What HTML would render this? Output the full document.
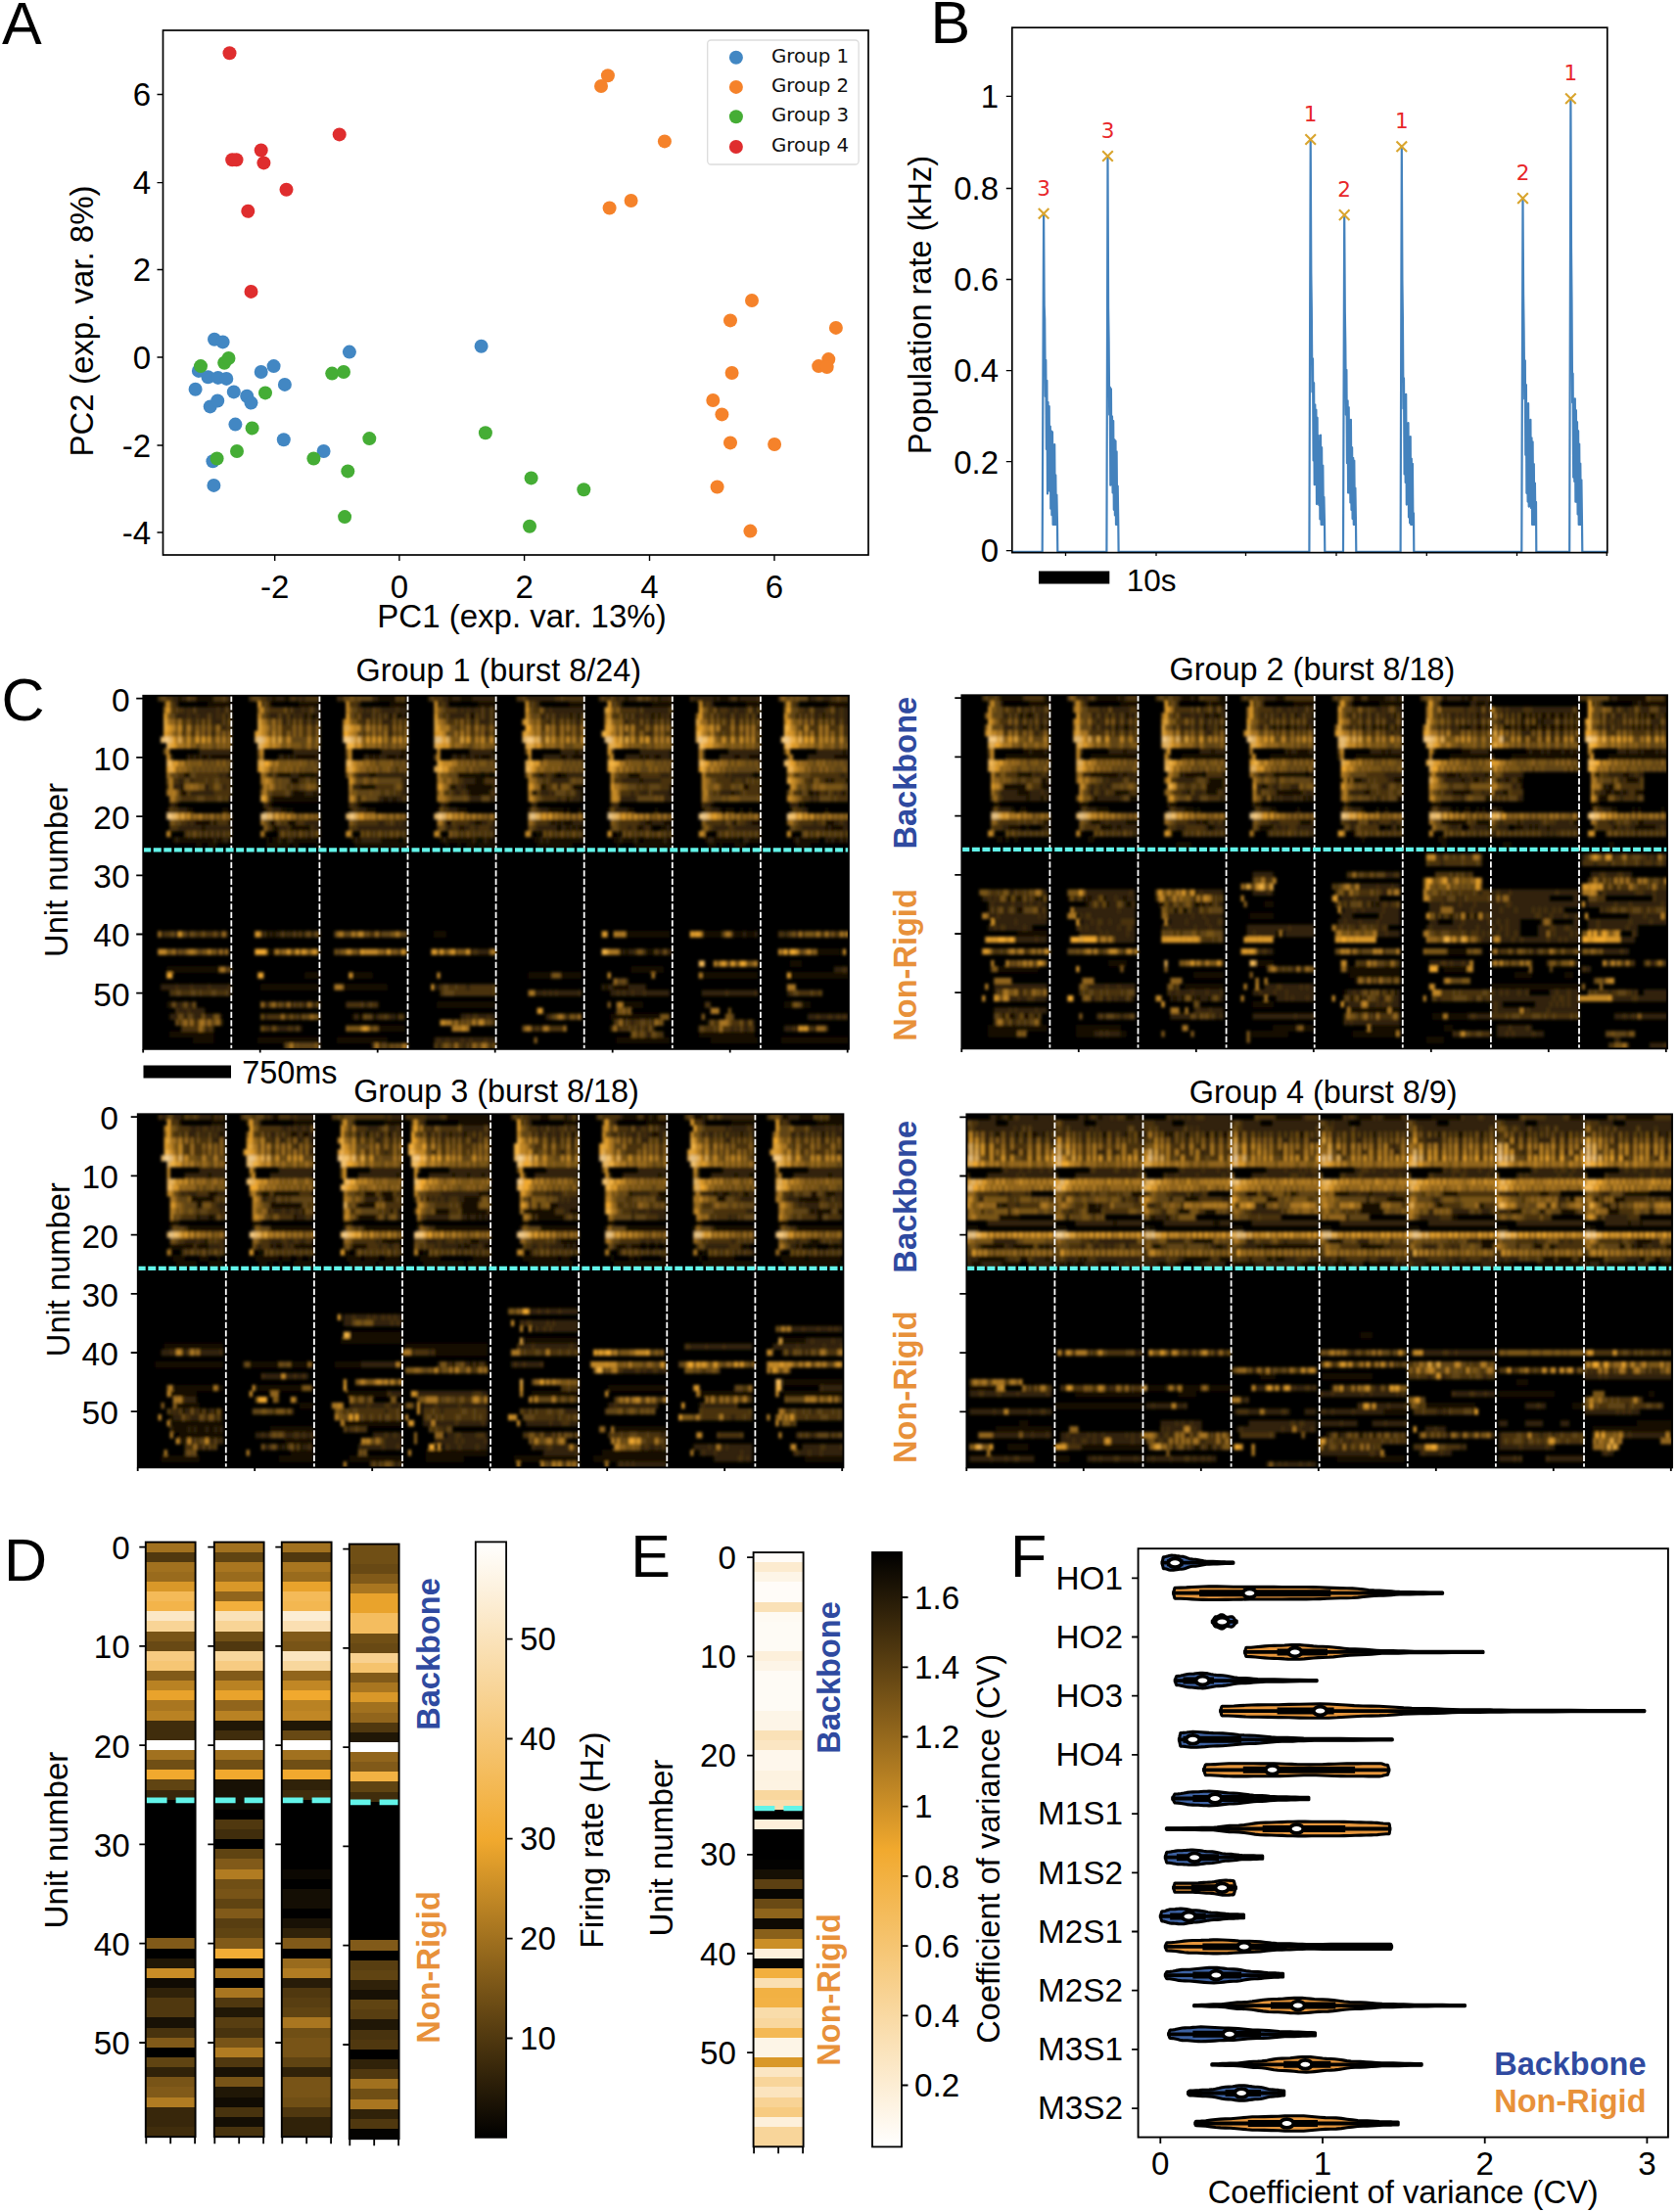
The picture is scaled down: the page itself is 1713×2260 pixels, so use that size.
<!DOCTYPE html>
<html><head><meta charset="utf-8"><title>Figure</title>
<style>html,body{margin:0;padding:0;background:#fff;overflow:hidden}svg{display:block}text{font-family:"Liberation Sans",sans-serif}</style>
</head><body>
<svg width="1713" height="2260" viewBox="0 0 1713 2260">
<rect width="1713" height="2260" fill="#fff"/>
<text x="2.1" y="44.7" font-size="61">A</text>
<g fill="#4287c3"><circle cx="219" cy="346.7" r="7"/><circle cx="227.6" cy="349.4" r="7"/><circle cx="202.9" cy="378.9" r="7"/><circle cx="199.6" cy="397.7" r="7"/><circle cx="212.5" cy="385.3" r="7"/><circle cx="222.7" cy="385.9" r="7"/><circle cx="231.3" cy="386.9" r="7"/><circle cx="238.8" cy="400.4" r="7"/><circle cx="252.2" cy="404.7" r="7"/><circle cx="256.5" cy="411.6" r="7"/><circle cx="214.7" cy="415.4" r="7"/><circle cx="222.2" cy="409.5" r="7"/><circle cx="240.4" cy="433.6" r="7"/><circle cx="266.7" cy="380" r="7"/><circle cx="279.6" cy="374.1" r="7"/><circle cx="290.9" cy="392.9" r="7"/><circle cx="289.8" cy="449.2" r="7"/><circle cx="330.6" cy="461" r="7"/><circle cx="217.4" cy="471.2" r="7"/><circle cx="218.4" cy="495.9" r="7"/><circle cx="356.9" cy="359.6" r="7"/><circle cx="491.6" cy="353.7" r="7"/></g>
<g fill="#f5822a"><circle cx="614" cy="88" r="7"/><circle cx="620.9" cy="77.3" r="7"/><circle cx="678.9" cy="144.4" r="7"/><circle cx="622.6" cy="212.5" r="7"/><circle cx="644.6" cy="205" r="7"/><circle cx="768" cy="307" r="7"/><circle cx="746" cy="327.4" r="7"/><circle cx="853.9" cy="334.9" r="7"/><circle cx="846.3" cy="367.1" r="7"/><circle cx="836.2" cy="374.1" r="7"/><circle cx="844.7" cy="375.1" r="7"/><circle cx="747.6" cy="381" r="7"/><circle cx="728.3" cy="409" r="7"/><circle cx="737.4" cy="423.4" r="7"/><circle cx="746" cy="452.4" r="7"/><circle cx="791.1" cy="454" r="7"/><circle cx="732.6" cy="497.5" r="7"/><circle cx="766.4" cy="542.6" r="7"/></g>
<g fill="#45ad35"><circle cx="205" cy="374.1" r="7"/><circle cx="229.2" cy="370.8" r="7"/><circle cx="233.5" cy="366" r="7"/><circle cx="271" cy="401.4" r="7"/><circle cx="257.6" cy="437.4" r="7"/><circle cx="242" cy="461" r="7"/><circle cx="221.6" cy="468.5" r="7"/><circle cx="339.2" cy="381.6" r="7"/><circle cx="351" cy="380" r="7"/><circle cx="377.3" cy="448.1" r="7"/><circle cx="320.4" cy="468.5" r="7"/><circle cx="355.3" cy="481.4" r="7"/><circle cx="352.1" cy="528.1" r="7"/><circle cx="495.9" cy="442.2" r="7"/><circle cx="542.6" cy="488.4" r="7"/><circle cx="596.3" cy="500.2" r="7"/><circle cx="541" cy="537.8" r="7"/></g>
<g fill="#df2d2e"><circle cx="234.5" cy="54.2" r="7"/><circle cx="346.7" cy="137.4" r="7"/><circle cx="237.2" cy="163.2" r="7"/><circle cx="241.5" cy="163.2" r="7"/><circle cx="266.7" cy="153.5" r="7"/><circle cx="269.4" cy="166.4" r="7"/><circle cx="292.5" cy="193.7" r="7"/><circle cx="253.3" cy="215.7" r="7"/><circle cx="256.5" cy="297.9" r="7"/></g>
<rect x="166.5" y="31" width="720.5" height="536" fill="none" stroke="#000" stroke-width="1.7"/>
<text x="280.7" y="611" font-size="33" text-anchor="middle">-2</text>
<text x="407.9" y="611" font-size="33" text-anchor="middle">0</text>
<text x="535.6" y="611" font-size="33" text-anchor="middle">2</text>
<text x="663.5" y="611" font-size="33" text-anchor="middle">4</text>
<text x="791" y="611" font-size="33" text-anchor="middle">6</text>
<text x="154" y="108.3" font-size="33" text-anchor="end">6</text>
<text x="154" y="198.4" font-size="33" text-anchor="end">4</text>
<text x="154" y="287.3" font-size="33" text-anchor="end">2</text>
<text x="154" y="376.8" font-size="33" text-anchor="end">0</text>
<text x="154" y="466.8" font-size="33" text-anchor="end">-2</text>
<text x="154" y="555.8" font-size="33" text-anchor="end">-4</text>
<path d="M280.7 567v6M407.9 567v6M535.6 567v6M663.5 567v6M791 567v6M166.5 96.5h-6M166.5 186.6h-6M166.5 275.5h-6M166.5 365h-6M166.5 455h-6M166.5 544h-6" stroke="#000" stroke-width="1.4"/>
<text x="533" y="641" font-size="33" text-anchor="middle">PC1 (exp. var. 13%)</text>
<text font-size="33" text-anchor="middle" transform="translate(95 328) rotate(-90)">PC2 (exp. var. 8%)</text>
<rect x="722.7" y="41" width="154.4" height="127" fill="#fff" stroke="#dcdcdc" stroke-width="1.3" rx="3.5"/>
<circle cx="751.9" cy="58.8" r="7" fill="#4287c3"/>
<text x="788" y="63.6" font-size="19.8" fill="#111" style="font-family:'DejaVu Sans',sans-serif">Group 1</text>
<circle cx="751.9" cy="88.9" r="7" fill="#f5822a"/>
<text x="788" y="93.7" font-size="19.8" fill="#111" style="font-family:'DejaVu Sans',sans-serif">Group 2</text>
<circle cx="751.9" cy="119.3" r="7" fill="#45ad35"/>
<text x="788" y="124.1" font-size="19.8" fill="#111" style="font-family:'DejaVu Sans',sans-serif">Group 3</text>
<circle cx="751.9" cy="150" r="7" fill="#df2d2e"/>
<text x="788" y="154.8" font-size="19.8" fill="#111" style="font-family:'DejaVu Sans',sans-serif">Group 4</text>
<text x="950.5" y="44.4" font-size="61">B</text>
<path d="M1033.8 563.8L1064.7 563.8L1066.1 218.3L1066.7 312.3L1067.2 326.2L1067.8 405L1068.3 367.9L1068.9 459L1069.4 388.8L1070 504.4L1070.5 410.9L1071.1 492.7L1071.7 415.2L1072.2 501.7L1072.8 435.5L1073.3 519.7L1073.9 440.4L1074.4 526.2L1075 441.4L1075.6 535.9L1076.1 459.4L1076.7 535.9L1077.2 454.1L1077.8 535.9L1078.3 485.4L1078.9 535.9L1079.4 505.6L1080 535.9L1080.3 563.8L1130.4 563.8L1131.5 159.5L1132.1 314.7L1132.6 347.9L1133.2 423.7L1133.8 395.7L1134.3 495.7L1134.9 397.4L1135.5 494.7L1136 425.4L1136.6 503.5L1137.2 430.1L1137.8 520.8L1138.3 449.1L1138.9 526.5L1139.5 450.5L1140 535.9L1140.6 461.4L1141.2 535.9L1141.7 496.5L1142.3 535.9L1142.6 563.8L1337.4 563.8L1338.7 142.5L1339.3 278.4L1339.8 315.2L1340.4 400.5L1341 366.4L1341.6 470.5L1342.1 391.2L1342.7 495.2L1343.3 413.3L1343.8 494.9L1344.4 418.7L1345 515.1L1345.6 426.8L1346.1 514.1L1346.7 444.8L1347.3 516.1L1347.9 454.3L1348.4 530.5L1349 444.7L1349.6 535.9L1350.1 457.1L1350.7 535.9L1351.3 475.6L1351.9 535.9L1352.4 507.8L1353 535.9L1353.3 563.8L1372 563.8L1373.2 219.6L1373.8 317.9L1374.3 351.7L1374.9 423.8L1375.4 377.9L1376 473.2L1376.6 409.4L1377.1 503.5L1377.7 416.2L1378.3 503.5L1378.8 435.3L1379.4 513.5L1379.9 428.8L1380.5 520.9L1381.1 457L1381.6 530.1L1382.2 467.8L1382.8 535.9L1383.3 470.6L1383.9 535.9L1384.4 498.5L1385 535.9L1385.3 563.8L1430.6 563.8L1431.8 149.8L1432.4 285.4L1432.9 324.3L1433.5 417.5L1434 386.4L1434.6 484.5L1435.1 410.1L1435.7 492.9L1436.2 402.8L1436.8 515.6L1437.3 434.3L1437.9 505.5L1438.5 432.2L1439 528.4L1439.6 448.9L1440.1 534.3L1440.7 446.1L1441.2 535.9L1441.8 468.5L1442.3 535.9L1442.9 473.8L1443.4 535.9L1444 524.4L1444.3 563.8L1554.3 563.8L1555.5 202.6L1556.1 301L1556.6 338L1557.2 407.5L1557.8 368.3L1558.3 464.8L1558.9 393.1L1559.4 503.8L1560 413L1560.6 512.6L1561.1 412.2L1561.7 517.6L1562.2 429.5L1562.8 509.5L1563.4 428.8L1563.9 518.9L1564.5 447.3L1565.1 535.9L1565.6 451.4L1566.2 535.9L1566.8 474L1567.3 535.9L1567.9 493.5L1568.4 535.9L1569 512.9L1569.3 563.8L1603.2 563.8L1604.4 100.8L1605 253.9L1605.5 307.2L1606.1 411.3L1606.6 381.7L1607.2 487.7L1607.7 408.2L1608.3 492L1608.8 407.3L1609.4 512.7L1609.9 419.2L1610.5 512.8L1611 431.1L1611.6 525.4L1612.1 440.2L1612.7 535.9L1613.2 453.6L1613.8 535.9L1614.3 473.5L1614.9 535.9L1615.4 490.3L1616 535.9L1616.3 563.8L1641.8 563.8" fill="none" stroke="#4482bd" stroke-width="2.2" stroke-linejoin="round"/>
<text x="1066.1" y="199.5" font-size="21.5" text-anchor="middle" fill="#e8262a" style="font-family:'DejaVu Sans',sans-serif">3</text>
<text x="1131.5" y="140.7" font-size="21.5" text-anchor="middle" fill="#e8262a" style="font-family:'DejaVu Sans',sans-serif">3</text>
<text x="1338.7" y="123.7" font-size="21.5" text-anchor="middle" fill="#e8262a" style="font-family:'DejaVu Sans',sans-serif">1</text>
<text x="1373.2" y="200.8" font-size="21.5" text-anchor="middle" fill="#e8262a" style="font-family:'DejaVu Sans',sans-serif">2</text>
<text x="1431.8" y="131" font-size="21.5" text-anchor="middle" fill="#e8262a" style="font-family:'DejaVu Sans',sans-serif">1</text>
<text x="1555.5" y="183.8" font-size="21.5" text-anchor="middle" fill="#e8262a" style="font-family:'DejaVu Sans',sans-serif">2</text>
<text x="1604.4" y="82" font-size="21.5" text-anchor="middle" fill="#e8262a" style="font-family:'DejaVu Sans',sans-serif">1</text>
<path d="M1060.8 213l10.6 10.6m0 -10.6l-10.6 10.6M1126.2 154.2l10.6 10.6m0 -10.6l-10.6 10.6M1333.4 137.2l10.6 10.6m0 -10.6l-10.6 10.6M1367.9 214.3l10.6 10.6m0 -10.6l-10.6 10.6M1426.5 144.5l10.6 10.6m0 -10.6l-10.6 10.6M1550.2 197.3l10.6 10.6m0 -10.6l-10.6 10.6M1599.1 95.5l10.6 10.6m0 -10.6l-10.6 10.6" fill="none" stroke="#d9a52e" stroke-width="2.1"/>
<rect x="1033.8" y="28.2" width="608" height="536.4" fill="none" stroke="#000" stroke-width="1.7"/>
<text x="1020" y="110.2" font-size="33" text-anchor="end">1</text>
<text x="1020" y="204.3" font-size="33" text-anchor="end">0.8</text>
<text x="1020" y="297.3" font-size="33" text-anchor="end">0.6</text>
<text x="1020" y="390.4" font-size="33" text-anchor="end">0.4</text>
<text x="1020" y="483.5" font-size="33" text-anchor="end">0.2</text>
<text x="1020" y="574.4" font-size="33" text-anchor="end">0</text>
<path d="M1033.8 98.4h-6M1033.8 192.5h-6M1033.8 285.5h-6M1033.8 378.6h-6M1033.8 471.7h-6M1033.8 562.6h-6M1088.5 564.6v3.5M1181 564.6v3.5M1272.5 564.6v3.5M1365 564.6v3.5M1457.3 564.6v3.5M1549.5 564.6v3.5M1641.3 564.6v3.5" stroke="#000" stroke-width="1.3"/>
<text font-size="32.5" text-anchor="middle" transform="translate(951 311.5) rotate(-90)">Population rate (kHz)</text>
<rect x="1061" y="583.5" width="72.3" height="13" fill="#000"/>
<text x="1150.8" y="604.3" font-size="31.5">10s</text>
<defs><filter id="hb" x="-2%" y="-2%" width="104%" height="104%"><feGaussianBlur stdDeviation="0.55 0.27"/></filter></defs>
<clipPath id="cp1"><rect x="146.2" y="710.7" width="720.8" height="361.2"/></clipPath>
<rect x="146.2" y="710.7" width="720.8" height="361.2" fill="#000"/>
<g clip-path="url(#cp1)"><g filter="url(#hb)" transform="translate(146.2 713.7) scale(3.0033 6.020)" stroke-width="1.04" fill="none">
<path stroke="#181105" d="M12 0h1M18 0h6M44 0h1M48 0h2M80 0h6M89 0h1M104 0h1M108 0h4M164 0h1M175 0h1M194 0h1M196 0h3M202 0h1M226 0h1M22 1h8M43 1h1M53 1h7M84 1h6M114 1h6M145 1h5M173 1h7M205 1h5M233 1h7M28 3h1M50 3h1M55 3h1M57 3h2M84 3h1M86 3h2M89 3h1M111 3h2M145 3h1M148 3h1M173 3h1M175 3h1M179 3h1M206 3h1M209 3h1M231 3h1M88 9h1M119 9h1M147 9h1M179 9h1M238 9h1M16 10h1M18 10h1M20 10h2M23 10h7M48 10h1M50 10h1M52 10h7M77 10h1M79 10h1M83 10h3M87 10h2M107 10h1M110 10h1M113 10h1M115 10h3M142 10h2M146 10h4M169 10h1M171 10h1M174 10h2M179 10h1M201 10h2M206 10h4M235 10h5M14 13h2M29 13h1M46 13h4M53 13h6M77 13h2M107 13h8M116 13h2M119 13h1M135 13h1M140 13h1M142 13h2M165 13h4M207 13h1M209 13h1M50 14h3M59 14h1M113 14h3M169 14h1M232 14h1M234 14h1M239 14h1M13 15h1M21 15h1M74 15h5M105 15h1M110 15h9M135 15h2M141 15h1M146 15h4M179 15h1M204 15h2M13 16h2M51 16h4M58 16h1M111 16h7M133 16h1M149 16h1M179 16h1M200 16h1M226 16h2M229 16h1M238 16h1M29 17h1M44 17h16M73 17h1M82 17h1M85 17h1M144 17h1M149 17h1M11 18h1M43 18h1M73 18h1M103 18h1M193 18h1M224 18h1M8 19h1M15 19h2M27 19h2M41 19h1M47 19h2M50 19h1M70 19h1M76 19h3M100 19h1M107 19h3M138 19h5M144 19h1M148 19h1M158 19h1M165 19h2M174 19h1M190 19h1M196 19h1M198 19h3M203 19h1M206 19h1M220 19h1M232 19h1M18 21h5M24 21h1M29 21h1M43 21h2M49 21h3M103 21h2M113 21h2M139 21h1M141 21h1M143 21h3M171 21h2M177 21h3M201 21h1M207 21h3M232 21h3M20 22h1M44 22h2M50 22h7M108 22h1M144 22h1M146 22h1M148 22h2M168 22h2M176 22h2M179 22h1M232 22h1M234 22h4M9 23h1M41 23h1M134 23h1M159 23h1M161 23h1M191 23h1M220 23h1M10 24h1M12 24h12M25 24h2M29 24h1M42 24h1M44 24h2M47 24h2M51 24h8M71 24h1M73 24h1M81 24h6M88 24h1M101 24h1M103 24h9M113 24h1M115 24h1M117 24h3M133 24h2M136 24h1M138 24h12M160 24h2M163 24h4M168 24h1M170 24h7M178 24h2M191 24h1M194 24h9M206 24h4M221 24h1M223 24h7M233 24h1M235 24h2M238 24h1M18 25h2M22 25h3M42 25h8M51 25h2M59 25h1M72 25h18M103 25h1M107 25h1M110 25h3M114 25h6M134 25h12M161 25h1M167 25h13M192 25h3M196 25h1M201 25h4M222 25h5M42 40h1M44 40h1M54 40h1M99 40h4M164 40h15M191 40h6M201 40h3M205 40h3M42 43h3M162 43h1M164 43h1M171 43h3M229 43h8M220 45h4M8 46h18M166 46h11M55 47h5M71 47h7M131 47h8M142 47h7M190 47h19M220 47h20M40 49h20M68 49h15M157 49h1M160 49h5M8 52h1M100 52h20M163 52h7M218 52h3M224 52h3M14 54h1M26 54h1M71 54h1M73 54h2M78 54h1M86 54h1M159 54h17M80 56h9M9 57h15M189 57h19M17 58h7M39 58h21M66 58h17M161 58h18M193 58h16M217 58h23"/>
<path stroke="#302209" d="M10 0h2M13 0h2M29 0h1M42 0h2M45 0h3M52 0h1M54 0h1M67 0h1M78 0h2M102 0h2M105 0h3M112 0h8M131 0h9M161 0h1M163 0h1M165 0h3M173 0h1M176 0h3M187 0h7M195 0h1M199 0h1M203 0h6M227 0h2M231 0h3M11 1h1M73 1h1M100 1h1M103 1h1M134 1h1M162 1h1M190 1h1M193 1h1M222 1h1M14 2h1M16 2h1M18 2h7M26 2h2M29 2h1M49 2h1M51 2h3M55 2h1M58 2h2M75 2h1M77 2h1M81 2h5M87 2h3M107 2h1M109 2h1M111 2h2M114 2h1M116 2h2M119 2h1M137 2h1M139 2h11M168 2h1M170 2h9M195 2h1M199 2h2M202 2h3M207 2h2M225 2h1M228 2h4M235 2h2M238 2h2M11 3h4M16 3h2M19 3h3M23 3h2M26 3h1M43 3h3M47 3h2M52 3h1M54 3h1M59 3h1M74 3h4M79 3h1M81 3h1M83 3h1M88 3h1M104 3h6M114 3h1M116 3h2M119 3h1M135 3h2M138 3h1M140 3h2M143 3h1M147 3h1M163 3h1M165 3h1M167 3h2M170 3h1M172 3h1M177 3h1M194 3h1M196 3h1M198 3h2M201 3h2M204 3h1M208 3h1M222 3h1M224 3h1M226 3h1M228 3h2M233 3h1M235 3h2M238 3h2M17 4h1M19 4h1M21 4h1M23 4h4M28 4h1M47 4h2M50 4h1M52 4h1M54 4h2M57 4h2M75 4h1M77 4h1M79 4h1M81 4h4M86 4h1M88 4h1M109 4h1M111 4h2M114 4h4M119 4h1M138 4h1M140 4h1M143 4h1M145 4h1M147 4h2M164 4h1M168 4h1M170 4h1M172 4h2M175 4h1M177 4h1M179 4h1M199 4h1M201 4h2M204 4h1M206 4h1M208 4h1M226 4h1M228 4h1M231 4h1M233 4h1M235 4h2M238 4h2M27 5h1M84 5h1M88 5h1M238 5h1M21 6h1M23 6h1M83 6h2M116 6h1M172 6h1M204 6h1M238 6h1M19 9h11M51 9h9M81 9h7M89 9h1M111 9h8M142 9h5M148 9h2M169 9h10M199 9h11M229 9h9M239 9h1M15 10h1M17 10h1M19 10h1M22 10h1M46 10h2M49 10h1M51 10h1M59 10h1M75 10h2M78 10h1M80 10h3M86 10h1M89 10h1M105 10h2M108 10h2M111 10h2M114 10h1M118 10h2M136 10h6M144 10h2M164 10h5M170 10h1M172 10h2M176 10h3M196 10h5M203 10h3M226 10h9M26 13h1M28 13h1M43 13h1M45 13h1M50 13h3M59 13h1M73 13h4M79 13h10M134 13h1M136 13h1M139 13h1M144 13h6M176 13h3M198 13h1M200 13h7M237 13h2M12 14h2M16 14h1M88 14h2M109 14h4M139 14h6M163 14h6M170 14h6M200 14h1M204 14h1M227 14h1M233 14h1M10 15h3M27 15h1M72 15h2M88 15h2M104 15h1M106 15h1M108 15h2M16 16h8M50 16h1M55 16h3M59 16h1M88 16h2M106 16h2M110 16h1M132 16h1M135 16h3M139 16h1M147 16h2M166 16h1M169 16h3M173 16h6M196 16h4M201 16h2M223 16h1M228 16h1M232 16h1M235 16h1M237 16h1M43 17h1M80 17h2M83 17h2M86 17h2M111 17h4M118 17h1M141 17h1M146 17h3M162 17h6M177 17h3M227 17h1M229 17h1M9 18h2M42 18h1M72 18h1M101 18h2M132 18h2M159 18h1M161 18h1M191 18h2M220 18h3M12 19h3M44 19h3M73 19h3M104 19h3M131 19h1M135 19h3M161 19h4M193 19h3M224 19h2M15 21h1M17 21h1M55 21h5M80 21h2M86 21h1M88 21h2M111 21h2M115 21h2M119 21h1M138 21h1M140 21h1M142 21h1M146 21h4M169 21h2M173 21h4M197 21h1M200 21h1M205 21h2M228 21h1M235 21h2M238 21h2M12 22h8M21 22h9M46 22h3M58 22h2M73 22h17M103 22h2M107 22h1M109 22h2M113 22h1M118 22h2M134 22h7M142 22h2M145 22h1M147 22h1M165 22h1M170 22h1M172 22h1M178 22h1M194 22h5M201 22h9M224 22h8M233 22h1M238 22h2M20 23h1M22 23h1M24 23h1M26 23h1M52 23h1M56 23h1M119 23h1M178 23h1M238 23h1M11 24h1M24 24h1M27 24h2M46 24h1M49 24h2M72 24h1M74 24h7M89 24h1M102 24h1M112 24h1M116 24h1M135 24h1M137 24h1M162 24h1M167 24h1M177 24h1M192 24h2M204 24h2M222 24h1M232 24h1M234 24h1M237 24h1M239 24h1M6 40h1M11 40h1M15 40h1M26 40h1M28 40h1M40 40h1M43 40h1M45 40h2M48 40h1M50 40h1M52 40h1M57 40h1M190 40h1M200 40h1M204 40h1M208 40h1M218 40h1M222 40h1M111 43h1M114 43h4M163 43h1M165 43h2M175 43h2M178 43h2M235 46h3M239 46h1M6 49h5M12 49h4M17 49h5M23 49h6M100 49h1M110 49h1M156 49h1M158 49h2M165 49h6M29 50h1M133 50h3M137 50h1M139 50h1M141 50h7M159 50h2M162 50h1M164 50h2M167 50h3M171 50h8M190 50h8M199 50h9M219 50h1M9 52h1M11 52h2M15 52h2M42 52h1M50 52h1M55 52h1M58 52h1M75 52h1M12 53h3M16 53h5M9 54h3M17 54h3M21 54h3M41 54h1M53 54h1M79 54h1M84 54h2M108 54h2M111 54h1M114 54h3M118 54h2M137 54h1M144 54h1M226 54h3M230 54h3M234 54h2M237 54h1M239 54h1M163 55h1M166 55h1M173 55h1M192 55h1M204 55h2M207 55h1M21 56h1M43 56h1M46 56h3M51 56h1M53 56h1M132 56h1M135 56h1M161 56h1M168 56h1M171 56h1M173 56h1M200 56h1M202 56h1M204 56h2M218 56h3M222 56h1M228 56h1M171 57h2M99 58h1M101 58h2M104 58h4M109 58h2M112 58h4M117 58h3M100 59h1M109 59h1M111 59h1"/>
<path stroke="#48330e" d="M5 0h1M8 0h2M16 0h2M24 0h3M28 0h1M36 0h1M40 0h2M50 0h2M53 0h1M55 0h5M66 0h1M87 0h1M97 0h1M99 0h3M127 0h2M130 0h1M140 0h2M143 0h7M155 0h1M157 0h2M160 0h1M162 0h1M170 0h1M172 0h1M174 0h1M179 0h1M186 0h1M200 0h2M209 0h1M216 0h1M229 0h2M234 0h2M237 0h3M7 1h1M10 1h1M40 1h1M42 1h1M70 1h3M101 1h2M131 1h1M133 1h1M159 1h1M161 1h1M191 1h2M221 1h1M10 2h1M12 2h2M15 2h1M25 2h1M43 2h5M54 2h1M56 2h1M73 2h2M76 2h1M79 2h2M86 2h1M103 2h4M108 2h1M110 2h1M113 2h1M133 2h2M136 2h1M138 2h1M162 2h6M192 2h2M196 2h3M201 2h1M205 2h1M223 2h2M226 2h1M232 2h2M237 2h1M15 3h1M18 3h1M25 3h1M42 3h1M51 3h1M53 3h1M56 3h1M72 3h1M102 3h1M142 3h1M144 3h1M146 3h1M160 3h2M169 3h1M171 3h1M174 3h1M176 3h1M178 3h1M192 3h1M197 3h1M203 3h1M230 3h1M232 3h1M234 3h1M237 3h1M13 4h2M16 4h1M45 4h1M73 4h2M104 4h2M107 4h1M135 4h3M141 4h1M163 4h1M165 4h3M192 4h1M194 4h1M196 4h1M198 4h1M224 4h1M229 4h1M14 5h1M17 5h1M19 5h1M21 5h1M23 5h2M26 5h1M28 5h2M47 5h4M52 5h1M54 5h2M57 5h2M79 5h1M81 5h1M83 5h1M86 5h1M107 5h1M109 5h1M111 5h2M114 5h1M116 5h2M119 5h1M136 5h1M140 5h2M143 5h1M145 5h1M147 5h2M165 5h1M167 5h4M172 5h2M175 5h1M177 5h1M179 5h1M196 5h4M201 5h2M204 5h1M206 5h1M208 5h2M224 5h1M227 5h3M231 5h1M233 5h4M239 5h1M13 6h1M16 6h2M19 6h1M24 6h1M26 6h1M28 6h1M47 6h2M50 6h1M52 6h1M54 6h2M57 6h2M75 6h1M77 6h1M79 6h1M81 6h1M86 6h1M88 6h1M107 6h1M109 6h1M111 6h2M114 6h1M117 6h1M119 6h1M140 6h2M143 6h1M145 6h1M147 6h2M163 6h1M167 6h2M170 6h2M173 6h1M175 6h1M177 6h3M196 6h1M198 6h2M201 6h2M206 6h1M208 6h1M224 6h1M226 6h1M228 6h2M231 6h1M233 6h1M235 6h2M239 6h1M208 7h1M9 10h1M29 12h1M86 12h1M179 12h1M12 13h2M18 13h8M27 13h1M42 13h1M72 13h1M89 13h1M133 13h1M137 13h2M162 13h3M169 13h7M179 13h1M192 13h6M199 13h1M222 13h1M227 13h10M239 13h1M10 14h2M17 14h4M22 14h2M26 14h4M53 14h2M57 14h1M107 14h2M116 14h4M136 14h1M138 14h1M160 14h3M176 14h4M195 14h5M201 14h3M206 14h1M208 14h1M225 14h2M230 14h2M235 14h4M8 15h1M22 15h2M28 15h2M40 15h1M49 15h1M51 15h2M59 15h1M71 15h1M79 15h6M107 15h1M119 15h1M137 15h2M168 15h1M170 15h2M176 15h3M197 15h3M206 15h4M226 15h1M12 16h1M24 16h6M44 16h4M81 16h1M84 16h1M86 16h2M103 16h1M105 16h1M108 16h2M118 16h2M138 16h1M144 16h1M162 16h4M167 16h2M194 16h1M203 16h1M205 16h5M221 16h2M230 16h2M234 16h1M236 16h1M239 16h1M13 17h5M21 17h4M27 17h1M88 17h2M119 17h1M136 17h5M142 17h2M145 17h1M224 17h3M228 17h1M234 17h1M236 17h4M41 18h1M70 18h2M160 18h1M190 18h1M10 19h2M42 19h2M71 19h2M102 19h2M134 19h1M160 19h1M191 19h2M222 19h2M13 21h2M16 21h1M23 21h1M25 21h4M47 21h1M52 21h3M73 21h7M82 21h2M85 21h1M87 21h1M106 21h5M117 21h2M134 21h4M162 21h7M192 21h5M203 21h2M223 21h5M229 21h2M237 21h1M9 22h3M43 22h1M49 22h1M57 22h1M71 22h2M105 22h2M111 22h2M114 22h4M133 22h1M162 22h3M166 22h2M171 22h1M193 22h1M199 22h2M222 22h2M14 23h1M16 23h1M18 23h1M28 23h1M46 23h1M48 23h1M50 23h1M54 23h1M58 23h1M75 23h1M77 23h1M79 23h1M81 23h1M83 23h1M85 23h1M87 23h1M89 23h1M107 23h1M109 23h1M111 23h1M113 23h1M115 23h1M117 23h1M137 23h1M139 23h1M141 23h1M143 23h1M145 23h1M147 23h1M149 23h1M164 23h1M166 23h1M168 23h1M170 23h1M172 23h1M174 23h1M176 23h1M195 23h1M197 23h1M199 23h1M201 23h1M203 23h1M205 23h1M207 23h1M209 23h1M226 23h1M228 23h1M230 23h1M232 23h1M234 23h1M236 23h1M7 40h2M18 40h2M21 40h3M25 40h1M41 40h1M49 40h1M77 40h2M80 40h1M216 40h2M219 40h1M224 40h1M231 40h1M233 40h1M235 40h2M11 43h1M25 43h1M27 43h1M112 43h2M167 43h1M170 43h1M28 46h1M238 46h1M164 48h1M11 49h1M16 49h1M22 49h1M29 49h1M101 49h1M104 49h2M107 49h3M111 49h8M9 50h2M13 50h3M18 50h1M20 50h3M25 50h3M101 50h1M106 50h13M136 50h1M138 50h1M140 50h1M148 50h1M161 50h1M163 50h1M166 50h1M170 50h1M198 50h1M208 50h1M220 50h1M223 50h4M228 50h2M13 52h1M41 52h1M45 52h1M48 52h1M52 52h1M54 52h1M69 52h5M76 52h1M78 52h2M191 52h2M11 53h1M15 53h1M42 54h5M48 54h2M51 54h1M72 54h1M80 54h2M83 54h1M88 54h1M110 54h1M112 54h2M117 54h1M138 54h1M229 54h1M233 54h1M236 54h1M238 54h1M12 55h1M15 55h1M17 55h2M26 55h1M107 55h1M119 55h1M160 55h1M165 55h1M167 55h2M171 55h1M194 55h2M200 55h3M13 56h6M22 56h2M41 56h2M45 56h1M49 56h2M133 56h2M138 56h5M159 56h1M162 56h3M166 56h1M170 56h1M191 56h3M195 56h1M197 56h3M201 56h1M206 56h2M221 56h1M226 56h2M232 56h1M168 57h1M175 57h2M100 58h1M103 58h1M108 58h1M111 58h1M116 58h1M80 59h1M83 59h1M101 59h1M105 59h1M107 59h2M118 59h1"/>
<path stroke="#604412" d="M6 0h2M15 0h1M27 0h1M37 0h3M68 0h2M72 0h1M74 0h4M86 0h1M88 0h1M98 0h1M129 0h1M142 0h1M156 0h1M159 0h1M168 0h2M171 0h1M219 0h1M221 0h1M223 0h3M236 0h1M9 1h1M41 1h1M132 1h1M160 1h1M218 1h1M220 1h1M11 2h1M17 2h1M28 2h1M41 2h2M50 2h1M57 2h1M71 2h2M78 2h1M102 2h1M115 2h1M118 2h1M132 2h1M160 2h1M169 2h1M179 2h1M209 2h1M221 2h2M9 3h2M22 3h1M27 3h1M29 3h1M41 3h1M46 3h1M49 3h1M71 3h1M78 3h1M80 3h1M82 3h1M85 3h1M101 3h1M103 3h1M110 3h1M113 3h1M115 3h1M118 3h1M132 3h2M137 3h1M139 3h1M149 3h1M159 3h1M164 3h1M166 3h1M191 3h1M195 3h1M200 3h1M205 3h1M207 3h1M220 3h2M223 3h1M225 3h1M227 3h1M11 4h1M18 4h1M27 4h1M43 4h1M49 4h1M56 4h1M59 4h1M103 4h1M118 4h1M146 4h1M171 4h1M174 4h1M178 4h1M237 4h1M13 5h1M16 5h1M43 5h1M45 5h1M74 5h2M77 5h1M105 5h2M135 5h1M138 5h1M163 5h1M194 5h1M223 5h1M226 5h1M14 6h1M43 6h1M45 6h1M73 6h2M103 6h3M135 6h2M138 6h1M161 6h1M164 6h2M194 6h2M197 6h1M19 7h1M23 7h1M26 7h1M28 7h1M51 7h5M57 7h2M81 7h1M83 7h2M86 7h1M88 7h1M112 7h1M116 7h2M119 7h1M143 7h1M145 7h1M147 7h2M168 7h1M172 7h2M175 7h1M177 7h1M179 7h1M199 7h1M202 7h1M204 7h1M206 7h1M209 7h1M229 7h1M233 7h1M235 7h2M238 7h2M18 8h1M24 8h1M54 8h1M57 8h1M81 8h1M83 8h1M86 8h1M111 8h1M143 8h1M145 8h1M170 8h1M173 8h1M204 8h1M208 8h1M235 8h2M238 8h1M159 9h1M190 9h1M99 10h1M190 10h1M20 11h1M22 11h1M24 11h1M26 11h1M28 11h1M56 11h1M58 11h2M79 11h1M85 11h1M87 11h1M89 11h1M111 11h1M113 11h1M117 11h1M119 11h1M143 11h1M145 11h1M147 11h1M149 11h1M170 11h1M174 11h1M176 11h1M178 11h1M199 11h1M201 11h1M205 11h1M207 11h1M209 11h1M228 11h1M232 11h1M234 11h1M236 11h1M238 11h2M17 12h1M19 12h1M21 12h1M23 12h1M25 12h1M27 12h1M51 12h1M53 12h1M55 12h3M59 12h1M80 12h1M84 12h2M88 12h1M110 12h1M112 12h1M114 12h5M142 12h1M144 12h1M146 12h1M148 12h1M167 12h1M169 12h3M173 12h1M175 12h1M177 12h1M198 12h1M200 12h1M202 12h7M227 12h1M229 12h1M231 12h1M233 12h1M235 12h3M239 12h1M10 13h2M16 13h2M44 13h1M104 13h3M132 13h1M161 13h1M191 13h1M221 13h1M223 13h4M14 14h2M21 14h1M24 14h2M45 14h1M47 14h3M55 14h2M58 14h1M73 14h2M77 14h1M80 14h8M105 14h1M134 14h2M137 14h1M145 14h1M147 14h3M193 14h2M205 14h1M207 14h1M209 14h1M26 15h1M45 15h1M47 15h2M50 15h1M53 15h2M85 15h1M145 15h1M165 15h3M169 15h1M172 15h4M196 15h1M201 15h2M223 15h1M225 15h1M227 15h1M238 15h2M15 16h1M42 16h2M48 16h2M73 16h4M78 16h3M82 16h2M85 16h1M102 16h1M104 16h1M134 16h1M140 16h4M145 16h2M172 16h1M192 16h2M195 16h1M204 16h1M219 16h1M224 16h2M233 16h1M12 17h1M18 17h3M25 17h2M28 17h1M76 17h4M105 17h4M110 17h1M115 17h3M135 17h1M168 17h6M175 17h1M193 17h4M198 17h1M203 17h6M230 17h4M235 17h1M9 19h1M133 19h1M221 19h1M24 20h1M26 20h1M52 20h1M85 20h1M89 20h1M117 20h1M145 20h1M147 20h1M172 20h1M176 20h1M178 20h1M203 20h1M209 20h1M11 21h2M42 21h1M45 21h2M48 21h1M72 21h1M84 21h1M102 21h1M105 21h1M133 21h1M161 21h1M191 21h1M198 21h2M202 21h1M222 21h1M231 21h1M42 22h1M70 22h1M100 22h1M102 22h1M132 22h1M159 22h1M161 22h1M190 22h1M192 22h1M220 22h2M15 23h1M19 23h1M21 23h1M23 23h1M25 23h1M27 23h1M29 23h1M49 23h1M51 23h1M55 23h1M57 23h1M78 23h1M82 23h1M88 23h1M105 23h1M108 23h1M112 23h1M114 23h1M116 23h1M118 23h1M140 23h1M144 23h1M148 23h1M167 23h1M169 23h1M173 23h1M177 23h1M179 23h1M196 23h1M200 23h1M202 23h1M204 23h1M206 23h1M208 23h1M224 23h1M227 23h1M231 23h1M233 23h1M235 23h1M237 23h1M239 23h1M9 40h2M14 40h1M17 40h1M47 40h1M51 40h1M53 40h1M55 40h1M58 40h1M65 40h1M68 40h3M75 40h1M81 40h3M88 40h2M197 40h1M220 40h1M228 40h1M230 40h1M13 43h1M19 43h1M66 43h1M73 43h1M87 43h1M100 43h1M106 43h1M174 43h1M219 43h1M223 43h2M199 45h1M161 48h2M102 49h2M106 49h1M119 49h1M11 50h2M16 50h2M19 50h1M23 50h2M28 50h1M102 50h4M119 50h1M221 50h2M227 50h1M230 50h1M47 52h1M51 52h1M53 52h1M57 52h1M74 52h1M77 52h1M223 52h1M164 53h1M13 54h1M15 54h2M52 54h1M55 54h1M76 54h2M82 54h1M87 54h1M139 54h1M143 54h1M147 54h1M200 54h1M21 55h1M23 55h1M105 55h1M109 55h1M111 55h1M113 55h1M116 55h1M118 55h1M161 55h1M164 55h1M169 55h2M172 55h1M52 56h1M77 56h1M165 56h1M167 56h1M169 56h1M189 56h2M194 56h1M203 56h1M170 57h1M174 57h1M48 59h1M51 59h1M53 59h5M78 59h1M81 59h2M85 59h1M87 59h1M99 59h1M104 59h1M110 59h1M114 59h1M117 59h1"/>
<path stroke="#785417" d="M70 0h2M73 0h1M218 0h1M220 0h1M222 0h1M9 2h1M48 2h1M101 2h1M131 2h1M191 2h1M194 2h1M206 2h1M220 2h1M227 2h1M234 2h1M40 3h1M70 3h1M73 3h1M100 3h1M134 3h1M162 3h1M190 3h1M193 3h1M15 4h1M20 4h1M22 4h1M29 4h1M42 4h1M51 4h1M53 4h1M71 4h2M78 4h1M80 4h1M85 4h1M87 4h1M89 4h1M106 4h1M110 4h1M113 4h1M133 4h1M139 4h1M142 4h1M144 4h1M149 4h1M160 4h2M169 4h1M176 4h1M195 4h1M197 4h1M203 4h1M205 4h1M207 4h1M209 4h1M221 4h2M230 4h1M232 4h1M234 4h1M11 5h1M104 5h1M161 5h1M222 5h1M11 6h1M85 6h1M87 6h1M118 6h1M144 6h1M192 6h1M209 6h1M222 6h1M14 7h1M16 7h2M21 7h1M24 7h1M45 7h1M47 7h2M50 7h1M75 7h1M77 7h1M79 7h1M105 7h1M107 7h1M109 7h1M111 7h1M114 7h1M136 7h1M138 7h1M140 7h2M163 7h1M165 7h1M167 7h1M170 7h1M195 7h2M198 7h1M201 7h1M228 7h1M231 7h1M16 8h1M19 8h1M21 8h1M23 8h1M26 8h1M28 8h1M47 8h2M50 8h4M55 8h1M58 8h1M75 8h1M79 8h1M84 8h1M88 8h2M105 8h1M109 8h2M112 8h1M114 8h1M116 8h4M136 8h1M140 8h2M144 8h1M146 8h3M165 8h1M167 8h3M171 8h2M175 8h1M177 8h3M198 8h2M201 8h2M206 8h1M209 8h1M228 8h2M231 8h3M239 8h1M7 9h1M130 9h1M218 9h1M39 10h1M69 10h1M158 10h1M219 10h1M14 11h1M16 11h3M21 11h1M23 11h1M29 11h1M46 11h3M50 11h3M54 11h2M57 11h1M77 11h1M80 11h4M86 11h1M88 11h1M107 11h1M109 11h1M114 11h3M118 11h1M135 11h1M138 11h5M144 11h1M146 11h1M148 11h1M164 11h1M166 11h4M172 11h2M175 11h1M177 11h1M179 11h1M203 11h2M206 11h1M208 11h1M226 11h2M230 11h1M233 11h1M235 11h1M237 11h1M15 12h2M18 12h1M20 12h1M22 12h1M24 12h1M26 12h1M28 12h1M43 12h1M46 12h2M49 12h1M54 12h1M58 12h1M76 12h1M78 12h1M81 12h2M87 12h1M89 12h1M106 12h4M113 12h1M119 12h1M137 12h2M140 12h1M143 12h1M145 12h1M147 12h1M149 12h1M163 12h1M165 12h1M176 12h1M178 12h1M196 12h1M199 12h1M201 12h1M209 12h1M225 12h1M228 12h1M234 12h1M238 12h1M9 13h1M69 13h1M71 13h1M101 13h3M130 13h1M160 13h1M8 14h1M44 14h1M46 14h1M72 14h1M76 14h1M78 14h2M102 14h1M106 14h1M146 14h1M224 14h1M228 14h2M19 15h2M24 15h2M46 15h1M55 15h1M57 15h2M86 15h2M139 15h2M142 15h3M163 15h2M192 15h2M200 15h1M203 15h1M222 15h1M224 15h1M229 15h1M232 15h6M71 16h2M77 16h1M11 17h1M42 17h1M72 17h1M74 17h2M104 17h1M109 17h1M134 17h1M174 17h1M176 17h1M192 17h1M197 17h1M199 17h4M209 17h1M223 17h1M101 19h1M132 19h1M159 19h1M16 20h1M20 20h1M22 20h1M28 20h1M54 20h1M56 20h1M58 20h1M79 20h1M83 20h1M87 20h1M109 20h1M111 20h1M113 20h1M115 20h1M119 20h1M143 20h1M149 20h1M170 20h1M174 20h1M197 20h1M199 20h1M201 20h1M205 20h1M207 20h1M228 20h1M230 20h1M232 20h1M234 20h1M236 20h1M238 20h1M9 21h2M41 21h1M71 21h1M160 21h1M221 21h1M101 22h1M131 22h1M160 22h1M17 23h1M47 23h1M53 23h1M59 23h1M74 23h1M76 23h1M80 23h1M84 23h1M86 23h1M106 23h1M110 23h1M136 23h1M138 23h1M142 23h1M146 23h1M163 23h1M165 23h1M171 23h1M175 23h1M198 23h1M225 23h1M229 23h1M13 40h1M16 40h1M20 40h1M24 40h1M56 40h1M59 40h1M72 40h1M76 40h1M84 40h2M87 40h1M221 40h1M225 40h3M234 40h1M238 40h1M8 43h2M12 43h1M14 43h1M18 43h1M20 43h2M23 43h2M46 43h1M50 43h2M53 43h1M56 43h1M59 43h1M65 43h1M67 43h2M71 43h2M82 43h1M84 43h1M86 43h1M89 43h1M102 43h2M108 43h2M168 43h2M177 43h1M227 43h1M195 45h1M202 45h1M205 45h2M29 46h1M139 47h3M163 48h1M10 52h1M14 52h1M17 52h1M43 52h1M46 52h1M59 52h1M221 52h2M161 53h2M199 53h1M12 54h1M20 54h1M24 54h2M40 54h1M50 54h1M54 54h1M56 54h1M58 54h2M75 54h1M140 54h1M145 54h2M176 54h3M198 54h2M11 55h1M13 55h1M24 55h1M108 55h1M110 55h1M117 55h1M175 55h2M193 55h1M199 55h1M203 55h1M206 55h1M20 56h1M40 56h1M44 56h1M70 56h4M78 56h2M129 56h1M172 56h1M166 57h2M169 57h1M173 57h1M49 59h1M52 59h1M58 59h2M84 59h1M86 59h1M102 59h2M113 59h1M119 59h1"/>
<path stroke="#91651c" d="M217 0h1M70 2h1M100 2h1M135 2h1M159 2h1M161 2h1M190 2h1M218 2h1M8 3h1M131 3h1M188 3h1M219 3h1M9 4h2M46 4h1M76 4h1M102 4h1M108 4h1M132 4h1M162 4h1M190 4h2M193 4h1M200 4h1M223 4h1M225 4h1M227 4h1M18 5h1M20 5h1M22 5h1M51 5h1M53 5h1M56 5h1M59 5h1M82 5h1M85 5h1M87 5h1M89 5h1M108 5h1M115 5h1M118 5h1M133 5h1M146 5h1M171 5h1M178 5h1M237 5h1M10 6h1M20 6h1M22 6h1M25 6h1M27 6h1M29 6h1M42 6h1M49 6h1M51 6h1M53 6h1M56 6h1M59 6h1M76 6h1M80 6h1M89 6h1M113 6h1M115 6h1M133 6h1M146 6h1M149 6h1M169 6h1M174 6h1M176 6h1M200 6h1M203 6h1M234 6h1M237 6h1M106 7h1M135 7h1M224 7h1M226 7h1M14 8h1M17 8h1M20 8h1M22 8h1M25 8h1M27 8h1M29 8h1M59 8h1M77 8h1M82 8h1M85 8h1M87 8h1M107 8h2M113 8h1M138 8h1M149 8h1M163 8h1M166 8h1M174 8h1M176 8h1M196 8h2M200 8h1M203 8h1M205 8h1M207 8h1M226 8h1M234 8h1M237 8h1M39 9h1M69 9h1M15 11h1M19 11h1M25 11h1M27 11h1M44 11h1M49 11h1M53 11h1M75 11h1M78 11h1M84 11h1M108 11h1M110 11h1M112 11h1M137 11h1M165 11h1M171 11h1M193 11h1M195 11h1M197 11h2M200 11h1M202 11h1M222 11h1M224 11h2M229 11h1M231 11h1M11 12h1M13 12h2M44 12h2M48 12h1M50 12h1M52 12h1M74 12h2M77 12h1M79 12h1M83 12h1M104 12h2M111 12h1M134 12h1M136 12h1M139 12h1M141 12h1M161 12h1M166 12h1M168 12h1M172 12h1M174 12h1M192 12h1M194 12h1M197 12h1M226 12h1M230 12h1M232 12h1M41 13h1M219 13h1M75 14h1M103 14h2M133 14h1M192 14h1M223 14h1M14 15h2M17 15h2M42 15h1M44 15h1M56 15h1M103 15h1M133 15h2M162 15h1M194 15h2M228 15h1M230 15h2M11 16h1M40 16h1M100 16h1M103 17h1M133 17h1M222 17h1M18 20h1M21 20h1M25 20h1M29 20h1M48 20h1M50 20h1M53 20h1M57 20h1M59 20h1M81 20h2M88 20h1M107 20h1M116 20h1M139 20h1M141 20h1M166 20h1M168 20h1M173 20h1M179 20h1M204 20h1M206 20h1M226 20h1M235 20h1M237 20h1M239 20h1M70 21h1M132 21h1M159 21h1M190 21h1M219 21h1M41 22h1M191 22h1M104 23h1M47 43h2M80 43h2M85 43h1M107 43h1M217 43h1M225 43h1M228 43h1M198 45h1M201 45h1M207 45h1M158 52h1M163 53h1M165 53h1M190 54h1M69 56h1M229 56h3M133 58h1"/>
<path stroke="#a97620" d="M7 2h1M39 2h1M157 3h1M12 4h1M41 4h1M44 4h1M70 4h1M101 4h1M131 4h1M134 4h1M159 4h1M220 4h1M25 5h1M42 5h1M44 5h1M46 5h1M78 5h1M80 5h1M101 5h2M110 5h1M113 5h1M132 5h1M139 5h1M142 5h1M144 5h1M149 5h1M160 5h1M174 5h1M176 5h1M191 5h2M200 5h1M203 5h1M205 5h1M207 5h1M221 5h1M230 5h1M232 5h1M15 6h1M18 6h1M46 6h1M72 6h1M78 6h1M82 6h1M106 6h1M110 6h1M137 6h1M139 6h1M142 6h1M159 6h2M166 6h1M191 6h1M205 6h1M207 6h1M225 6h1M227 6h1M230 6h1M232 6h1M11 7h1M13 7h1M29 7h1M43 7h1M59 7h1M74 7h1M104 7h1M194 7h1M12 8h2M43 8h1M45 8h2M49 8h1M56 8h1M74 8h1M76 8h1M78 8h1M80 8h1M104 8h1M106 8h1M115 8h1M135 8h1M137 8h1M139 8h1M142 8h1M164 8h1M194 8h2M223 8h3M227 8h1M230 8h1M12 11h1M73 11h2M76 11h1M105 11h2M136 11h1M162 11h2M196 11h1M223 11h1M12 12h1M73 12h1M135 12h1M164 12h1M195 12h1M223 12h2M8 13h1M40 13h1M220 13h1M40 14h1M43 14h1M100 14h2M132 14h1M191 14h1M222 14h1M16 15h1M102 15h1M160 15h2M191 15h1M8 16h2M70 16h1M161 16h1M190 16h1M220 16h1M9 17h2M101 17h2M190 17h2M221 17h1M14 20h1M17 20h1M23 20h1M27 20h1M44 20h1M46 20h1M51 20h1M55 20h1M75 20h1M77 20h1M84 20h1M86 20h1M105 20h1M114 20h1M118 20h1M137 20h1M142 20h1M144 20h1M146 20h1M148 20h1M164 20h1M175 20h1M177 20h1M200 20h1M202 20h1M208 20h1M224 20h1M229 20h1M231 20h1M233 20h1M40 21h1M100 21h2M131 21h1M220 21h1M5 40h1M27 40h1M66 40h1M79 40h1M161 40h2M198 40h2M223 40h1M229 40h1M232 40h1M237 40h1M239 40h1M10 43h1M15 43h1M17 43h1M26 43h1M28 43h1M118 43h1M159 43h3M26 46h2M160 48h1M65 49h3M219 49h3M131 50h1M40 52h1M44 52h1M49 52h1M56 52h1M161 52h1M193 53h3M47 54h1M57 54h1M141 54h2M148 54h1M14 55h1M16 55h1M19 55h2M22 55h1M25 55h1M103 55h2M106 55h1M162 55h1M174 55h1M196 55h3M19 56h1M105 56h3M110 56h1M130 56h2M136 56h2M143 56h1M160 56h1M196 56h1M88 59h2M106 59h1M112 59h1M115 59h2"/>
<path stroke="#c18725" d="M8 4h1M40 4h1M68 4h1M100 4h1M157 4h1M189 4h1M218 4h1M10 5h1M15 5h1M41 5h1M72 5h2M76 5h1M103 5h1M134 5h1M137 5h1M162 5h1M164 5h1M166 5h1M195 5h1M220 5h1M225 5h1M9 6h1M12 6h1M41 6h1M44 6h1M71 6h1M102 6h1M108 6h1M132 6h1M134 6h1M162 6h1M190 6h1M193 6h1M221 6h1M223 6h1M25 7h1M27 7h1M56 7h1M82 7h1M89 7h1M113 7h1M142 7h1M146 7h1M161 7h1M174 7h1M176 7h1M178 7h1M205 7h1M207 7h1M222 7h1M230 7h1M232 7h1M234 7h1M237 7h1M11 8h1M15 8h1M72 8h1M133 8h1M8 9h1M189 9h1M40 10h1M189 10h1M220 10h1M13 11h1M43 11h1M45 11h1M72 11h1M102 11h2M192 11h1M194 11h1M42 12h1M72 12h1M133 12h1M162 12h1M191 12h1M193 12h1M222 12h1M70 13h1M100 13h1M131 13h1M159 13h1M190 13h1M9 14h1M41 14h2M71 14h1M131 14h1M159 14h1M190 14h1M221 14h1M9 15h1M41 15h1M43 15h1M70 15h1M190 15h1M220 15h2M10 16h1M41 16h1M101 16h1M131 16h1M159 16h1M191 16h1M70 17h2M100 17h1M131 17h2M159 17h1M161 17h1M219 17h2M12 20h1M19 20h1M76 20h1M78 20h1M80 20h1M110 20h1M112 20h1M135 20h1M140 20h1M162 20h1M169 20h1M171 20h1M195 20h2M198 20h1M40 23h1M70 23h1M100 23h1M131 23h1M189 23h2M67 40h1M71 40h1M73 40h2M86 40h1M160 40h1M163 40h1M5 43h3M16 43h1M22 43h1M45 43h1M55 43h1M57 43h1M69 43h2M75 43h5M104 43h1M119 43h1M158 43h1M216 43h1M222 43h1M226 43h1M194 45h1M196 45h1M208 45h1M173 47h1M189 47h1M132 50h1M162 52h1M101 55h2M112 55h1M114 55h2M74 56h1M76 56h1M108 56h2M224 56h1M50 59h1M79 59h1"/>
<path stroke="#d99829" d="M8 1h1M69 1h1M99 1h1M130 1h1M189 1h1M219 1h1M40 2h1M69 2h1M99 2h1M39 3h1M130 3h1M158 3h1M218 3h1M129 4h1M9 5h1M12 5h1M40 5h1M71 5h1M159 5h1M188 5h1M190 5h1M193 5h1M8 6h1M40 6h1M70 6h1M100 6h2M131 6h1M219 6h2M15 7h1M22 7h1M49 7h1M72 7h1M85 7h1M87 7h1M115 7h1M118 7h1M139 7h1M144 7h1M149 7h1M166 7h1M169 7h1M197 7h1M200 7h1M203 7h1M42 8h1M44 8h1M102 8h1M161 8h2M192 8h2M221 8h2M40 9h1M70 9h1M100 9h1M219 9h1M8 10h1M70 10h1M100 10h1M131 10h1M159 10h1M10 11h2M71 11h1M104 11h1M133 11h2M221 11h1M41 12h1M102 12h2M160 12h1M221 12h1M220 14h1M100 15h2M132 15h1M160 16h1M160 17h1M15 20h1M47 20h1M49 20h1M73 20h1M103 20h1M106 20h1M108 20h1M165 20h1M167 20h1M193 20h1M222 20h1M225 20h1M227 20h1M8 23h1M69 23h1M99 23h1M130 23h1M219 23h1M38 40h2M156 40h2M187 40h1M189 40h1M98 43h2M238 43h1M100 47h1M158 47h1M134 53h2M223 56h1M225 56h1"/>
<path stroke="#f1a92e" d="M39 1h1M158 1h1M8 2h1M130 2h1M158 2h1M189 2h1M219 2h1M7 3h1M69 3h1M99 3h1M189 3h1M69 4h1M219 4h1M8 5h1M70 5h1M100 5h1M130 5h2M157 5h1M189 5h1M7 6h1M38 6h1M68 6h2M99 6h1M129 6h1M158 6h1M10 7h1M18 7h1M20 7h1M42 7h1M76 7h1M78 7h1M80 7h1M102 7h1M110 7h1M160 7h1M171 7h1M192 7h1M225 7h1M227 7h1M10 8h1M41 8h1M73 8h1M101 8h1M103 8h1M134 8h1M191 8h1M220 8h1M131 9h1M158 9h1M41 11h2M101 11h1M161 11h1M191 11h1M220 11h1M8 12h1M10 12h1M39 12h1M69 12h1M71 12h1M132 12h1M158 12h1M189 12h1M70 14h1M131 15h1M159 15h1M41 17h1M74 20h1M136 20h1M138 20h1M163 20h1M194 20h1M158 23h1M12 40h1M186 40h1M188 40h1M38 43h4M49 43h1M52 43h1M54 43h1M58 43h1M74 43h1M83 43h1M88 43h1M101 43h1M105 43h1M110 43h1M218 43h1M220 43h2M197 45h1M200 45h1M203 45h2M8 47h2M39 47h2M70 47h1M219 47h1M98 49h1M75 56h1"/>
<path stroke="#f2b243" d="M157 2h1M7 4h1M39 4h1M99 4h1M130 4h1M158 4h1M188 4h1M7 5h1M39 5h1M68 5h1M99 5h1M158 5h1M218 5h2M39 6h1M130 6h1M156 6h2M188 6h2M218 6h1M44 7h1M46 7h1M108 7h1M133 7h1M137 7h1M162 7h1M164 7h1M193 7h1M221 7h1M9 8h1M69 8h3M100 8h1M130 8h1M132 8h1M158 8h1M160 8h1M218 8h1M39 11h1M100 11h1M131 11h2M158 11h3M40 12h1M100 12h2M159 12h1M190 12h1M219 12h1M219 14h1M40 17h1M13 20h1M45 20h1M104 20h1M223 20h1M156 43h2"/>
<path stroke="#f4ba58" d="M69 5h1M12 7h1M41 7h1M188 7h1M220 7h1M223 7h1M8 8h1M40 8h1M99 8h1M131 8h1M159 8h1M189 8h2M8 11h2M40 11h1M69 11h2M130 11h1M189 11h2M219 11h1M9 12h1M70 12h1M99 12h1M130 12h2M220 12h1M11 20h1M42 20h1M72 20h1M134 20h1M161 20h1M192 20h1M189 45h2"/>
<path stroke="#f5c36d" d="M6 7h1M9 7h1M38 7h1M71 7h1M73 7h1M101 7h1M103 7h1M129 7h1M134 7h1M159 7h1M190 7h2M217 7h1M39 8h1M219 8h1M218 11h1M10 20h1M43 20h1M69 20h1M99 20h1M102 20h1M131 20h1M133 20h1M160 20h1M220 20h2"/>
<path stroke="#f7cb82" d="M7 7h2M40 7h1M68 7h3M99 7h1M130 7h3M157 7h1M219 7h1M8 20h2M40 20h1M70 20h2M100 20h2M159 20h1M189 20h1M191 20h1M219 20h1"/>
<path stroke="#f8d496" d="M39 7h1M100 7h1M158 7h1M189 7h1M218 7h1M41 20h1M132 20h1M158 20h1M190 20h1"/>
</g></g>
<path d="M236.3 710.7v361.2M326.4 710.7v361.2M416.5 710.7v361.2M506.6 710.7v361.2M596.7 710.7v361.2M686.8 710.7v361.2M776.9 710.7v361.2" stroke="#fff" stroke-width="1.8" stroke-dasharray="6.3 2.2" fill="none"/>
<path d="M146.2 868.3h720.8" stroke="#62f4e9" stroke-width="4.2" stroke-dasharray="8 2.55" fill="none"/>
<rect x="146.2" y="710.7" width="720.8" height="361.2" fill="none" stroke="#000" stroke-width="1.7"/>
<path d="M146.2 713.7h-7M146.2 773.9h-7M146.2 834.1h-7M146.2 894.3h-7M146.2 954.5h-7M146.2 1014.7h-7M146.2 1071.9v3.5M265.7 1071.9v3.5M385.7 1071.9v3.5M505.7 1071.9v3.5M625.7 1071.9v3.5M745.7 1071.9v3.5M865.7 1071.9v3.5" stroke="#000" stroke-width="1.8"/>
<text x="509.3" y="695.5" font-size="32.4" text-anchor="middle">Group 1 (burst 8/24)</text>
<clipPath id="cp2"><rect x="982.3" y="710.2" width="720.8" height="361.2"/></clipPath>
<rect x="982.3" y="710.2" width="720.8" height="361.2" fill="#000"/>
<g clip-path="url(#cp2)"><g filter="url(#hb)" transform="translate(982.3 713.2) scale(3.0033 6.020)" stroke-width="1.04" fill="none">
<path stroke="#181105" d="M13 0h8M28 0h2M46 0h7M54 0h1M75 0h3M79 0h2M88 0h2M107 0h3M133 0h3M138 0h6M148 0h1M164 0h1M170 0h1M172 0h2M220 0h1M223 0h10M239 0h1M23 1h7M54 1h6M83 1h1M85 1h5M113 1h7M142 1h8M175 1h3M179 1h1M228 1h2M231 1h9M20 3h1M22 3h2M50 3h1M56 3h1M58 3h1M83 3h1M86 3h2M108 3h1M113 3h1M119 3h1M147 3h1M175 3h1M184 3h1M186 3h1M188 3h1M190 3h2M193 3h1M195 3h1M197 3h2M200 3h2M203 3h2M206 3h1M208 3h1M230 3h1M232 3h1M234 3h2M239 3h1M188 4h1M190 4h1M193 4h1M195 4h1M197 4h1M208 4h1M21 5h1M24 5h1M27 5h1M29 5h1M50 5h1M52 5h1M55 5h2M82 5h1M87 5h1M89 5h1M106 5h1M108 5h1M110 5h2M113 5h1M117 5h1M119 5h1M136 5h1M140 5h1M142 5h1M144 5h1M147 5h1M149 5h1M169 5h1M171 5h2M175 5h2M178 5h1M184 5h3M188 5h1M190 5h2M193 5h3M197 5h2M200 5h2M203 5h2M206 5h1M208 5h1M228 5h1M230 5h1M232 5h1M234 5h1M237 5h1M21 9h2M24 9h4M29 9h1M55 9h1M85 9h1M111 9h1M114 9h4M143 9h1M145 9h1M170 9h3M179 9h1M192 9h1M194 9h3M198 9h1M200 9h4M205 9h2M208 9h1M226 9h1M230 9h1M232 9h4M237 9h1M15 10h15M44 10h16M75 10h15M105 10h15M134 10h16M166 10h14M187 10h23M220 10h20M19 13h5M44 13h9M55 13h1M74 13h1M76 13h6M89 13h1M106 13h11M118 13h2M165 13h3M169 13h1M178 13h1M216 13h1M225 13h2M27 14h2M84 14h5M131 14h1M133 14h3M147 14h3M170 14h1M174 14h2M182 14h1M185 14h1M189 14h2M226 14h4M14 15h8M27 15h3M83 15h6M102 15h2M190 15h1M218 15h1M220 15h2M19 16h4M44 16h1M52 16h5M77 16h1M83 16h4M107 16h9M137 16h2M167 16h6M184 16h2M219 16h2M222 16h2M225 16h1M229 16h3M22 17h1M27 17h1M29 17h1M45 17h1M57 17h3M105 17h1M116 17h1M118 17h1M148 17h2M178 17h2M217 17h3M11 18h2M40 18h3M71 18h2M100 18h2M131 18h1M160 18h3M214 18h3M10 19h1M17 19h1M20 19h2M40 19h1M46 19h4M70 19h1M76 19h3M80 19h1M99 19h1M105 19h2M114 19h1M129 19h1M136 19h1M141 19h1M144 19h1M159 19h1M166 19h1M168 19h1M171 19h2M175 19h1M177 19h1M182 19h2M214 19h1M221 19h2M228 19h1M230 19h1M238 19h1M28 21h1M44 21h3M56 21h4M80 21h1M82 21h2M89 21h1M115 21h4M163 21h9M175 21h5M189 21h1M208 21h2M230 21h2M16 22h4M22 22h1M27 22h1M47 22h4M53 22h1M85 22h1M101 22h5M144 22h1M172 22h1M179 22h1M188 22h3M193 22h1M195 22h1M199 22h1M222 22h1M229 22h7M40 23h1M71 23h1M99 23h1M130 23h1M133 23h1M160 23h1M215 23h1M12 24h2M15 24h1M18 24h1M43 24h2M136 24h1M162 24h3M73 25h5M163 25h2M184 25h3M220 25h2M16 34h1M19 34h1M25 34h1M27 34h1M36 34h1M41 34h1M43 34h1M48 34h1M55 34h1M42 35h1M49 35h1M56 35h2M67 35h2M79 35h2M82 35h1M84 35h1M103 35h3M131 35h1M139 35h1M141 35h1M19 36h2M26 36h1M72 36h1M75 36h2M98 37h8M161 37h1M163 37h1M166 37h1M172 37h1M174 37h1M19 40h10M165 43h7M50 45h6M100 45h6M12 46h14M132 46h17M164 46h8M79 47h10M132 47h17M188 47h6M205 47h3M76 49h13M180 49h30M130 50h1M142 50h1M145 50h1M147 50h1M44 51h1M48 51h1M58 51h1M72 51h1M75 51h1M78 51h1M80 51h1M84 51h1M132 51h1M135 51h1M99 52h7M132 53h13M146 53h3M14 54h1M16 54h2M21 54h2M25 54h1M160 54h4M165 54h7M9 56h20M39 56h15M106 56h8M116 56h4M140 56h9M164 56h3M9 57h10M39 57h6M54 57h2M99 57h12M133 57h15M158 58h6"/>
<path stroke="#302209" d="M39 0h1M41 0h2M45 0h1M53 0h1M55 0h1M74 0h1M78 0h1M87 0h1M103 0h4M144 0h2M147 0h1M163 0h1M165 0h5M171 0h1M175 0h4M221 0h2M13 1h1M42 1h1M73 1h1M84 1h1M102 1h1M132 1h1M162 1h1M173 1h2M178 1h1M217 1h1M230 1h1M18 2h1M20 2h1M23 2h1M25 2h1M27 2h1M47 2h1M49 2h1M51 2h6M79 2h1M81 2h1M85 2h2M88 2h2M106 2h1M109 2h2M112 2h1M114 2h3M118 2h1M141 2h2M144 2h1M148 2h2M171 2h1M175 2h2M178 2h2M184 2h1M186 2h5M194 2h14M209 2h1M221 2h2M225 2h2M228 2h1M231 2h3M237 2h3M14 3h2M17 3h1M19 3h1M24 3h1M26 3h2M29 3h1M44 3h2M47 3h2M52 3h2M55 3h1M74 3h4M79 3h2M82 3h1M84 3h2M89 3h1M102 3h1M104 3h1M106 3h1M110 3h2M114 3h2M117 3h1M132 3h1M134 3h1M136 3h2M139 3h2M142 3h1M144 3h2M149 3h1M164 3h1M166 3h2M169 3h1M171 3h1M173 3h1M176 3h1M178 3h3M182 3h1M217 3h1M219 3h2M222 3h3M226 3h1M228 3h1M237 3h1M17 4h1M19 4h2M22 4h1M24 4h1M26 4h2M29 4h1M46 4h1M48 4h1M50 4h1M52 4h2M55 4h2M58 4h1M79 4h2M82 4h2M85 4h1M87 4h1M89 4h1M104 4h1M106 4h1M108 4h1M111 4h1M113 4h1M115 4h1M117 4h3M136 4h1M139 4h2M142 4h1M144 4h4M149 4h1M167 4h1M169 4h1M171 4h1M173 4h1M175 4h2M178 4h1M183 4h2M186 4h1M191 4h1M196 4h1M198 4h4M203 4h2M206 4h1M219 4h1M222 4h1M224 4h1M226 4h1M228 4h1M230 4h1M232 4h1M234 4h4M239 4h1M14 5h4M19 5h2M22 5h1M26 5h1M44 5h2M47 5h2M53 5h1M58 5h1M72 5h1M74 5h2M77 5h1M79 5h2M83 5h1M85 5h1M101 5h2M104 5h2M115 5h1M132 5h1M134 5h1M137 5h1M139 5h1M145 5h1M162 5h1M164 5h1M166 5h2M170 5h1M173 5h1M180 5h1M182 5h1M217 5h1M219 5h2M222 5h1M224 5h1M226 5h1M235 5h1M239 5h1M25 6h1M50 6h1M52 6h1M56 6h1M58 6h1M83 6h2M87 6h1M113 6h1M144 6h1M146 6h1M149 6h1M186 6h1M188 6h1M190 6h4M195 6h1M197 6h2M200 6h2M203 6h2M206 6h1M208 6h1M234 6h1M237 6h1M200 7h1M23 9h1M28 9h1M50 9h5M56 9h4M81 9h4M86 9h4M110 9h1M112 9h2M118 9h2M139 9h4M144 9h1M146 9h4M173 9h6M193 9h1M197 9h1M199 9h1M204 9h1M207 9h1M209 9h1M223 9h3M227 9h3M231 9h1M236 9h1M238 9h2M40 10h1M180 10h1M25 13h2M29 13h1M41 13h3M53 13h2M56 13h3M75 13h1M101 13h2M144 13h6M163 13h2M168 13h1M171 13h1M173 13h5M179 13h1M184 13h7M220 13h5M227 13h2M230 13h2M48 14h1M50 14h5M57 14h1M59 14h1M73 14h6M107 14h1M129 14h1M136 14h2M145 14h2M164 14h6M171 14h2M177 14h1M183 14h2M186 14h1M224 14h1M230 14h1M44 15h1M47 15h1M49 15h2M100 15h2M106 15h2M112 15h3M143 15h2M187 15h2M219 15h1M13 16h6M23 16h4M28 16h2M47 16h2M75 16h2M79 16h3M89 16h1M101 16h1M117 16h2M132 16h5M164 16h3M173 16h1M177 16h1M179 16h1M181 16h3M217 16h2M221 16h1M224 16h1M226 16h1M14 17h8M23 17h4M46 17h8M78 17h3M88 17h1M102 17h2M107 17h1M109 17h4M114 17h1M117 17h1M119 17h1M141 17h1M170 17h1M189 17h2M216 17h1M224 17h1M229 17h1M70 18h1M99 18h1M130 18h1M13 19h4M43 19h3M73 19h3M102 19h3M133 19h3M162 19h4M180 19h2M218 19h3M29 21h1M47 21h2M50 21h6M77 21h3M81 21h1M86 21h1M105 21h3M132 21h3M138 21h2M141 21h1M146 21h2M183 21h1M191 21h6M202 21h5M220 21h2M228 21h1M232 21h8M14 22h2M28 22h2M51 22h2M54 22h6M73 22h3M83 22h1M86 22h4M107 22h2M110 22h1M114 22h6M132 22h2M146 22h1M166 22h3M174 22h5M182 22h4M191 22h2M194 22h1M196 22h3M200 22h10M221 22h1M224 22h2M227 22h2M236 22h2M239 22h1M54 23h1M58 23h1M114 23h1M118 23h1M175 23h1M181 23h1M197 23h1M199 23h1M201 23h1M229 23h1M163 27h1M211 27h1M221 27h1M233 27h1M235 27h2M163 28h1M215 28h1M220 28h1M231 28h1M235 28h1M239 28h1M99 30h7M144 30h3M167 30h1M171 30h1M214 30h3M219 30h4M225 30h3M217 31h1M221 31h1M229 31h1M238 31h1M135 32h6M142 32h4M147 32h2M222 32h1M237 32h1M16 33h2M28 33h1M42 33h15M58 33h1M79 33h2M82 33h7M99 33h5M105 33h1M130 33h1M143 33h2M176 33h1M180 33h2M183 33h3M187 33h15M203 33h7M216 33h2M219 33h10M232 33h3M236 33h4M7 34h2M10 34h1M12 34h1M15 34h1M18 34h1M20 34h1M22 34h1M26 34h1M38 34h1M42 34h1M44 34h2M49 34h3M53 34h2M56 34h3M129 34h4M134 34h7M164 34h1M168 34h1M170 34h1M180 34h2M183 34h1M186 34h14M208 34h2M236 34h4M9 35h1M11 35h6M18 35h3M22 35h1M24 35h2M27 35h2M43 35h1M47 35h1M50 35h3M55 35h1M71 35h1M81 35h1M87 35h2M127 35h1M129 35h1M136 35h2M140 35h1M142 35h1M145 35h1M159 35h4M164 35h5M170 35h4M175 35h10M187 35h23M213 35h9M223 35h4M228 35h10M239 35h1M9 36h1M11 36h1M14 36h2M18 36h1M38 36h15M54 36h5M73 36h1M78 36h3M130 36h3M134 36h2M137 36h6M144 36h5M159 36h4M167 36h6M174 36h9M184 36h4M189 36h5M195 36h1M197 36h1M199 36h2M202 36h1M204 36h1M218 36h1M232 36h1M9 37h3M13 37h13M27 37h1M41 37h1M44 37h15M70 37h8M79 37h3M83 37h6M129 37h4M143 37h6M169 37h1M171 37h1M175 37h1M177 37h1M180 37h15M197 37h3M201 37h4M206 37h3M227 37h5M233 37h5M239 37h1M11 38h7M19 38h10M41 38h3M45 38h1M48 38h2M51 38h3M71 38h5M77 38h6M84 38h3M128 38h2M131 38h4M136 38h5M142 38h7M159 38h3M167 38h3M171 38h8M180 38h2M183 38h2M186 38h4M197 38h1M208 38h2M213 38h3M217 38h10M228 38h6M235 38h5M9 39h2M12 39h1M15 39h6M22 39h2M41 39h1M43 39h3M47 39h6M54 39h2M58 39h1M68 39h2M71 39h8M80 39h4M85 39h4M97 39h14M112 39h8M130 39h1M134 39h1M142 39h1M158 39h1M160 39h9M170 39h5M176 39h4M181 39h2M184 39h1M186 39h4M196 39h4M202 39h3M207 39h3M213 39h3M217 39h9M227 39h3M40 40h7M48 40h1M50 40h6M57 40h2M97 40h2M100 40h7M110 40h10M141 40h3M145 40h4M172 40h1M176 40h1M178 40h1M180 40h2M183 40h2M186 40h2M189 40h1M196 40h3M200 40h1M202 40h5M208 40h1M229 40h1M18 41h7M26 41h3M52 41h7M177 41h4M183 41h4M188 41h2M191 41h8M200 41h3M204 41h1M206 41h4M224 41h5M101 43h1M104 43h2M182 43h1M188 43h1M194 43h2M218 43h6M225 43h2M159 45h4M165 45h1M167 45h3M171 45h2M209 45h1M234 45h2M239 45h1M113 46h1M115 46h1M212 46h2M134 48h1M146 48h1M11 49h18M43 49h6M50 49h3M54 49h5M72 49h1M103 49h4M109 49h6M116 49h1M118 49h2M11 50h1M20 50h1M71 50h2M74 50h4M79 50h4M84 50h4M99 50h2M102 50h4M107 50h3M111 50h9M131 50h2M134 50h2M138 50h1M148 50h1M181 50h2M184 50h1M186 50h3M190 50h2M200 50h2M203 50h3M207 50h3M220 50h1M228 50h1M232 50h8M16 51h3M20 51h2M25 51h4M51 51h1M53 51h3M71 51h1M73 51h2M79 51h1M81 51h3M88 51h1M107 51h3M111 51h1M113 51h4M118 51h2M137 51h1M142 51h2M147 51h2M162 51h1M174 51h1M177 51h1M180 51h21M202 51h1M205 51h1M207 51h3M222 51h6M230 51h10M131 52h5M138 52h3M142 52h1M144 52h1M146 52h3M180 52h1M182 52h2M195 52h5M201 52h1M203 52h1M205 52h1M207 52h3M11 53h5M17 53h1M19 53h6M26 53h3M79 53h1M81 53h3M85 53h4M180 53h1M182 53h8M191 53h1M193 53h6M200 53h10M18 54h1M48 54h1M54 54h1M71 54h7M80 54h1M86 54h2M99 54h14M114 54h5M140 54h1M172 54h1M175 54h5M222 54h3M226 54h2M229 54h1M231 54h9M17 55h1M131 55h1M133 55h16M182 56h4M187 56h5M193 56h1M45 57h2M48 57h1M50 57h4M168 57h1M182 57h3M186 57h1M188 57h6M195 57h3M222 58h2M234 59h5"/>
<path stroke="#48330e" d="M7 0h1M9 0h2M12 0h1M21 0h7M40 0h1M43 0h1M56 0h4M66 0h1M69 0h1M72 0h2M82 0h5M95 0h1M97 0h2M101 0h2M110 0h10M126 0h1M128 0h1M136 0h2M146 0h1M149 0h1M156 0h1M174 0h1M179 0h1M210 0h3M234 0h5M41 1h1M70 1h1M99 1h1M131 1h1M214 1h1M216 1h1M14 2h1M16 2h2M21 2h2M26 2h1M43 2h4M48 2h1M57 2h3M72 2h6M82 2h2M101 2h5M107 2h2M111 2h1M113 2h1M119 2h1M133 2h2M136 2h2M139 2h2M143 2h1M147 2h1M163 2h8M172 2h3M182 2h2M185 2h1M191 2h3M224 2h1M227 2h1M230 2h1M21 3h1M28 3h1M57 3h1M72 3h1M78 3h1M81 3h1M88 3h1M101 3h1M107 3h1M118 3h1M131 3h1M143 3h1M146 3h1M162 3h1M168 3h1M170 3h1M172 3h1M174 3h1M177 3h1M192 3h1M194 3h1M196 3h1M199 3h1M202 3h1M205 3h1M207 3h1M209 3h1M227 3h1M231 3h1M233 3h1M236 3h1M238 3h1M13 4h3M44 4h2M47 4h1M73 4h3M77 4h1M101 4h3M110 4h1M132 4h3M137 4h1M164 4h1M166 4h1M182 4h1M217 4h1M220 4h2M223 4h1M28 5h1M49 5h1M54 5h1M57 5h1M76 5h1M84 5h1M88 5h1M107 5h1M109 5h1M112 5h1M114 5h1M116 5h1M118 5h1M131 5h1M141 5h1M143 5h1M148 5h1M168 5h1M174 5h1M177 5h1M179 5h1M187 5h1M189 5h1M192 5h1M196 5h1M199 5h1M202 5h1M205 5h1M207 5h1M209 5h1M216 5h1M223 5h1M225 5h1M227 5h1M229 5h1M231 5h1M233 5h1M236 5h1M238 5h1M14 6h2M17 6h1M19 6h2M22 6h1M24 6h1M26 6h2M29 6h1M44 6h5M53 6h1M55 6h1M74 6h2M77 6h1M79 6h2M82 6h1M85 6h1M89 6h1M106 6h1M108 6h1M110 6h2M115 6h1M117 6h1M119 6h1M136 6h2M139 6h2M142 6h1M145 6h1M147 6h2M164 6h1M166 6h4M171 6h1M173 6h1M175 6h2M178 6h1M182 6h1M184 6h1M219 6h4M224 6h1M226 6h1M228 6h5M235 6h1M239 6h1M188 7h1M190 7h2M193 7h3M197 7h2M201 7h1M203 7h2M206 7h1M208 7h2M160 9h1M214 9h1M70 10h1M98 10h1M128 10h1M213 10h1M117 12h1M194 12h1M206 12h1M208 12h1M12 13h1M15 13h4M24 13h1M27 13h2M59 13h1M83 13h6M103 13h3M138 13h6M161 13h2M170 13h1M172 13h1M180 13h1M215 13h1M218 13h2M229 13h1M19 14h1M22 14h2M29 14h1M49 14h1M58 14h1M71 14h2M79 14h1M83 14h1M89 14h1M119 14h1M139 14h1M141 14h4M173 14h1M176 14h1M178 14h2M187 14h2M221 14h1M223 14h1M225 14h1M24 15h3M43 15h1M45 15h2M48 15h1M76 15h2M80 15h1M89 15h1M104 15h2M109 15h3M138 15h1M142 15h1M148 15h1M166 15h1M171 15h2M189 15h1M224 15h7M27 16h1M43 16h1M46 16h1M50 16h2M57 16h3M72 16h3M82 16h1M87 16h2M100 16h1M105 16h2M116 16h1M119 16h1M139 16h2M142 16h3M147 16h1M162 16h1M174 16h3M178 16h1M187 16h4M215 16h2M227 16h2M13 17h1M28 17h1M44 17h1M54 17h1M84 17h4M89 17h1M106 17h1M108 17h1M113 17h1M115 17h1M139 17h1M142 17h1M144 17h1M167 17h3M181 17h1M183 17h1M185 17h1M222 17h2M225 17h4M12 19h1M42 19h1M72 19h1M101 19h1M131 19h2M216 19h2M13 21h6M20 21h1M22 21h2M26 21h2M43 21h1M49 21h1M73 21h4M84 21h2M87 21h2M102 21h3M108 21h7M119 21h1M130 21h2M140 21h1M142 21h4M148 21h2M173 21h2M182 21h1M184 21h5M190 21h1M197 21h1M199 21h3M207 21h1M216 21h4M222 21h1M224 21h1M227 21h1M229 21h1M11 22h3M42 22h4M71 22h2M76 22h7M106 22h1M109 22h1M111 22h3M136 22h6M147 22h1M149 22h1M165 22h1M169 22h1M173 22h1M181 22h1M216 22h5M223 22h1M226 22h1M238 22h1M16 23h1M18 23h1M20 23h1M22 23h1M24 23h1M26 23h1M28 23h1M46 23h1M48 23h1M50 23h1M52 23h1M56 23h1M59 23h1M75 23h1M77 23h1M79 23h1M81 23h1M83 23h1M85 23h1M87 23h1M89 23h1M104 23h1M106 23h1M108 23h1M110 23h1M112 23h1M116 23h1M119 23h1M136 23h1M138 23h1M140 23h1M142 23h1M144 23h1M146 23h1M148 23h1M165 23h1M167 23h1M169 23h1M171 23h1M173 23h1M177 23h1M179 23h2M183 23h1M185 23h1M187 23h1M189 23h1M191 23h1M193 23h1M195 23h1M198 23h1M200 23h1M202 23h2M205 23h1M207 23h1M209 23h1M219 23h1M221 23h1M223 23h1M225 23h1M227 23h1M231 23h1M233 23h1M235 23h1M237 23h1M239 23h1M161 27h2M166 27h1M168 27h2M171 27h3M212 27h1M218 27h1M222 27h2M226 27h2M231 27h2M234 27h1M238 27h2M159 28h4M164 28h6M171 28h4M176 28h1M211 28h4M216 28h4M222 28h3M226 28h3M230 28h1M232 28h3M236 28h1M238 28h1M131 30h2M134 30h1M137 30h2M140 30h1M147 30h2M161 30h5M169 30h1M172 30h2M217 30h2M223 30h2M103 31h2M213 31h2M219 31h1M225 31h1M227 31h2M234 31h1M237 31h1M127 32h1M141 32h1M146 32h1M218 32h2M221 32h1M224 32h3M230 32h3M234 32h1M238 32h2M10 33h2M13 33h1M19 33h2M22 33h1M27 33h1M57 33h1M81 33h1M104 33h1M127 33h1M131 33h1M135 33h4M140 33h1M142 33h1M146 33h1M162 33h1M165 33h1M167 33h2M170 33h4M175 33h1M177 33h3M182 33h1M186 33h1M202 33h1M218 33h1M229 33h3M235 33h1M9 34h1M11 34h1M24 34h1M39 34h1M46 34h1M52 34h1M66 34h1M69 34h1M79 34h1M81 34h1M85 34h1M87 34h1M133 34h1M141 34h1M160 34h4M169 34h1M172 34h7M216 34h3M235 34h1M10 35h1M17 35h1M21 35h1M23 35h1M26 35h1M44 35h1M46 35h1M58 35h1M70 35h1M74 35h1M78 35h1M83 35h1M85 35h1M143 35h2M146 35h2M163 35h1M169 35h1M174 35h1M185 35h2M222 35h1M227 35h1M238 35h1M27 36h2M53 36h1M70 36h1M82 36h2M133 36h1M136 36h1M143 36h1M173 36h1M183 36h1M188 36h1M194 36h1M196 36h1M198 36h1M201 36h1M203 36h1M217 36h1M219 36h2M223 36h1M226 36h2M231 36h1M234 36h2M239 36h1M12 37h1M26 37h1M28 37h1M40 37h1M42 37h2M78 37h1M82 37h1M142 37h1M165 37h1M167 37h1M178 37h2M195 37h2M200 37h1M205 37h1M209 37h1M232 37h1M18 38h1M44 38h1M46 38h2M50 38h1M54 38h5M76 38h1M83 38h1M87 38h2M130 38h1M135 38h1M141 38h1M170 38h1M179 38h1M182 38h1M185 38h1M200 38h1M216 38h1M227 38h1M234 38h1M11 39h1M13 39h2M21 39h1M39 39h2M42 39h1M46 39h1M53 39h1M56 39h2M70 39h1M79 39h1M84 39h1M111 39h1M127 39h2M132 39h2M135 39h1M138 39h1M140 39h2M143 39h2M159 39h1M169 39h1M175 39h1M180 39h1M183 39h1M185 39h1M200 39h2M205 39h2M216 39h1M226 39h1M47 40h1M49 40h1M56 40h1M72 40h1M74 40h1M80 40h1M99 40h1M144 40h1M161 40h2M166 40h4M171 40h1M173 40h3M177 40h1M179 40h1M182 40h1M185 40h1M188 40h1M201 40h1M207 40h1M209 40h1M228 40h1M25 41h1M46 41h1M82 41h3M86 41h1M176 41h1M187 41h1M190 41h1M199 41h1M203 41h1M205 41h1M11 43h2M14 43h1M21 43h2M47 43h1M55 43h1M102 43h2M132 43h1M135 43h1M143 43h1M180 43h1M183 43h3M187 43h1M192 43h1M198 43h2M202 43h2M205 43h3M224 43h1M135 45h3M144 45h2M148 45h1M163 45h2M166 45h1M170 45h1M186 45h1M199 45h1M202 45h2M208 45h1M220 45h1M225 45h1M227 45h2M232 45h1M107 46h2M110 46h1M112 46h1M116 46h1M211 46h1M137 48h1M139 48h1M141 48h1M218 48h1M49 49h1M53 49h1M107 49h2M115 49h1M117 49h1M13 50h1M19 50h1M22 50h2M40 50h1M42 50h1M45 50h2M48 50h1M50 50h4M55 50h1M70 50h1M73 50h1M78 50h1M83 50h1M88 50h1M101 50h1M106 50h1M110 50h1M133 50h1M144 50h1M163 50h4M168 50h1M170 50h7M179 50h2M183 50h1M185 50h1M189 50h1M192 50h1M202 50h1M206 50h1M214 50h1M216 50h4M221 50h2M226 50h2M229 50h1M19 51h1M22 51h3M45 51h2M49 51h2M52 51h1M57 51h1M87 51h1M110 51h1M112 51h1M117 51h1M133 51h1M136 51h1M141 51h1M146 51h1M161 51h1M163 51h4M172 51h2M178 51h2M201 51h1M203 51h2M206 51h1M221 51h1M228 51h2M141 52h1M143 52h1M145 52h1M181 52h1M200 52h1M202 52h1M204 52h1M206 52h1M16 53h1M18 53h1M25 53h1M80 53h1M84 53h1M181 53h1M192 53h1M199 53h1M13 54h1M19 54h1M24 54h1M46 54h1M52 54h2M55 54h2M84 54h1M88 54h1M113 54h1M119 54h1M130 54h1M135 54h1M138 54h1M142 54h4M173 54h2M180 54h5M186 54h1M190 54h4M197 54h1M199 54h2M202 54h5M208 54h1M225 54h1M228 54h1M11 55h1M14 55h2M18 55h1M20 55h1M22 55h1M26 55h1M130 55h1M132 55h1M186 56h1M192 56h1M47 57h1M49 57h1M167 57h1M173 57h2M177 57h3M185 57h1M187 57h1M194 57h1M226 57h1M220 59h2M226 59h1M239 59h1"/>
<path stroke="#604412" d="M8 0h1M11 0h1M36 0h1M44 0h1M67 0h2M70 0h2M81 0h1M96 0h1M99 0h2M127 0h1M132 0h1M157 0h1M160 0h2M214 0h6M233 0h1M9 1h1M11 1h2M38 1h1M72 1h1M101 1h1M128 1h1M158 1h1M161 1h1M215 1h1M12 2h2M24 2h1M28 2h2M41 2h2M78 2h1M99 2h2M117 2h1M130 2h3M138 2h1M145 2h1M160 2h2M181 2h1M208 2h1M215 2h3M223 2h1M234 2h3M11 3h3M16 3h1M18 3h1M25 3h1M40 3h3M46 3h1M49 3h1M51 3h1M54 3h1M59 3h1M71 3h1M100 3h1M103 3h1M105 3h1M109 3h1M112 3h1M116 3h1M130 3h1M135 3h1M138 3h1M141 3h1M148 3h1M160 3h2M163 3h1M165 3h1M185 3h1M187 3h1M189 3h1M215 3h2M221 3h1M225 3h1M229 3h1M23 4h1M28 4h1M42 4h1M84 4h1M86 4h1M162 4h1M172 4h1M174 4h1M180 4h2M189 4h1M205 4h1M207 4h1M209 4h1M231 4h1M11 5h2M18 5h1M23 5h1M25 5h1M41 5h2M46 5h1M51 5h1M59 5h1M71 5h1M78 5h1M81 5h1M86 5h1M100 5h1M130 5h1M133 5h1M135 5h1M138 5h1M146 5h1M160 5h2M163 5h1M165 5h1M215 5h1M218 5h1M221 5h1M43 6h1M72 6h1M101 6h2M104 6h1M132 6h1M134 6h1M162 6h1M180 6h1M217 6h1M22 7h1M24 7h4M29 7h1M48 7h1M50 7h4M55 7h2M58 7h2M80 7h1M82 7h2M85 7h1M87 7h1M89 7h1M107 7h1M110 7h2M113 7h1M115 7h1M117 7h1M119 7h1M139 7h2M142 7h1M144 7h1M147 7h1M149 7h1M171 7h1M173 7h1M175 7h2M178 7h2M184 7h3M229 7h2M232 7h1M234 7h2M237 7h1M239 7h1M20 8h1M51 8h2M55 8h2M80 8h1M83 8h3M87 8h1M89 8h1M113 8h1M115 8h1M117 8h1M119 8h1M145 8h2M149 8h1M169 8h1M175 8h2M178 8h2M188 8h1M190 8h2M193 8h1M195 8h1M198 8h1M200 8h2M203 8h2M206 8h1M226 8h1M230 8h1M232 8h1M234 8h2M237 8h1M40 9h1M69 9h1M9 10h1M22 11h1M26 11h1M28 11h1M54 11h1M56 11h1M58 11h1M79 11h1M83 11h1M87 11h1M89 11h1M112 11h1M114 11h1M116 11h1M118 11h1M140 11h1M142 11h1M144 11h1M148 11h1M171 11h1M173 11h1M175 11h1M177 11h1M189 11h1M191 11h1M195 11h1M199 11h1M201 11h1M203 11h1M205 11h1M207 11h1M209 11h1M227 11h1M229 11h1M231 11h1M235 11h1M237 11h1M239 11h1M19 12h1M23 12h1M25 12h1M27 12h1M29 12h1M51 12h1M53 12h1M55 12h3M78 12h1M80 12h1M82 12h1M84 12h1M86 12h1M88 12h1M107 12h1M111 12h1M113 12h1M115 12h1M119 12h1M143 12h1M145 12h1M147 12h1M174 12h1M176 12h1M190 12h1M192 12h1M196 12h1M198 12h7M220 12h1M226 12h1M230 12h1M232 12h1M234 12h1M236 12h1M238 12h1M11 13h1M100 13h1M132 13h6M183 13h1M217 13h1M17 14h2M20 14h2M24 14h3M46 14h2M55 14h2M80 14h3M102 14h1M105 14h2M110 14h2M113 14h6M138 14h1M140 14h1M163 14h1M181 14h1M216 14h1M218 14h3M231 14h1M51 15h3M55 15h1M59 15h1M73 15h3M78 15h2M81 15h1M108 15h1M116 15h1M134 15h1M136 15h2M139 15h3M145 15h1M147 15h1M149 15h1M165 15h1M167 15h4M184 15h3M231 15h1M12 16h1M42 16h1M45 16h1M49 16h1M78 16h1M103 16h2M131 16h1M141 16h1M145 16h2M148 16h2M161 16h1M163 16h1M186 16h1M12 17h1M55 17h2M74 17h2M81 17h3M133 17h2M136 17h3M140 17h1M143 17h1M145 17h3M163 17h4M171 17h1M174 17h4M180 17h1M182 17h1M184 17h1M186 17h3M230 17h2M41 19h1M71 19h1M100 19h1M160 19h2M24 20h1M56 20h1M58 20h1M112 20h1M114 20h1M116 20h1M118 20h1M142 20h1M173 20h1M175 20h1M177 20h1M179 20h1M193 20h1M195 20h1M199 20h1M203 20h1M207 20h1M209 20h1M227 20h1M229 20h1M237 20h1M239 20h1M12 21h1M19 21h1M21 21h1M24 21h2M42 21h1M72 21h1M101 21h1M129 21h1M136 21h1M161 21h2M172 21h1M181 21h1M198 21h1M223 21h1M225 21h2M10 22h1M41 22h1M46 22h1M70 22h1M100 22h1M130 22h2M134 22h2M162 22h3M180 22h1M215 22h1M19 23h1M21 23h1M23 23h1M25 23h1M27 23h1M29 23h1M49 23h1M51 23h1M53 23h1M57 23h1M76 23h1M78 23h1M82 23h1M84 23h1M86 23h1M88 23h1M105 23h1M107 23h1M109 23h1M113 23h1M115 23h1M117 23h1M134 23h1M139 23h1M143 23h1M145 23h1M147 23h1M149 23h1M168 23h1M172 23h1M174 23h1M176 23h1M178 23h1M184 23h1M186 23h1M188 23h1M190 23h1M192 23h1M194 23h1M196 23h1M204 23h1M206 23h1M208 23h1M224 23h1M226 23h1M228 23h1M230 23h1M232 23h1M234 23h1M236 23h1M238 23h1M165 27h1M167 27h1M176 27h1M213 27h1M224 27h1M228 27h3M158 28h1M170 28h1M175 28h1M221 28h1M225 28h1M229 28h1M237 28h1M135 30h2M141 30h3M166 30h1M168 30h1M170 30h1M99 31h1M101 31h1M105 31h1M165 31h2M169 31h1M216 31h1M220 31h1M223 31h1M233 31h1M235 31h2M99 32h1M126 32h1M128 32h1M132 32h2M161 32h1M166 32h1M169 32h1M171 32h1M173 32h1M229 32h1M233 32h1M236 32h1M9 33h1M12 33h1M18 33h1M21 33h1M24 33h1M76 33h1M133 33h1M141 33h1M159 33h1M163 33h2M166 33h1M169 33h1M174 33h1M23 34h1M40 34h1M70 34h1M73 34h1M78 34h1M86 34h1M88 34h1M159 34h1M165 34h3M171 34h1M179 34h1M213 34h3M54 35h1M73 35h1M75 35h1M86 35h1M130 35h1M132 35h3M138 35h1M10 36h1M12 36h1M16 36h2M21 36h3M71 36h1M77 36h1M85 36h4M221 36h2M224 36h2M228 36h3M233 36h1M236 36h3M162 37h1M164 37h1M168 37h1M173 37h1M129 39h1M131 39h1M136 39h2M139 39h1M69 40h2M75 40h3M81 40h2M86 40h3M132 40h1M136 40h1M159 40h2M163 40h3M170 40h1M216 40h1M81 41h1M85 41h1M87 41h2M172 41h1M175 41h1M10 43h1M13 43h1M15 43h1M18 43h1M25 43h1M27 43h1M36 43h3M40 43h1M44 43h1M46 43h1M48 43h1M54 43h1M58 43h1M100 43h1M127 43h1M136 43h4M144 43h4M173 43h1M176 43h1M191 43h1M193 43h1M196 43h2M208 43h1M213 43h1M216 43h1M16 45h1M18 45h1M24 45h1M82 45h1M134 45h1M141 45h3M147 45h1M180 45h1M182 45h1M184 45h1M188 45h2M191 45h1M219 45h1M222 45h1M224 45h1M236 45h1M238 45h1M109 46h1M111 46h1M200 46h1M143 48h2M167 48h3M215 48h1M42 49h1M73 49h1M12 50h1M27 50h1M41 50h1M43 50h2M47 50h1M49 50h1M54 50h1M56 50h3M136 50h1M140 50h1M143 50h1M146 50h1M167 50h1M169 50h1M177 50h2M213 50h1M215 50h1M223 50h3M13 51h1M47 51h1M56 51h1M85 51h1M130 51h2M139 51h2M160 51h1M167 51h5M175 51h2M80 52h1M11 54h2M23 54h1M26 54h1M47 54h1M49 54h3M57 54h2M79 54h1M82 54h1M85 54h1M134 54h1M139 54h1M146 54h1M148 54h1M185 54h1M187 54h3M194 54h3M198 54h1M201 54h1M207 54h1M209 54h1M19 55h1M21 55h1M23 55h2M169 57h1M171 57h2M175 57h2M219 57h2M222 57h4"/>
<path stroke="#785417" d="M38 0h1M129 0h3M158 0h1M162 0h1M213 0h1M40 1h1M71 1h1M100 1h1M130 1h1M160 1h1M10 2h2M15 2h1M19 2h1M50 2h1M80 2h1M84 2h1M87 2h1M146 2h1M177 2h1M219 2h2M229 2h1M10 3h1M43 3h1M70 3h1M73 3h1M99 3h1M133 3h1M183 3h1M214 3h1M218 3h1M12 4h1M21 4h1M25 4h1M41 4h1M54 4h1M57 4h1M59 4h1M71 4h2M78 4h1M81 4h1M88 4h1M99 4h2M105 4h1M107 4h1M109 4h1M112 4h1M114 4h1M116 4h1M135 4h1M138 4h1M141 4h1M143 4h1M148 4h1M161 4h1M165 4h1M168 4h1M170 4h1M177 4h1M179 4h1M185 4h1M187 4h1M192 4h1M194 4h1M202 4h1M215 4h2M218 4h1M225 4h1M227 4h1M229 4h1M233 4h1M238 4h1M10 5h1M13 5h1M40 5h1M43 5h1M70 5h1M73 5h1M98 5h2M103 5h1M129 5h1M183 5h1M214 5h1M51 6h1M54 6h1M57 6h1M59 6h1M86 6h1M107 6h1M114 6h1M116 6h1M138 6h1M143 6h1M174 6h1M177 6h1M189 6h1M194 6h1M202 6h1M205 6h1M207 6h1M227 6h1M233 6h1M236 6h1M238 6h1M19 7h3M45 7h1M47 7h1M75 7h1M77 7h1M79 7h1M104 7h1M106 7h1M108 7h1M136 7h2M145 7h1M165 7h3M169 7h1M222 7h1M224 7h1M226 7h1M228 7h1M17 8h1M19 8h1M22 8h3M26 8h2M29 8h1M45 8h1M47 8h2M50 8h1M53 8h1M57 8h2M79 8h1M82 8h1M86 8h1M108 8h1M110 8h2M116 8h1M137 8h1M139 8h2M142 8h1M144 8h1M147 8h2M167 8h2M170 8h4M186 8h1M194 8h1M197 8h1M207 8h3M220 8h1M222 8h1M224 8h1M228 8h1M231 8h1M236 8h1M238 8h2M9 9h1M128 9h1M20 11h1M23 11h2M27 11h1M46 11h1M48 11h1M50 11h1M52 11h1M57 11h1M77 11h1M80 11h2M84 11h2M106 11h1M108 11h1M110 11h2M136 11h1M138 11h1M141 11h1M146 11h2M149 11h1M165 11h1M167 11h1M169 11h2M174 11h1M179 11h1M185 11h1M187 11h2M190 11h1M192 11h2M196 11h3M200 11h1M208 11h1M221 11h1M223 11h1M225 11h1M232 11h3M236 11h1M17 12h2M20 12h3M24 12h1M26 12h1M45 12h1M47 12h1M49 12h1M52 12h1M54 12h1M58 12h2M74 12h1M76 12h1M79 12h1M81 12h1M85 12h1M89 12h1M105 12h1M109 12h2M112 12h1M114 12h1M116 12h1M135 12h1M137 12h1M139 12h4M144 12h1M146 12h1M148 12h2M164 12h1M166 12h1M168 12h1M170 12h1M172 12h2M175 12h1M177 12h4M184 12h1M186 12h4M191 12h1M193 12h1M195 12h1M197 12h1M205 12h1M207 12h1M209 12h1M222 12h3M227 12h3M231 12h1M233 12h1M235 12h1M237 12h1M239 12h1M13 13h2M72 13h2M99 13h1M159 13h1M181 13h2M13 14h1M15 14h2M44 14h2M101 14h1M104 14h1M108 14h2M112 14h1M162 14h1M217 14h1M222 14h1M22 15h2M42 15h1M54 15h1M56 15h1M58 15h1M82 15h1M117 15h3M133 15h1M135 15h1M146 15h1M163 15h2M173 15h7M182 15h2M217 15h1M222 15h1M11 16h1M41 16h1M71 16h1M102 16h1M160 16h1M10 17h1M39 17h1M42 17h2M73 17h1M76 17h2M101 17h1M131 17h2M135 17h1M161 17h2M172 17h2M220 17h2M11 19h1M130 19h1M215 19h1M20 20h1M26 20h1M28 20h1M52 20h1M54 20h1M79 20h1M83 20h1M85 20h1M87 20h1M89 20h1M110 20h1M144 20h1M146 20h1M148 20h1M169 20h1M171 20h1M185 20h1M187 20h1M189 20h1M191 20h1M197 20h1M201 20h1M205 20h2M223 20h1M225 20h1M231 20h1M233 20h1M235 20h1M40 21h2M71 21h1M99 21h2M135 21h1M137 21h1M40 22h1M99 22h1M161 22h1M15 23h1M17 23h1M45 23h1M47 23h1M55 23h1M80 23h1M111 23h1M135 23h1M137 23h1M141 23h1M164 23h1M166 23h1M170 23h1M182 23h1M220 23h1M222 23h1M164 27h1M170 27h1M217 27h1M139 30h1M100 31h1M157 31h1M160 31h2M171 31h2M218 31h1M231 31h1M96 32h1M98 32h1M103 32h1M129 32h1M157 32h1M159 32h2M162 32h3M167 32h2M170 32h1M172 32h1M174 32h1M220 32h1M223 32h1M228 32h1M6 33h3M14 33h2M23 33h1M36 33h4M66 33h1M69 33h1M71 33h2M77 33h1M128 33h2M134 33h1M139 33h1M158 33h1M160 33h2M13 34h2M17 34h1M21 34h1M28 34h1M37 34h1M47 34h1M71 34h1M75 34h3M45 35h1M48 35h1M53 35h1M69 35h1M72 35h1M76 35h2M128 35h1M135 35h1M148 35h1M13 36h1M24 36h2M69 36h1M74 36h1M81 36h1M84 36h1M159 37h2M68 40h1M71 40h1M73 40h1M78 40h2M83 40h3M129 40h2M133 40h1M135 40h1M138 40h2M211 40h2M220 40h1M49 41h1M51 41h1M162 41h2M168 41h2M23 43h1M39 43h1M41 43h1M49 43h1M53 43h1M128 43h1M134 43h1M158 43h7M172 43h1M174 43h2M186 43h1M189 43h2M201 43h1M204 43h1M209 43h1M211 43h2M215 43h1M217 43h1M17 45h1M20 45h1M22 45h1M25 45h1M28 45h1M74 45h2M79 45h1M81 45h1M84 45h3M88 45h1M139 45h1M185 45h1M187 45h1M193 45h1M200 45h2M204 45h3M233 45h1M10 46h1M104 46h1M118 46h2M136 48h1M140 48h1M145 48h1M147 48h2M166 48h1M170 48h3M216 48h2M40 49h2M70 49h2M16 50h2M21 50h1M25 50h2M137 50h1M139 50h1M141 50h1M41 51h1M43 51h1M76 51h2M86 51h1M134 51h1M138 51h1M144 51h2M79 52h1M15 54h1M20 54h1M78 54h1M81 54h1M83 54h1M132 54h2M136 54h1M16 55h1M114 56h1M20 57h1M221 57h1M227 57h2M222 59h3"/>
<path stroke="#91651c" d="M37 0h1M159 0h1M40 2h1M129 2h1M135 2h1M218 2h1M8 3h1M129 3h1M11 4h1M16 4h1M18 4h1M40 4h1M49 4h1M51 4h1M76 4h1M130 4h2M160 4h1M163 4h1M214 4h1M8 5h1M38 5h1M69 5h1M127 5h1M159 5h1M212 5h1M21 6h1M23 6h1M28 6h1M49 6h1M76 6h1M78 6h1M81 6h1M88 6h1M105 6h1M109 6h1M112 6h1M118 6h1M141 6h1M170 6h1M172 6h1M179 6h1M185 6h1M187 6h1M196 6h1M199 6h1M209 6h1M216 6h1M223 6h1M225 6h1M14 7h2M17 7h1M44 7h1M74 7h1M134 7h1M164 7h1M219 7h2M18 8h1M54 8h1M59 8h1M75 8h4M88 8h1M104 8h1M106 8h2M109 8h1M112 8h1M114 8h1M118 8h1M134 8h1M136 8h1M141 8h1M143 8h1M163 8h2M166 8h1M174 8h1M177 8h1M184 8h1M187 8h1M189 8h1M192 8h1M196 8h1M199 8h1M202 8h1M205 8h1M219 8h1M225 8h1M227 8h1M229 8h1M233 8h1M16 11h1M18 11h2M21 11h1M25 11h1M29 11h1M47 11h1M49 11h1M51 11h1M53 11h1M55 11h1M59 11h1M75 11h2M82 11h1M86 11h1M88 11h1M104 11h1M107 11h1M113 11h1M115 11h1M117 11h1M119 11h1M134 11h1M137 11h1M139 11h1M143 11h1M145 11h1M172 11h1M176 11h1M178 11h1M186 11h1M194 11h1M202 11h1M204 11h1M206 11h1M217 11h1M224 11h1M226 11h1M228 11h1M230 11h1M238 11h1M13 12h1M15 12h2M28 12h1M48 12h1M50 12h1M72 12h1M75 12h1M77 12h1M83 12h1M87 12h1M103 12h1M106 12h1M108 12h1M118 12h1M134 12h1M136 12h1M138 12h1M162 12h1M169 12h1M171 12h1M182 12h1M185 12h1M216 12h1M218 12h1M221 12h1M225 12h1M39 13h1M131 13h1M11 14h2M14 14h1M41 14h1M43 14h1M100 14h1M103 14h1M132 14h1M180 14h1M13 15h1M57 15h1M115 15h1M131 15h2M162 15h1M223 15h1M69 16h1M129 16h1M41 17h1M72 17h1M100 17h1M104 17h1M22 20h1M25 20h1M46 20h1M48 20h1M50 20h1M55 20h1M57 20h1M77 20h1M81 20h1M84 20h1M104 20h1M106 20h1M108 20h1M111 20h1M113 20h1M115 20h1M117 20h1M119 20h1M138 20h1M140 20h1M143 20h1M145 20h1M165 20h1M167 20h1M172 20h1M176 20h1M178 20h1M186 20h1M188 20h1M192 20h1M194 20h1M196 20h1M198 20h1M204 20h1M221 20h1M232 20h1M10 21h2M70 21h1M160 21h1M180 21h1M215 21h1M162 31h1M167 31h1M170 31h1M173 31h2M104 32h1M176 32h1M41 33h1M68 33h1M74 33h1M182 34h1M184 34h2M96 35h1M68 36h1M163 36h4M68 37h2M198 38h2M127 40h1M131 40h1M134 40h1M137 40h1M199 40h1M214 40h1M217 40h1M221 40h1M159 41h3M166 41h1M173 41h2M157 43h1M214 43h1M19 45h1M76 45h2M11 46h1M54 46h1M69 46h1M129 46h2M193 46h1M98 47h1M11 48h6M41 48h4M71 48h4M211 49h1M217 49h1M42 51h1M40 54h1M230 54h1M115 56h1M19 57h1M21 57h1M68 57h1M78 57h1M97 57h1M97 58h1"/>
<path stroke="#a97620" d="M38 2h1M71 2h1M97 2h1M158 2h1M162 2h1M214 2h1M68 3h1M97 3h1M158 3h1M181 3h1M43 4h1M70 4h1M98 4h1M157 5h1M181 5h1M12 6h1M16 6h1M18 6h1M41 6h2M70 6h2M99 6h2M103 6h1M130 6h2M135 6h1M160 6h2M163 6h1M218 6h1M42 7h1M72 7h1M88 7h1M102 7h1M112 7h1M132 7h1M148 7h1M162 7h1M174 7h1M177 7h1M180 7h1M192 7h1M196 7h1M202 7h1M217 7h1M231 7h1M14 8h2M21 8h1M25 8h1M28 8h1M44 8h1M46 8h1M49 8h1M74 8h1M81 8h1M102 8h2M105 8h1M138 8h1M185 8h1M217 8h2M221 8h1M223 8h1M14 11h2M17 11h1M42 11h1M44 11h2M73 11h1M78 11h1M102 11h1M105 11h1M109 11h1M132 11h1M163 11h1M166 11h1M168 11h1M183 11h2M219 11h2M222 11h1M14 12h1M43 12h1M46 12h1M104 12h1M133 12h1M165 12h1M167 12h1M183 12h1M217 12h1M219 12h1M40 13h1M70 13h2M98 13h1M130 13h1M214 13h1M39 14h1M69 14h1M214 14h2M161 15h1M180 15h1M215 15h2M10 16h1M70 16h1M159 16h1M180 16h1M214 16h1M11 17h1M129 17h1M215 17h1M16 20h1M18 20h1M23 20h1M27 20h1M29 20h1M53 20h1M59 20h1M75 20h1M80 20h1M82 20h1M86 20h1M88 20h1M109 20h1M136 20h1M147 20h1M149 20h1M163 20h1M174 20h1M183 20h1M190 20h1M200 20h1M202 20h1M208 20h1M219 20h1M224 20h1M226 20h1M228 20h1M230 20h1M234 20h1M236 20h1M238 20h1M69 21h1M159 21h1M214 21h1M160 22h1M174 27h2M214 27h1M216 27h1M225 27h1M237 27h1M133 30h1M215 31h1M222 31h1M224 31h1M226 31h1M230 31h1M232 31h1M239 31h1M95 32h1M130 32h1M227 32h1M235 32h1M25 33h2M132 33h1M145 33h1M147 33h2M211 33h3M215 33h1M74 34h1M84 34h1M8 37h1M36 37h2M157 40h2M47 41h1M158 41h1M16 43h1M19 43h1M24 43h1M26 43h1M42 43h1M130 43h1M133 43h1M141 43h1M181 43h1M200 43h1M140 45h1M146 45h1M190 45h1M192 45h1M207 45h1M223 45h1M226 45h1M237 45h1M105 46h2M114 46h1M117 46h1M135 48h1M138 48h1M142 48h1M164 48h1M219 48h1M14 50h2M18 50h1M24 50h1M28 50h1M71 53h3M131 54h1M137 54h1M141 54h1M147 54h1M12 55h2M25 55h1M75 56h2M225 59h1"/>
<path stroke="#c18725" d="M180 2h1M10 4h1M38 4h1M129 4h1M159 4h1M10 6h2M13 6h1M40 6h1M73 6h1M98 6h1M133 6h1M159 6h1M165 6h1M214 6h2M23 7h1M28 7h1M57 7h1M78 7h1M84 7h1M86 7h1M101 7h1M114 7h1M118 7h1M141 7h1M143 7h1M168 7h1M181 7h2M187 7h1M189 7h1M199 7h1M205 7h1M207 7h1M238 7h1M16 8h1M43 8h1M72 8h1M132 8h1M135 8h1M162 8h1M165 8h1M180 8h1M182 8h1M216 8h1M98 9h1M213 9h1M129 10h1M159 10h1M74 11h1M101 11h1M133 11h1M135 11h1M164 11h1M218 11h1M42 12h1M44 12h1M73 12h1M131 12h1M163 12h1M10 13h1M129 13h1M160 13h1M10 14h1M42 14h1M99 14h1M130 14h1M161 14h1M11 15h2M40 15h2M130 15h1M160 15h1M181 15h1M214 15h1M40 16h1M99 16h1M130 16h1M70 17h1M99 17h1M130 17h1M159 17h2M17 20h1M21 20h1M44 20h1M49 20h1M51 20h1M78 20h1M107 20h1M134 20h1M139 20h1M141 20h1M168 20h1M170 20h1M222 20h1M10 23h1M98 23h1M159 23h1M213 23h1M158 27h2M102 31h1M106 31h1M163 31h1M168 31h1M176 31h1M131 32h1M134 32h1M165 32h1M213 32h1M216 32h1M70 33h1M73 33h1M157 33h1M214 33h1M67 34h2M72 34h1M80 34h1M82 34h2M95 34h1M157 34h2M37 36h1M7 37h1M38 37h1M170 37h1M176 37h1M238 37h1M126 39h1M108 40h1M128 40h1M140 40h1M219 40h1M222 40h2M48 41h1M50 41h1M181 41h2M9 43h1M17 43h1M20 43h1M28 43h2M43 43h1M45 43h1M50 43h3M56 43h2M59 43h1M129 43h1M131 43h1M140 43h1M142 43h1M148 43h1M10 45h1M15 45h1M21 45h1M23 45h1M27 45h1M80 45h1M83 45h1M129 45h2M138 45h1M173 45h1M181 45h1M183 45h1M218 45h1M221 45h1M172 46h2M100 48h1M103 48h1M165 48h1M220 48h2M8 49h1M96 49h1M159 49h2M160 50h3M12 51h1M14 51h2M66 51h2M95 51h1M103 51h1M157 51h1M210 51h10M136 52h2M76 53h1M131 53h1M145 53h1M190 53h1M164 54h1M148 57h1"/>
<path stroke="#d99829" d="M10 1h1M39 1h1M98 1h1M9 2h1M39 2h1M69 2h2M159 2h1M9 3h1M128 3h1M159 3h1M68 4h1M212 4h1M8 6h1M38 6h1M69 6h1M96 6h1M129 6h1M183 6h1M54 7h1M109 7h1M116 7h1M138 7h1M146 7h1M170 7h1M172 7h1M216 7h1M221 7h1M225 7h1M227 7h1M233 7h1M236 7h1M13 8h1M41 8h2M73 8h1M101 8h1M131 8h1M133 8h1M183 8h1M10 9h1M39 9h1M129 9h1M159 9h1M10 10h1M39 10h1M69 10h1M99 10h1M214 10h1M12 11h1M43 11h1M103 11h1M161 11h2M181 11h2M12 12h1M101 12h2M132 12h1M181 12h1M215 12h1M40 14h1M160 14h1M72 15h1M159 15h1M40 17h1M214 17h1M14 20h1M19 20h1M45 20h1M47 20h1M73 20h1M76 20h1M102 20h1M137 20h1M166 20h1M217 20h1M220 20h1M9 23h1M39 23h1M70 23h1M128 23h2M214 23h1M160 27h1M215 27h1M219 27h2M100 32h1M211 32h2M214 32h2M217 32h1M126 34h2M211 35h1M128 36h1M158 37h1M212 37h1M69 38h1M8 41h1M10 41h2M15 41h1M69 41h6M76 41h3M80 41h1M97 41h4M102 41h4M127 41h2M131 41h1M133 41h1M135 41h6M167 41h1M171 41h1M213 41h2M219 41h5M7 43h1M95 43h1M97 43h1M99 43h1M100 49h1M7 51h1M126 51h1M220 51h1M138 56h1M170 57h1"/>
<path stroke="#f1a92e" d="M69 1h1M129 1h1M159 1h1M213 1h1M98 2h1M128 2h1M213 2h1M39 3h1M69 3h1M98 3h1M213 3h1M9 4h1M39 4h1M97 4h1M128 4h1M127 6h1M157 6h1M212 6h2M16 7h1M41 7h1M49 7h1M81 7h1M100 7h1M103 7h1M105 7h1M223 7h1M11 8h2M71 8h1M100 8h1M161 8h1M215 8h1M70 9h1M13 11h1M41 11h1M72 11h1M98 11h1M131 11h1M180 11h1M216 11h1M11 12h1M41 12h1M71 12h1M100 12h1M129 12h2M160 12h2M70 14h1M10 15h1M99 15h1M129 15h1M71 17h1M103 20h1M105 20h1M132 20h1M135 20h1M184 20h1M69 23h1M158 31h2M164 31h1M175 31h1M158 32h1M175 32h1M40 33h1M67 33h1M75 33h1M78 33h1M10 38h1M39 38h1M213 40h1M215 40h1M218 40h1M9 41h1M12 41h3M16 41h2M37 41h3M41 41h5M68 41h1M75 41h1M79 41h1M96 41h1M101 41h1M129 41h2M132 41h1M134 41h1M211 41h2M215 41h4M8 43h1M96 43h1M98 43h1M26 45h1M78 45h1M87 45h1M39 46h1M159 46h3M11 51h1M36 51h2M68 52h1M129 52h1"/>
<path stroke="#f2b243" d="M69 4h1M158 4h1M213 4h1M9 5h1M39 5h1M68 5h1M97 5h1M128 5h1M158 5h1M213 5h1M9 6h1M39 6h1M68 6h1M97 6h1M128 6h1M158 6h1M181 6h1M12 7h1M18 7h1M46 7h1M71 7h1M76 7h1M131 7h1M135 7h1M161 7h1M218 7h1M9 8h1M39 8h1M98 8h1M158 8h1M160 8h1M181 8h1M213 8h2M11 11h1M70 11h2M99 11h2M130 11h1M158 11h1M160 11h1M215 11h1M9 12h1M39 12h1M213 12h2M70 15h2M13 20h1M15 20h1M43 20h1M74 20h1M164 20h1M181 20h1M218 20h1M97 32h1M101 32h2M105 32h1M40 41h1M164 41h2M170 41h1"/>
<path stroke="#f4ba58" d="M43 7h1M133 7h1M163 7h1M40 8h1M68 8h1M70 8h1M99 8h1M128 8h1M130 8h1M9 11h2M39 11h1M69 11h1M129 11h1M213 11h2M10 12h1M40 12h1M69 12h2M98 12h1M159 12h1M159 14h1M133 20h1M69 45h1M98 45h2"/>
<path stroke="#f5c36d" d="M13 7h1M38 7h1M40 7h1M70 7h1M73 7h1M99 7h1M128 7h1M130 7h1M160 7h1M212 7h1M214 7h2M10 8h1M69 8h1M159 8h1M40 11h1M159 11h1M99 12h1M12 20h1M39 20h1M42 20h1M69 20h1M71 20h2M101 20h1M131 20h1M159 20h1M161 20h2M180 20h1M182 20h1M213 20h1M215 20h2"/>
<path stroke="#f7cb82" d="M9 7h3M39 7h1M68 7h2M97 7h2M129 7h1M157 7h3M183 7h1M129 8h1M10 20h1M41 20h1M99 20h2M129 20h2M160 20h1"/>
<path stroke="#f8d496" d="M213 7h1M11 20h1M40 20h1M70 20h1M98 20h1M214 20h1"/>
</g></g>
<path d="M1072.4 710.2v361.2M1162.5 710.2v361.2M1252.6 710.2v361.2M1342.7 710.2v361.2M1432.8 710.2v361.2M1522.9 710.2v361.2M1613 710.2v361.2" stroke="#fff" stroke-width="1.8" stroke-dasharray="6.3 2.2" fill="none"/>
<path d="M982.3 867.8h720.8" stroke="#62f4e9" stroke-width="4.2" stroke-dasharray="8 2.55" fill="none"/>
<rect x="982.3" y="710.2" width="720.8" height="361.2" fill="none" stroke="#000" stroke-width="1.7"/>
<path d="M982.3 713.2h-7M982.3 773.4h-7M982.3 833.6h-7M982.3 893.8h-7M982.3 954h-7M982.3 1014.2h-7M982.3 1071.4v3.5M1101.8 1071.4v3.5M1221.8 1071.4v3.5M1341.8 1071.4v3.5M1461.8 1071.4v3.5M1581.8 1071.4v3.5M1701.8 1071.4v3.5" stroke="#000" stroke-width="1.8"/>
<text x="1340.4" y="694.6" font-size="32.4" text-anchor="middle">Group 2 (burst 8/18)</text>
<clipPath id="cp3"><rect x="140.7" y="1138.2" width="720.8" height="361.2"/></clipPath>
<rect x="140.7" y="1138.2" width="720.8" height="361.2" fill="#000"/>
<g clip-path="url(#cp3)"><g filter="url(#hb)" transform="translate(140.7 1141.2) scale(3.0033 6.020)" stroke-width="1.04" fill="none">
<path stroke="#181105" d="M15 0h1M25 0h1M29 0h1M46 0h2M105 0h15M137 0h3M145 0h1M149 0h1M165 0h5M172 0h2M175 0h2M189 0h3M193 0h1M219 0h2M225 0h5M235 0h5M14 1h1M25 1h5M53 1h7M84 1h6M109 1h11M145 1h5M173 1h7M202 1h8M231 1h9M28 3h1M52 3h2M56 3h2M78 3h1M85 3h1M106 3h1M111 3h1M115 3h1M145 3h1M148 3h1M175 3h2M199 3h1M205 3h1M209 3h1M233 3h1M235 3h1M24 10h1M59 10h1M88 10h1M107 10h1M112 10h1M117 10h1M177 10h1M203 10h1M208 10h2M235 10h1M24 13h3M42 13h3M46 13h9M59 13h1M77 13h4M83 13h4M116 13h4M167 13h1M177 13h3M196 13h1M199 13h2M206 13h2M229 13h2M234 13h3M18 14h8M84 14h3M98 14h1M111 14h5M178 14h1M197 14h3M225 14h7M20 15h2M45 15h11M75 15h6M110 15h6M136 15h1M140 15h3M56 16h1M86 16h1M89 16h1M101 16h5M110 16h9M132 16h10M147 16h3M229 16h1M231 16h5M238 16h2M20 17h1M24 17h2M53 17h1M75 17h6M84 17h1M112 17h1M115 17h1M117 17h1M119 17h1M134 17h1M136 17h9M231 17h2M11 18h3M39 18h3M70 18h3M95 18h2M131 18h2M160 18h2M190 18h2M218 18h3M17 19h13M45 19h15M77 19h13M101 19h19M137 19h13M166 19h14M196 19h14M224 19h16M23 21h1M83 21h7M113 21h3M144 21h6M229 21h3M11 22h8M20 22h4M45 22h1M47 22h2M53 22h7M73 22h5M89 22h1M109 22h1M111 22h2M118 22h2M145 22h1M147 22h1M149 22h1M163 22h3M168 22h3M173 22h1M176 22h1M179 22h1M205 22h1M207 22h1M224 22h1M227 22h1M229 22h2M235 22h2M238 22h2M11 23h1M39 23h1M41 23h1M70 23h2M95 23h1M97 23h1M131 23h1M133 23h1M160 23h1M163 23h1M190 23h1M192 23h1M218 23h1M12 24h4M21 24h3M27 24h1M40 24h8M49 24h3M54 24h2M58 24h1M71 24h5M77 24h5M84 24h5M96 24h7M114 24h6M131 24h12M144 24h3M161 24h1M167 24h2M170 24h1M178 24h2M191 24h1M194 24h9M219 24h8M228 24h11M13 25h7M24 25h5M41 25h3M45 25h1M48 25h1M53 25h7M72 25h9M82 25h8M97 25h14M112 25h8M133 25h15M162 25h18M192 25h18M220 25h18M239 25h1M72 37h18M69 38h21M132 38h18M219 38h8M9 39h20M91 39h28M101 40h18M6 42h23M38 42h10M52 42h6M59 42h1M67 42h9M107 42h1M113 42h1M115 42h1M118 42h1M220 45h20M13 46h13M27 46h2M41 46h15M59 46h1M160 46h20M11 47h9M71 47h14M134 47h16M191 47h18M220 47h20M13 49h8M55 49h5M15 50h1M21 50h1M23 50h1M26 50h1M28 50h1M11 51h1M28 51h1M12 52h17M70 52h20M12 53h5M18 53h1M20 53h3M24 53h2M27 53h1M45 53h15M163 53h17M14 54h15M15 55h1M50 55h10M48 56h1M50 56h1M53 56h1M55 56h1M59 56h1M52 57h8M98 57h21M158 57h22M8 58h13M48 58h12M72 58h18M98 58h13M128 58h22M155 58h25M227 58h13"/>
<path stroke="#302209" d="M8 0h2M12 0h3M21 0h4M27 0h1M43 0h1M45 0h1M52 0h1M54 0h6M84 0h1M86 0h4M98 0h5M133 0h4M146 0h2M164 0h1M174 0h1M192 0h1M196 0h1M199 0h11M221 0h4M41 1h1M73 1h1M97 1h1M133 1h1M162 1h1M192 1h1M218 1h1M221 1h1M18 2h2M21 2h1M24 2h1M26 2h1M28 2h2M49 2h2M52 2h1M54 2h2M57 2h2M78 2h4M85 2h3M89 2h1M100 2h1M110 2h8M119 2h1M136 2h1M138 2h1M140 2h1M142 2h1M146 2h1M149 2h1M167 2h1M169 2h2M173 2h1M175 2h1M177 2h3M200 2h1M202 2h5M209 2h1M229 2h5M235 2h1M237 2h2M15 3h1M17 3h3M21 3h1M23 3h1M25 3h1M27 3h1M29 3h1M43 3h1M45 3h2M48 3h1M50 3h1M54 3h1M58 3h2M74 3h2M77 3h1M80 3h1M82 3h2M86 3h1M88 3h1M98 3h2M101 3h1M103 3h2M108 3h1M110 3h1M113 3h1M117 3h1M119 3h1M134 3h1M136 3h2M139 3h2M142 3h2M147 3h1M162 3h1M164 3h1M166 3h1M168 3h2M171 3h1M173 3h2M177 3h2M192 3h1M194 3h2M197 3h1M201 3h1M203 3h1M207 3h1M222 3h2M225 3h2M228 3h1M230 3h1M232 3h1M237 3h3M19 4h1M25 4h3M29 4h1M46 4h1M48 4h2M52 4h1M54 4h2M58 4h2M81 4h2M86 4h1M88 4h1M101 4h1M103 4h1M106 4h1M108 4h1M110 4h1M113 4h3M117 4h1M119 4h1M140 4h1M142 4h2M145 4h1M147 4h2M168 4h1M171 4h3M177 4h2M200 4h2M203 4h1M205 4h1M209 4h1M228 4h1M230 4h1M232 4h2M235 4h1M237 4h1M239 4h1M54 5h1M147 5h1M56 6h1M58 6h1M84 6h1M113 6h1M144 6h1M238 6h1M21 9h9M48 9h12M79 9h11M106 9h14M139 9h11M170 9h10M199 9h11M228 9h12M16 10h8M25 10h5M45 10h14M75 10h13M89 10h1M99 10h8M108 10h4M113 10h4M118 10h2M135 10h15M165 10h12M178 10h2M195 10h8M204 10h4M223 10h12M236 10h4M15 13h1M17 13h3M27 13h3M88 13h1M103 13h13M139 13h1M141 13h3M168 13h6M192 13h4M197 13h2M201 13h1M203 13h1M209 13h1M222 13h1M237 13h3M42 14h2M46 14h1M77 14h5M83 14h1M94 14h1M96 14h1M100 14h1M102 14h1M104 14h2M109 14h2M116 14h1M133 14h1M143 14h1M145 14h1M147 14h3M176 14h2M179 14h1M205 14h4M221 14h4M234 14h2M237 14h1M239 14h1M27 15h3M74 15h1M133 15h1M143 15h7M225 15h1M227 15h5M28 16h1M44 16h1M46 16h3M50 16h2M53 16h2M88 16h1M131 16h1M145 16h2M168 16h1M170 16h3M174 16h6M207 16h3M228 16h1M230 16h1M21 17h3M26 17h1M54 17h3M59 17h1M88 17h2M98 17h8M110 17h2M113 17h2M116 17h1M118 17h1M148 17h1M168 17h1M177 17h3M201 17h1M203 17h1M239 17h1M11 19h1M39 19h1M70 19h1M95 19h1M130 19h1M159 19h1M189 19h1M218 19h1M16 21h4M21 21h2M29 21h1M45 21h4M51 21h2M55 21h2M59 21h1M81 21h1M98 21h4M103 21h2M108 21h1M111 21h1M116 21h4M142 21h2M171 21h2M174 21h2M177 21h1M202 21h1M224 21h1M228 21h1M239 21h1M24 22h4M29 22h1M41 22h1M46 22h1M49 22h1M51 22h1M82 22h1M85 22h2M101 22h1M103 22h6M110 22h1M113 22h3M117 22h1M134 22h2M138 22h1M140 22h5M146 22h1M148 22h1M162 22h1M166 22h2M193 22h8M222 22h2M23 23h1M29 23h1M86 23h1M108 23h1M110 23h1M114 23h1M116 23h1M140 23h1M148 23h1M174 23h1M203 23h1M205 23h1M209 23h1M231 23h1M233 23h1M133 33h3M137 33h2M140 33h3M144 33h6M70 34h3M74 34h4M79 34h1M81 34h2M84 34h1M86 34h1M88 34h2M70 35h3M80 35h6M87 35h1M89 35h1M131 35h1M134 35h5M140 35h1M142 35h8M136 36h2M139 36h1M141 36h9M222 36h4M227 36h4M232 36h3M236 36h1M238 36h2M227 38h2M230 38h6M237 38h3M130 39h4M135 39h12M148 39h2M188 39h5M194 39h5M200 39h9M216 39h8M225 39h8M234 39h5M8 40h3M12 40h1M15 40h2M21 40h7M93 40h1M99 40h1M219 40h1M221 40h2M226 40h1M228 40h1M76 42h12M102 42h1M105 42h1M111 42h2M127 42h1M129 42h2M132 42h5M165 43h4M171 43h1M173 43h2M177 43h2M43 44h6M51 44h2M54 44h2M57 44h1M233 46h7M86 47h4M95 47h19M117 47h2M16 48h4M77 48h1M72 49h6M79 49h5M86 49h3M97 49h4M102 49h7M110 49h9M160 49h2M163 49h14M191 49h1M193 49h10M11 50h1M13 50h1M16 50h2M19 50h1M24 50h1M84 50h1M89 50h1M103 50h1M132 50h1M134 50h1M145 50h5M229 50h1M12 51h3M18 51h3M23 51h1M26 51h1M83 51h1M100 51h1M142 51h1M202 51h1M97 52h3M101 52h7M109 52h8M118 52h1M132 52h8M141 52h3M147 52h3M11 53h1M17 53h1M19 53h1M23 53h1M26 53h1M28 53h1M71 53h1M104 53h1M40 54h2M43 54h2M50 54h3M55 54h1M57 54h2M80 54h4M85 54h2M88 54h2M105 54h3M110 54h5M118 54h1M138 54h3M142 54h1M144 54h1M148 54h1M178 54h1M229 54h1M235 54h1M14 55h1M16 55h1M18 55h1M25 55h1M27 55h1M84 55h6M101 55h7M109 55h1M111 55h7M21 56h1M23 56h1M43 56h2M47 56h1M49 56h1M56 56h2M75 56h8M84 56h4M89 56h1M104 56h1M106 56h3M110 56h5M116 56h3M135 56h4M141 56h5M171 56h1M174 56h2M177 56h1M189 56h5M195 56h2M199 56h1M201 56h8M226 56h6M234 56h5M138 57h11M191 57h1M193 57h3M197 57h8M206 57h3M225 57h3M229 57h3M233 57h7M196 58h8M206 58h1M208 58h1M81 59h1M87 59h2M163 59h1M165 59h1M167 59h1M169 59h11"/>
<path stroke="#48330e" d="M7 0h1M17 0h2M20 0h1M26 0h1M28 0h1M35 0h1M39 0h1M44 0h1M48 0h4M53 0h1M66 0h2M69 0h1M74 0h10M85 0h1M91 0h7M103 0h2M127 0h1M129 0h1M131 0h2M140 0h5M156 0h1M158 0h6M170 0h2M177 0h3M186 0h1M198 0h1M214 0h1M231 0h1M233 0h1M11 1h3M37 1h1M96 1h1M130 1h1M132 1h1M158 1h1M161 1h1M189 1h3M219 1h2M14 2h4M20 2h1M22 2h2M25 2h1M27 2h1M41 2h8M51 2h1M53 2h1M56 2h1M72 2h1M74 2h4M82 2h1M88 2h1M97 2h3M103 2h6M133 2h3M137 2h1M141 2h1M143 2h2M147 2h2M163 2h4M171 2h2M193 2h7M201 2h1M207 2h2M223 2h4M228 2h1M234 2h1M236 2h1M239 2h1M12 3h2M22 3h1M26 3h1M40 3h2M51 3h1M55 3h1M72 3h1M89 3h1M96 3h1M105 3h1M107 3h1M109 3h1M112 3h1M118 3h1M141 3h1M161 3h1M167 3h1M172 3h1M202 3h1M204 3h1M206 3h1M15 4h1M17 4h1M21 4h3M43 4h3M50 4h1M56 4h1M74 4h2M77 4h2M80 4h1M83 4h1M85 4h1M98 4h2M104 4h1M111 4h1M136 4h2M139 4h1M164 4h1M166 4h1M169 4h1M175 4h1M194 4h2M197 4h1M199 4h1M207 4h1M222 4h2M225 4h2M16 5h2M19 5h3M23 5h1M25 5h1M27 5h1M29 5h1M46 5h1M48 5h1M50 5h1M52 5h2M56 5h1M58 5h2M80 5h1M82 5h2M85 5h2M88 5h1M101 5h1M103 5h2M106 5h1M108 5h1M110 5h4M115 5h1M117 5h1M119 5h1M135 5h3M139 5h2M142 5h2M145 5h1M148 5h1M166 5h6M173 5h1M175 5h1M177 5h2M195 5h1M197 5h1M199 5h1M201 5h1M203 5h5M209 5h1M223 5h1M226 5h3M230 5h1M232 5h4M237 5h1M239 5h1M16 6h2M19 6h3M23 6h1M25 6h1M27 6h1M29 6h1M45 6h2M48 6h1M50 6h1M52 6h1M54 6h1M59 6h1M77 6h2M80 6h1M82 6h2M85 6h2M88 6h1M100 6h2M103 6h2M106 6h1M108 6h1M110 6h2M115 6h1M117 6h1M119 6h1M135 6h1M139 6h2M142 6h2M145 6h1M147 6h2M166 6h4M171 6h1M173 6h1M175 6h1M177 6h2M197 6h1M199 6h1M201 6h1M203 6h1M205 6h1M207 6h1M209 6h1M225 6h2M228 6h1M230 6h4M235 6h1M237 6h1M239 6h1M209 7h1M160 10h1M14 13h1M16 13h1M20 13h4M41 13h1M55 13h4M74 13h2M82 13h1M89 13h1M98 13h5M134 13h5M140 13h1M144 13h1M146 13h4M174 13h3M189 13h1M191 13h1M202 13h1M204 13h2M208 13h1M220 13h2M225 13h1M233 13h1M26 14h1M28 14h1M44 14h2M49 14h1M51 14h1M87 14h1M89 14h1M99 14h1M101 14h1M103 14h1M106 14h3M144 14h1M146 14h1M166 14h2M203 14h2M209 14h1M220 14h1M232 14h2M238 14h1M25 15h2M58 15h1M84 15h6M101 15h5M107 15h1M109 15h1M163 15h2M167 15h1M169 15h1M174 15h1M192 15h3M223 15h2M226 15h1M235 15h2M238 15h2M20 16h1M24 16h4M29 16h1M45 16h1M49 16h1M52 16h1M55 16h1M72 16h2M82 16h1M84 16h2M94 16h1M106 16h3M119 16h1M142 16h3M165 16h3M169 16h1M173 16h1M196 16h11M15 17h5M28 17h2M45 17h1M48 17h5M57 17h2M74 17h1M81 17h1M97 17h1M135 17h1M145 17h1M173 17h4M195 17h1M197 17h4M202 17h1M205 17h1M223 17h1M226 17h5M235 17h4M16 19h1M74 19h1M76 19h1M99 19h2M195 19h1M222 19h2M14 21h2M20 21h1M25 21h1M27 21h2M42 21h3M49 21h2M53 21h2M57 21h2M73 21h8M82 21h1M102 21h1M105 21h3M109 21h2M112 21h1M134 21h5M140 21h1M164 21h7M173 21h1M176 21h1M178 21h2M192 21h1M194 21h8M203 21h1M205 21h1M207 21h1M209 21h1M221 21h3M225 21h3M232 21h1M234 21h1M236 21h3M19 22h1M28 22h1M40 22h1M42 22h3M50 22h1M52 22h1M72 22h1M78 22h4M83 22h2M87 22h2M96 22h1M98 22h3M102 22h1M116 22h1M132 22h2M136 22h2M139 22h1M190 22h1M201 22h4M225 22h1M15 23h1M17 23h1M19 23h1M21 23h1M25 23h1M27 23h1M44 23h1M46 23h1M48 23h1M50 23h1M52 23h1M54 23h1M56 23h1M58 23h1M74 23h1M76 23h1M78 23h1M80 23h1M82 23h1M84 23h1M88 23h2M100 23h1M102 23h1M104 23h1M106 23h1M112 23h1M118 23h1M134 23h1M136 23h1M138 23h1M142 23h1M144 23h1M146 23h1M164 23h1M166 23h1M168 23h1M170 23h1M172 23h1M176 23h1M178 23h1M195 23h1M197 23h1M199 23h1M201 23h1M207 23h2M223 23h1M225 23h1M227 23h1M229 23h1M235 23h1M237 23h1M239 23h1M136 33h1M139 33h1M143 33h1M73 34h1M78 34h1M80 34h1M83 34h1M85 34h1M87 34h1M86 35h1M88 35h1M130 35h1M132 35h2M139 35h1M141 35h1M135 36h1M138 36h1M140 36h1M226 36h1M231 36h1M235 36h1M237 36h1M229 38h1M236 38h1M129 39h1M134 39h1M147 39h1M186 39h2M193 39h1M199 39h1M224 39h1M233 39h1M239 39h1M11 40h1M28 40h1M94 40h5M100 40h1M130 40h1M132 40h3M137 40h2M140 40h3M144 40h2M147 40h2M231 40h1M235 40h3M89 42h1M106 42h1M114 42h1M116 42h2M128 42h1M131 42h1M137 42h1M102 43h1M107 43h1M113 43h2M158 43h1M163 43h2M169 43h2M172 43h1M175 43h2M179 43h1M192 43h1M42 44h1M50 44h1M53 44h1M56 44h1M144 46h2M147 46h3M206 46h1M232 46h1M85 47h1M114 47h3M15 48h1M74 48h1M102 48h1M108 48h1M111 48h2M134 48h1M143 48h1M146 48h1M149 48h1M162 48h1M177 48h1M194 48h1M197 48h1M208 48h1M231 48h1M236 48h1M239 48h1M78 49h1M84 49h2M89 49h1M101 49h1M109 49h1M162 49h1M192 49h1M203 49h1M12 50h1M20 50h1M25 50h1M46 50h1M50 50h1M52 50h1M70 50h1M72 50h1M75 50h9M85 50h3M97 50h3M101 50h2M104 50h6M112 50h2M115 50h4M131 50h1M136 50h3M141 50h2M165 50h1M170 50h1M192 50h16M220 50h2M224 50h2M227 50h1M230 50h1M233 50h3M237 50h1M239 50h1M16 51h2M75 51h1M77 51h2M80 51h2M86 51h2M89 51h1M97 51h1M102 51h1M104 51h4M110 51h4M115 51h1M117 51h2M135 51h7M144 51h2M147 51h1M192 51h5M199 51h3M203 51h3M207 51h2M224 51h3M228 51h4M235 51h3M239 51h1M108 52h1M117 52h1M140 52h1M144 52h3M222 52h1M72 53h2M75 53h3M100 53h1M102 53h2M42 54h1M53 54h2M56 54h1M59 54h1M84 54h1M87 54h1M108 54h2M115 54h3M131 54h2M135 54h2M160 54h1M162 54h2M165 54h2M170 54h3M174 54h4M179 54h1M198 54h7M224 54h1M226 54h1M228 54h1M230 54h1M237 54h1M20 55h1M24 55h1M28 55h1M83 55h1M108 55h1M110 55h1M118 55h1M134 55h1M141 55h1M145 55h1M173 55h3M179 55h1M16 56h3M20 56h1M25 56h1M58 56h1M83 56h1M88 56h1M105 56h1M109 56h1M115 56h1M134 56h1M139 56h2M146 56h1M148 56h2M172 56h2M176 56h1M178 56h2M194 56h1M198 56h1M200 56h1M232 56h2M239 56h1M149 57h1M192 57h1M196 57h1M205 57h1M223 57h2M228 57h1M232 57h1M204 58h2M207 58h1M79 59h1M83 59h1M89 59h1M140 59h1M145 59h1M164 59h1M166 59h1M168 59h1"/>
<path stroke="#604412" d="M10 0h2M16 0h1M19 0h1M36 0h3M40 0h3M68 0h1M70 0h4M128 0h1M130 0h1M148 0h1M157 0h1M187 0h2M194 0h2M197 0h1M215 0h2M218 0h1M230 0h1M232 0h1M234 0h1M39 1h2M69 1h1M71 1h2M93 1h1M95 1h1M131 1h1M160 1h1M13 2h1M83 2h1M102 2h1M118 2h1M132 2h1M139 2h1M145 2h1M161 2h1M176 2h1M192 2h1M219 2h2M14 3h1M20 3h1M24 3h1M39 3h1M44 3h1M47 3h1M49 3h1M71 3h1M76 3h1M79 3h1M81 3h1M84 3h1M87 3h1M95 3h1M100 3h1M102 3h1M114 3h1M116 3h1M131 3h2M135 3h1M138 3h1M144 3h1M146 3h1M149 3h1M160 3h1M163 3h1M165 3h1M170 3h1M179 3h1M191 3h1M193 3h1M196 3h1M198 3h1M200 3h1M208 3h1M218 3h3M224 3h1M227 3h1M229 3h1M231 3h1M234 3h1M236 3h1M116 4h1M134 4h1M192 4h1M15 5h1M41 5h1M43 5h1M45 5h1M74 5h5M98 5h2M134 5h1M162 5h3M194 5h1M221 5h2M225 5h1M15 6h1M43 6h1M74 6h2M98 6h2M134 6h1M136 6h2M162 6h1M164 6h2M192 6h1M194 6h2M222 6h2M20 7h2M24 7h2M27 7h3M48 7h1M50 7h1M52 7h1M56 7h4M80 7h2M83 7h4M88 7h1M108 7h1M110 7h3M115 7h1M117 7h1M119 7h1M142 7h2M145 7h1M147 7h2M171 7h1M173 7h1M175 7h1M177 7h2M199 7h1M203 7h1M205 7h1M207 7h2M226 7h3M233 7h1M237 7h1M239 7h1M25 8h1M54 8h1M83 8h1M89 8h1M108 8h1M113 8h1M115 8h1M119 8h1M175 8h1M178 8h1M238 8h1M39 9h1M95 9h1M190 9h1M131 10h1M190 10h1M148 11h1M205 11h1M209 11h1M20 12h1M22 12h1M26 12h1M55 12h1M57 12h1M85 12h1M89 12h1M109 12h1M115 12h1M119 12h1M141 12h1M143 12h1M147 12h1M149 12h1M175 12h1M202 12h1M206 12h1M208 12h1M232 12h1M234 12h1M238 12h1M13 13h1M40 13h1M45 13h1M72 13h2M76 13h1M81 13h1M87 13h1M96 13h2M145 13h1M164 13h1M166 13h1M219 13h1M223 13h2M226 13h3M231 13h2M14 14h3M27 14h1M29 14h1M47 14h2M50 14h1M52 14h8M73 14h1M76 14h1M82 14h1M88 14h1M119 14h1M131 14h2M139 14h1M141 14h2M163 14h3M168 14h2M171 14h1M173 14h2M200 14h3M219 14h1M236 14h1M16 15h4M43 15h2M56 15h2M59 15h1M72 15h1M99 15h2M106 15h1M108 15h1M165 15h2M168 15h1M175 15h1M177 15h1M179 15h1M195 15h1M201 15h1M204 15h1M206 15h4M233 15h2M237 15h1M16 16h1M19 16h1M21 16h3M58 16h2M76 16h6M83 16h1M87 16h1M98 16h2M109 16h1M164 16h1M192 16h4M223 16h5M236 16h2M12 17h1M14 17h1M43 17h2M83 17h1M85 17h1M96 17h1M106 17h4M146 17h2M149 17h1M162 17h6M169 17h4M194 17h1M196 17h1M204 17h1M206 17h4M222 17h1M224 17h2M233 17h2M13 19h3M42 19h3M73 19h1M75 19h1M98 19h1M133 19h4M161 19h5M192 19h3M220 19h2M25 20h1M29 20h1M56 20h1M88 20h1M112 20h1M146 20h1M174 20h1M178 20h1M205 20h1M207 20h1M209 20h1M233 20h1M13 21h1M24 21h1M26 21h1M41 21h1M94 21h4M132 21h2M139 21h1M141 21h1M162 21h2M193 21h1M204 21h1M206 21h1M208 21h1M220 21h1M233 21h1M235 21h1M70 22h1M95 22h1M97 22h1M131 22h1M161 22h1M192 22h1M221 22h1M16 23h1M20 23h1M24 23h1M28 23h1M47 23h1M49 23h1M51 23h1M53 23h1M55 23h1M57 23h1M59 23h1M77 23h1M79 23h1M81 23h1M83 23h1M87 23h1M103 23h1M105 23h1M109 23h1M111 23h1M113 23h1M115 23h1M117 23h1M119 23h1M135 23h1M141 23h1M143 23h1M145 23h1M147 23h1M149 23h1M171 23h1M173 23h1M175 23h1M177 23h1M179 23h1M198 23h1M202 23h1M204 23h1M206 23h1M228 23h1M232 23h1M234 23h1M236 23h1M238 23h1M128 33h1M73 35h1M76 35h1M218 36h1M17 40h1M131 40h1M135 40h2M143 40h1M146 40h1M149 40h1M163 40h1M174 40h2M177 40h1M224 40h2M227 40h1M230 40h1M234 40h1M36 42h1M49 42h2M108 42h2M172 42h1M176 42h1M179 42h1M184 42h2M199 42h1M208 42h1M229 42h1M235 42h2M97 43h2M100 43h1M103 43h1M105 43h1M110 43h2M115 43h1M160 43h1M189 43h1M191 43h1M193 43h2M197 43h1M215 43h1M218 43h1M85 45h1M88 45h1M134 45h1M146 46h1M203 46h3M207 46h1M78 48h1M95 48h1M103 48h2M106 48h2M109 48h1M113 48h1M117 48h1M136 48h5M142 48h1M145 48h1M148 48h1M167 48h1M171 48h2M176 48h1M178 48h1M196 48h1M199 48h1M201 48h1M204 48h1M207 48h1M221 48h6M238 48h1M91 49h1M93 49h1M10 50h1M14 50h1M22 50h1M39 50h3M44 50h2M69 50h1M71 50h1M73 50h2M88 50h1M100 50h1M110 50h2M114 50h1M130 50h1M133 50h1M135 50h1M139 50h2M143 50h2M159 50h4M166 50h1M169 50h1M172 50h1M174 50h1M191 50h1M208 50h1M222 50h2M226 50h1M228 50h1M231 50h2M236 50h1M238 50h1M22 51h1M27 51h1M70 51h1M73 51h1M76 51h1M79 51h1M82 51h1M84 51h2M88 51h1M98 51h2M101 51h1M103 51h1M108 51h2M114 51h1M116 51h1M131 51h4M143 51h1M146 51h1M148 51h2M189 51h1M191 51h1M197 51h1M206 51h1M219 51h1M227 51h1M232 51h3M238 51h1M223 52h1M70 53h1M74 53h1M99 53h1M101 53h1M105 53h2M45 54h1M47 54h1M49 54h1M141 54h1M146 54h2M161 54h1M164 54h1M167 54h3M173 54h1M197 54h1M205 54h1M225 54h1M227 54h1M231 54h4M236 54h1M238 54h2M19 55h1M21 55h2M26 55h1M80 55h1M137 55h1M142 55h1M162 55h1M164 55h1M166 55h1M171 55h2M177 55h2M22 56h1M24 56h1M26 56h1M45 56h1M51 56h1M54 56h1M16 57h1M18 57h1M76 57h1M80 59h1M82 59h1M86 59h1M138 59h2M144 59h1M149 59h1"/>
<path stroke="#785417" d="M217 0h1M11 2h2M40 2h1M59 2h1M71 2h1M84 2h1M95 2h1M101 2h1M109 2h1M131 2h1M160 2h1M168 2h1M174 2h1M190 2h2M218 2h1M221 2h1M227 2h1M11 3h1M16 3h1M42 3h1M70 3h1M73 3h1M94 3h1M97 3h1M130 3h1M133 3h1M159 3h1M189 3h2M221 3h1M13 4h1M20 4h1M24 4h1M41 4h1M51 4h1M57 4h1M72 4h1M79 4h1M84 4h1M87 4h1M89 4h1M102 4h1M105 4h1M107 4h1M109 4h1M112 4h1M132 4h1M141 4h1M144 4h1M162 4h1M170 4h1M174 4h1M176 4h1M179 4h1M191 4h1M196 4h1M198 4h1M202 4h1M204 4h1M206 4h1M208 4h1M220 4h1M236 4h1M13 5h1M107 5h1M114 5h1M133 5h1M144 5h1M192 5h1M238 5h1M13 6h1M22 6h1M41 6h1M89 6h1M112 6h1M149 6h1M202 6h1M208 6h1M220 6h1M17 7h3M23 7h1M45 7h2M49 7h1M54 7h1M77 7h2M82 7h1M101 7h1M103 7h2M106 7h1M113 7h1M136 7h1M139 7h3M165 7h2M168 7h2M194 7h1M197 7h2M201 7h1M223 7h1M230 7h1M232 7h1M235 7h1M19 8h1M21 8h1M24 8h1M27 8h1M29 8h1M46 8h1M48 8h1M50 8h3M56 8h1M58 8h2M77 8h2M80 8h3M85 8h2M88 8h1M103 8h1M106 8h1M110 8h2M116 8h3M139 8h2M142 8h4M147 8h2M166 8h1M169 8h1M173 8h1M176 8h2M199 8h1M201 8h1M203 8h1M205 8h1M207 8h1M209 8h1M227 8h2M230 8h1M232 8h2M235 8h3M239 8h1M69 9h1M129 9h1M158 9h1M38 10h1M69 10h1M217 10h1M17 11h1M19 11h1M23 11h2M27 11h1M29 11h1M48 11h1M50 11h1M52 11h1M54 11h3M58 11h2M80 11h1M82 11h1M85 11h4M104 11h1M108 11h1M110 11h3M114 11h3M118 11h1M138 11h1M140 11h1M142 11h1M144 11h1M146 11h1M149 11h1M170 11h1M172 11h1M174 11h1M176 11h1M178 11h1M199 11h1M201 11h1M207 11h1M227 11h1M229 11h1M231 11h1M233 11h1M235 11h1M237 11h3M23 12h2M27 12h3M47 12h1M49 12h1M51 12h1M53 12h1M59 12h1M75 12h1M77 12h1M81 12h1M83 12h1M87 12h1M103 12h1M105 12h1M107 12h2M110 12h2M113 12h1M117 12h2M135 12h1M137 12h1M139 12h1M145 12h2M167 12h1M169 12h1M171 12h4M176 12h4M196 12h1M198 12h1M200 12h1M204 12h2M226 12h1M228 12h1M230 12h2M233 12h1M236 12h2M239 12h1M12 13h1M71 13h1M95 13h1M161 13h1M163 13h1M165 13h1M13 14h1M75 14h1M97 14h1M117 14h2M135 14h4M140 14h1M162 14h1M170 14h1M172 14h1M175 14h1M194 14h3M15 15h1M22 15h3M42 15h1M71 15h1M73 15h1M82 15h1M98 15h1M116 15h4M135 15h1M137 15h2M172 15h2M176 15h1M178 15h1M191 15h1M198 15h3M202 15h2M205 15h1M222 15h1M232 15h1M13 16h1M15 16h1M17 16h2M41 16h1M57 16h1M74 16h2M97 16h1M100 16h1M163 16h1M191 16h1M220 16h3M13 17h1M27 17h1M46 17h2M72 17h2M82 17h1M86 17h2M133 17h1M221 17h1M12 19h1M41 19h1M72 19h1M97 19h1M132 19h1M191 19h1M19 20h1M23 20h1M27 20h1M50 20h1M52 20h1M54 20h1M58 20h1M78 20h1M82 20h1M84 20h1M86 20h1M104 20h1M106 20h1M108 20h1M110 20h1M114 20h1M116 20h1M118 20h1M140 20h1M142 20h1M144 20h1M148 20h1M172 20h1M176 20h1M201 20h1M203 20h1M229 20h1M231 20h1M235 20h1M237 20h1M239 20h1M11 21h2M72 21h1M161 21h1M191 21h1M219 21h1M39 22h1M71 22h1M94 22h1M160 22h1M191 22h1M220 22h1M18 23h1M22 23h1M26 23h1M43 23h1M45 23h1M75 23h1M85 23h1M99 23h1M101 23h1M107 23h1M137 23h1M139 23h1M165 23h1M167 23h1M169 23h1M194 23h1M196 23h1M200 23h1M222 23h1M224 23h1M226 23h1M230 23h1M126 33h2M130 33h1M74 35h2M77 35h3M217 36h1M220 36h1M19 40h1M164 40h3M220 40h1M223 40h1M229 40h1M37 42h1M48 42h1M51 42h1M103 42h2M110 42h1M163 42h2M166 42h1M168 42h4M175 42h1M177 42h1M189 42h1M194 42h1M198 42h1M202 42h1M206 42h2M223 42h2M226 42h1M234 42h1M91 43h3M96 43h1M99 43h1M104 43h1M109 43h1M117 43h1M155 43h1M159 43h1M186 43h3M190 43h1M195 43h2M221 43h1M74 45h1M78 45h2M87 45h1M138 45h1M140 45h1M144 45h2M147 45h3M56 46h3M40 48h1M47 48h1M73 48h1M75 48h2M79 48h1M86 48h2M96 48h2M105 48h1M110 48h1M116 48h1M144 48h1M147 48h1M163 48h1M165 48h1M174 48h1M202 48h1M205 48h1M220 48h1M233 48h2M92 49h1M18 50h1M27 50h1M42 50h2M47 50h3M51 50h1M67 50h2M163 50h2M167 50h2M171 50h1M173 50h1M175 50h1M15 51h1M21 51h1M24 51h2M68 51h2M71 51h1M185 51h4M221 51h1M223 51h1M219 52h3M46 54h1M48 54h1M133 54h2M137 54h1M143 54h1M145 54h1M149 54h1M79 55h1M82 55h1M133 55h1M136 55h1M138 55h1M165 55h1M42 56h1M46 56h1M52 56h1M166 56h2M169 56h2M17 57h1M19 57h1M75 57h1M77 57h1M84 59h2M142 59h1M147 59h1"/>
<path stroke="#91651c" d="M39 2h1M93 2h1M130 2h1M222 2h1M9 3h1M37 3h1M216 3h1M18 4h1M28 4h1M40 4h1M47 4h1M53 4h1M71 4h1M76 4h1M96 4h1M100 4h1M118 4h1M138 4h1M146 4h1M149 4h1M165 4h1M167 4h1M190 4h1M219 4h1M224 4h1M227 4h1M229 4h1M231 4h1M234 4h1M238 4h1M12 5h1M22 5h1M26 5h1M28 5h1M55 5h1M57 5h1M72 5h1M79 5h1M84 5h1M87 5h1M102 5h1M105 5h1M109 5h1M116 5h1M149 5h1M172 5h1M174 5h1M176 5h1M179 5h1M200 5h1M202 5h1M208 5h1M231 5h1M24 6h1M26 6h1M28 6h1M47 6h1M51 6h1M55 6h1M57 6h1M79 6h1M81 6h1M87 6h1M105 6h1M107 6h1M109 6h1M114 6h1M116 6h1M118 6h1M138 6h1M141 6h1M146 6h1M170 6h1M174 6h1M176 6h1M179 6h1M198 6h1M206 6h1M227 6h1M229 6h1M234 6h1M236 6h1M15 7h1M43 7h1M74 7h2M99 7h1M134 7h1M137 7h1M162 7h1M164 7h1M192 7h1M195 7h1M222 7h1M225 7h1M15 8h1M17 8h1M20 8h1M23 8h1M28 8h1M45 8h1M55 8h1M75 8h1M84 8h1M87 8h1M98 8h1M101 8h1M104 8h2M107 8h1M109 8h1M112 8h1M114 8h1M136 8h2M141 8h1M149 8h1M168 8h1M171 8h1M174 8h1M195 8h1M197 8h1M206 8h1M222 8h1M225 8h2M234 8h1M21 11h1M25 11h1M28 11h1M44 11h1M46 11h1M49 11h1M51 11h1M78 11h1M81 11h1M83 11h2M89 11h1M102 11h2M105 11h2M109 11h1M113 11h1M117 11h1M134 11h1M136 11h1M141 11h1M147 11h1M166 11h1M168 11h2M173 11h1M175 11h1M177 11h1M195 11h1M197 11h1M200 11h1M202 11h3M206 11h1M225 11h2M228 11h1M230 11h1M232 11h1M236 11h1M14 12h1M16 12h4M21 12h1M25 12h1M43 12h1M45 12h1M48 12h1M50 12h1M52 12h1M54 12h1M56 12h1M58 12h1M76 12h1M78 12h2M82 12h1M84 12h1M86 12h1M88 12h1M99 12h1M101 12h2M106 12h1M112 12h1M114 12h1M116 12h1M140 12h1M142 12h1M144 12h1M148 12h1M163 12h1M165 12h2M168 12h1M170 12h1M194 12h1M197 12h1M199 12h1M201 12h1M203 12h1M207 12h1M209 12h1M222 12h1M224 12h1M227 12h1M229 12h1M235 12h1M38 13h1M133 13h1M162 13h1M217 13h1M17 14h1M41 14h1M72 14h1M74 14h1M134 14h1M161 14h1M192 14h1M13 15h2M41 15h1M81 15h1M83 15h1M97 15h1M134 15h1M139 15h1M162 15h1M170 15h2M189 15h1M196 15h2M221 15h1M14 16h1M40 16h1M42 16h2M96 16h1M161 17h1M192 17h1M220 17h1M40 19h1M71 19h1M96 19h1M131 19h1M219 19h1M17 20h1M21 20h1M26 20h1M46 20h1M48 20h1M57 20h1M76 20h1M80 20h1M89 20h1M100 20h1M102 20h1M111 20h1M113 20h1M117 20h1M136 20h1M138 20h1M143 20h1M166 20h1M168 20h1M170 20h1M173 20h1M177 20h1M195 20h1M197 20h1M199 20h1M204 20h1M223 20h1M225 20h1M227 20h1M232 20h1M236 20h1M39 21h2M70 21h2M130 21h2M190 21h1M218 21h1M129 33h1M161 40h1M167 40h2M176 40h1M178 40h1M58 42h1M165 42h1M173 42h2M186 42h1M195 42h1M197 42h1M200 42h2M204 42h1M209 42h1M230 42h1M232 42h1M239 42h1M94 43h2M219 43h1M75 45h1M77 45h1M80 45h1M83 45h1M135 45h2M142 45h2M146 45h1M45 47h3M46 48h1M8 49h1M12 49h1M217 51h1M157 53h2M94 54h1M101 54h3M94 55h1M164 56h2M168 56h1"/>
<path stroke="#a97620" d="M70 2h1M73 2h1M96 2h1M162 2h1M11 4h2M16 4h1M39 4h1M70 4h1M95 4h1M97 4h1M131 4h1M135 4h1M161 4h1M163 4h1M193 4h1M218 4h1M221 4h1M18 5h1M24 5h1M40 5h1M47 5h1M49 5h1M51 5h1M81 5h1M89 5h1M95 5h2M118 5h1M132 5h1M138 5h1M141 5h1M146 5h1M161 5h1M165 5h1M198 5h1M219 5h2M224 5h1M229 5h1M236 5h1M12 6h1M18 6h1M40 6h1M44 6h1M49 6h1M53 6h1M72 6h1M76 6h1M102 6h1M132 6h1M161 6h1M172 6h1M191 6h1M196 6h1M200 6h1M204 6h1M219 6h1M13 7h1M87 7h1M89 7h1M98 7h1M116 7h1M118 7h1M179 7h1M206 7h1M22 8h1M26 8h1M43 8h1M47 8h1M49 8h1M53 8h1M57 8h1M79 8h1M99 8h1M102 8h1M134 8h1M146 8h1M164 8h1M167 8h1M170 8h1M172 8h1M179 8h1M194 8h1M198 8h1M200 8h1M202 8h1M204 8h1M208 8h1M223 8h2M229 8h1M231 8h1M15 11h1M20 11h1M22 11h1M26 11h1M45 11h1M47 11h1M53 11h1M57 11h1M74 11h1M76 11h1M79 11h1M98 11h1M100 11h1M107 11h1M119 11h1M139 11h1M143 11h1M145 11h1M167 11h1M171 11h1M179 11h1M193 11h1M208 11h1M221 11h1M223 11h1M234 11h1M15 12h1M41 12h1M44 12h1M46 12h1M80 12h1M100 12h1M104 12h1M134 12h1M136 12h1M138 12h1M164 12h1M195 12h1M223 12h1M225 12h1M70 13h1M132 13h1M159 13h1M11 14h2M71 14h1M95 14h1M130 14h1M190 14h1M193 14h1M218 14h1M40 15h1M132 15h1M161 15h1M190 15h1M220 15h1M12 16h1M70 16h1M130 16h1M162 16h1M218 16h2M41 17h2M95 17h1M131 17h2M160 17h1M191 17h1M193 17h1M219 17h1M160 19h1M190 19h1M22 20h1M24 20h1M28 20h1M44 20h1M51 20h1M53 20h1M55 20h1M59 20h1M81 20h1M83 20h1M87 20h1M105 20h1M109 20h1M115 20h1M119 20h1M134 20h1M145 20h1M147 20h1M149 20h1M164 20h1M171 20h1M175 20h1M179 20h1M202 20h1M206 20h1M208 20h1M228 20h1M230 20h1M234 20h1M238 20h1M159 21h2M189 21h1M218 22h2M217 23h1M20 40h1M90 40h3M127 40h3M232 40h2M238 40h2M106 43h1M112 43h1M116 43h1M118 43h1M161 43h1M10 46h1M208 46h1M12 48h2M53 48h1M72 48h1M98 48h4M164 48h1M168 48h1M175 48h1M193 48h1M198 48h1M200 48h1M228 48h1M230 48h1M232 48h1M237 48h1M66 49h2M69 49h1M218 50h2M77 55h1M81 55h1M139 55h2M143 55h1M19 56h1M146 59h1M148 59h1"/>
<path stroke="#c18725" d="M9 2h1M158 2h1M14 4h1M42 4h1M68 4h1M73 4h1M133 4h1M158 4h1M160 4h1M11 5h1M39 5h1M42 5h1M44 5h1M71 5h1M73 5h1M94 5h1M100 5h1M130 5h2M160 5h1M190 5h2M193 5h1M196 5h1M42 6h1M73 6h1M95 6h3M130 6h2M159 6h2M163 6h1M190 6h1M224 6h1M22 7h1M26 7h1M107 7h1M109 7h1M144 7h1M149 7h1M170 7h1M172 7h1M176 7h1M200 7h1M220 7h1M16 8h1M18 8h1M42 8h1M74 8h1M76 8h1M100 8h1M138 8h1M162 8h2M165 8h1M196 8h1M220 8h1M217 9h1M189 10h1M218 10h1M13 11h1M18 11h1M42 11h1M75 11h1M77 11h1M101 11h1M135 11h1M137 11h1M162 11h1M164 11h2M196 11h1M198 11h1M224 11h1M42 12h1M73 12h2M97 12h2M133 12h1M221 12h1M10 13h2M39 13h1M94 13h1M160 13h1M190 13h1M218 13h1M39 14h2M70 14h1M159 14h2M189 14h1M217 14h1M39 15h1M95 15h2M218 15h1M11 16h1M39 16h1M71 16h1M161 16h1M189 16h2M11 17h1M39 17h1M70 17h2M190 17h1M15 20h1M20 20h1M42 20h1M45 20h1M47 20h1M49 20h1M77 20h1M85 20h1M98 20h1M101 20h1M107 20h1M141 20h1M162 20h1M169 20h1M196 20h1M198 20h1M200 20h1M224 20h1M226 20h1M10 23h1M94 23h1M129 23h2M159 23h1M189 23h1M130 36h1M133 36h1M219 36h1M221 36h1M13 40h2M18 40h1M139 40h1M156 40h1M158 40h1M162 40h1M169 40h4M215 40h1M88 42h1M154 42h5M160 42h3M167 42h1M191 42h1M193 42h1M214 42h1M216 42h2M220 42h1M222 42h1M225 42h1M227 42h2M231 42h1M233 42h1M237 42h1M101 43h1M108 43h1M162 43h1M214 43h1M217 43h1M220 43h1M76 45h1M81 45h2M84 45h1M86 45h1M89 45h1M139 45h1M141 45h1M11 46h1M26 46h1M94 47h1M130 47h1M190 47h1M14 48h1M52 48h1M114 48h2M118 48h1M133 48h1M135 48h1M141 48h1M166 48h1M169 48h2M173 48h1M179 48h1M195 48h1M203 48h1M206 48h1M227 48h1M229 48h1M235 48h1M68 49h1M67 51h1M91 51h1M127 51h2M190 51h1M198 51h1M214 51h1M218 51h1M220 51h1M69 52h1M100 52h1M161 53h1M11 54h1M190 54h2M218 54h1M76 55h1M78 55h1M135 55h1M144 55h1M161 55h1M163 55h1M169 55h1M176 55h1M147 56h1M162 56h2M197 56h1M222 56h2M9 57h1M37 57h1M92 57h1M188 57h1M70 59h1M137 59h1M141 59h1M143 59h1M159 59h1"/>
<path stroke="#d99829" d="M70 1h1M94 1h1M69 2h1M159 2h1M69 3h1M129 3h1M158 3h1M188 3h1M217 3h1M37 4h1M94 4h1M130 4h1M189 4h1M10 5h1M14 5h1M70 5h1M218 5h1M11 6h1M14 6h1M39 6h1M68 6h1M70 6h2M94 6h1M133 6h1M193 6h1M215 6h1M218 6h1M221 6h1M16 7h1M41 7h1M47 7h1M51 7h1M53 7h1M55 7h1M72 7h1M79 7h1M105 7h1M114 7h1M138 7h1M146 7h1M161 7h1M167 7h1M174 7h1M196 7h1M202 7h1M204 7h1M229 7h1M231 7h1M234 7h1M236 7h1M238 7h1M13 8h2M41 8h1M44 8h1M73 8h1M96 8h2M135 8h1M191 8h1M193 8h1M10 9h1M38 9h1M70 9h1M94 9h1M130 9h1M159 9h1M189 9h1M10 10h1M39 10h1M70 10h1M94 10h1M130 10h1M159 10h1M14 11h1M16 11h1M41 11h1M43 11h1M99 11h1M192 11h1M194 11h1M222 11h1M12 12h2M72 12h1M161 12h1M193 12h1M130 13h2M191 14h1M11 15h2M130 15h2M219 15h1M95 16h1M40 17h1M218 17h1M18 20h1M74 20h1M79 20h1M103 20h1M137 20h1M139 20h1M165 20h1M167 20h1M193 20h1M221 20h1M127 35h1M214 40h1M159 42h1M215 42h1M218 42h2M221 42h1M49 44h1M70 45h1M39 46h1M189 46h1M10 47h1M38 47h1M93 47h1M159 47h1M217 47h1M95 49h1M95 50h1M7 51h1M126 51h1M10 52h1M92 52h2M129 52h1M217 52h1M13 55h1M17 55h1M23 55h1M129 59h1"/>
<path stroke="#f1a92e" d="M10 1h1M38 1h1M129 1h1M159 1h1M188 1h1M217 1h1M10 2h1M38 2h1M94 2h1M129 2h1M189 2h1M217 2h1M10 3h1M38 3h1M93 3h1M9 4h1M38 4h1M93 4h1M159 4h1M216 4h2M9 5h1M37 5h1M92 5h1M97 5h1M157 5h1M159 5h1M216 5h1M36 6h1M38 6h1M157 6h1M187 6h1M189 6h1M217 6h1M96 7h1M100 7h1M102 7h1M132 7h1M191 7h1M224 7h1M71 8h2M131 8h2M192 8h1M221 8h1M40 11h1M72 11h1M96 11h2M131 11h3M163 11h1M191 11h1M219 11h1M38 12h3M71 12h1M96 12h1M131 12h2M162 12h1M191 12h2M220 12h1M159 15h2M16 20h1M99 20h1M135 20h1M222 20h1M38 23h1M69 23h1M131 33h2M68 34h1M155 40h1M157 40h1M159 40h2M173 40h1M178 42h1M187 42h2M190 42h1M192 42h1M196 42h1M203 42h1M205 42h1M238 42h1M216 43h1M137 45h1M70 46h1M130 46h1M190 46h1M41 48h3M185 49h1M72 51h1M74 51h1M184 51h1M222 51h1M167 55h2M170 55h1M99 56h2M102 56h1"/>
<path stroke="#f2b243" d="M10 4h1M69 4h1M129 4h1M188 4h1M38 5h1M69 5h1M93 5h1M128 5h2M158 5h1M188 5h2M217 5h1M9 6h2M37 6h1M92 6h1M128 6h2M188 6h1M216 6h1M12 7h1M76 7h1M135 7h1M219 7h1M11 8h2M39 8h2M95 8h1M133 8h1M160 8h2M190 8h1M219 8h1M12 11h1M70 11h1M73 11h1M160 11h2M217 11h1M220 11h1M94 12h1M159 12h2M189 12h1M219 12h1M159 16h2M14 20h1M43 20h1M73 20h1M75 20h1M133 20h1M163 20h1M192 20h1M194 20h1M70 37h2M130 38h1M218 38h1M156 43h2M130 45h1M217 46h2"/>
<path stroke="#f4ba58" d="M69 6h1M93 6h1M158 6h1M40 7h1M42 7h1M44 7h1M97 7h1M128 7h1M163 7h1M187 7h1M193 7h1M221 7h1M93 8h1M158 8h1M217 8h2M10 11h1M39 11h1M95 11h1M190 11h1M10 12h2M69 12h2M95 12h1M129 12h2M217 12h2M70 15h1M41 20h1M72 20h1M97 20h1M217 45h2"/>
<path stroke="#f5c36d" d="M8 7h1M14 7h1M37 7h1M70 7h2M73 7h1M93 7h1M131 7h1M133 7h1M159 7h2M190 7h1M10 8h1M37 8h1M69 8h2M94 8h1M129 8h2M159 8h1M188 8h2M11 11h1M37 11h2M71 11h1M94 11h1M158 11h2M189 11h1M218 11h1M190 12h1M10 20h1M12 20h2M40 20h1M69 20h1M71 20h1M132 20h1M161 20h1M220 20h1"/>
<path stroke="#f7cb82" d="M11 7h1M39 7h1M68 7h2M94 7h2M157 7h1M189 7h1M216 7h3M38 8h1M129 11h2M38 20h2M94 20h3M129 20h1M131 20h1M159 20h1M189 20h1M191 20h1M217 20h3"/>
<path stroke="#f8d496" d="M9 7h2M38 7h1M129 7h2M158 7h1M188 7h1M11 20h1M70 20h1M130 20h1M160 20h1M190 20h1"/>
</g></g>
<path d="M230.8 1138.2v361.2M320.9 1138.2v361.2M411 1138.2v361.2M501.1 1138.2v361.2M591.2 1138.2v361.2M681.3 1138.2v361.2M771.4 1138.2v361.2" stroke="#fff" stroke-width="1.8" stroke-dasharray="6.3 2.2" fill="none"/>
<path d="M140.7 1295.8h720.8" stroke="#62f4e9" stroke-width="4.2" stroke-dasharray="8 2.55" fill="none"/>
<rect x="140.7" y="1138.2" width="720.8" height="361.2" fill="none" stroke="#000" stroke-width="1.7"/>
<path d="M140.7 1141.2h-7M140.7 1201.4h-7M140.7 1261.6h-7M140.7 1321.8h-7M140.7 1382h-7M140.7 1442.2h-7M140.7 1499.4v3.5M260.2 1499.4v3.5M380.2 1499.4v3.5M500.2 1499.4v3.5M620.2 1499.4v3.5M740.2 1499.4v3.5M860.2 1499.4v3.5" stroke="#000" stroke-width="1.8"/>
<text x="507" y="1126" font-size="32.4" text-anchor="middle">Group 3 (burst 8/18)</text>
<clipPath id="cp4"><rect x="987.3" y="1138.3" width="720.8" height="361.2"/></clipPath>
<rect x="987.3" y="1138.3" width="720.8" height="361.2" fill="#000"/>
<g clip-path="url(#cp4)"><g filter="url(#hb)" transform="translate(987.3 1141.3) scale(3.0033 6.020)" stroke-width="1.04" fill="none">
<path stroke="#181105" d="M10 0h2M14 0h2M23 0h1M40 0h2M45 0h1M54 0h3M59 0h1M105 0h9M133 0h5M142 0h6M158 0h9M205 0h4M224 0h10M10 3h1M17 3h1M20 3h1M22 3h2M26 3h1M28 3h1M42 3h1M46 3h2M54 3h1M58 3h1M67 3h1M69 3h1M75 3h1M81 3h2M84 3h1M87 3h2M98 3h1M100 3h1M107 3h1M109 3h1M113 3h2M132 3h1M134 3h1M136 3h1M138 3h1M145 3h1M158 3h1M160 3h1M163 3h1M167 3h2M172 3h1M175 3h1M190 3h1M194 3h1M204 3h1M206 3h1M223 3h1M228 3h1M230 3h1M232 3h1M235 3h1M238 3h1M56 13h4M76 13h1M95 13h4M110 13h2M125 13h5M137 13h1M162 13h5M187 13h1M195 13h3M224 13h8M53 14h1M69 14h1M74 14h5M102 14h4M136 14h1M143 14h6M205 14h2M214 14h1M220 14h4M239 14h1M10 15h1M12 15h2M41 15h3M45 15h1M101 15h1M134 15h7M160 15h2M175 15h1M218 15h1M221 15h1M14 16h1M41 16h5M72 16h4M81 16h4M134 16h8M185 16h4M195 16h1M202 16h5M218 16h4M11 17h7M34 17h1M63 17h1M68 17h1M129 17h1M165 17h2M50 18h1M84 18h2M225 18h1M229 18h1M0 19h4M30 19h4M60 19h1M62 19h2M90 19h4M120 19h4M150 19h4M180 19h4M210 19h1M212 19h2M77 21h7M119 21h1M123 21h5M175 21h5M228 21h5M5 22h8M16 22h7M25 22h1M27 22h1M54 22h1M63 22h3M85 22h2M99 22h1M101 22h19M134 22h8M175 22h4M193 22h3M198 22h2M222 22h2M226 22h1M228 22h2M238 22h2M4 24h9M18 24h3M27 24h1M38 24h1M40 24h1M74 24h9M86 24h4M96 24h1M102 24h2M105 24h3M126 24h1M196 24h4M201 24h5M208 24h9M229 24h2M234 24h2M2 25h3M12 25h6M22 25h1M32 25h1M34 25h2M37 25h3M45 25h6M65 25h3M71 25h2M77 25h3M91 25h7M114 25h6M121 25h2M125 25h2M128 25h3M137 25h8M147 25h1M149 25h1M156 25h5M164 25h1M166 25h9M180 25h6M194 25h15M211 25h1M215 25h2M218 25h9M236 25h4M134 37h4M100 44h5M121 44h17M187 45h4M1 46h8M61 46h7M73 46h7M82 46h8M37 47h23M72 47h6M181 47h19M232 47h2M30 49h30M156 49h17M206 49h4M142 50h8M18 52h3M228 52h12M10 53h19M213 53h27M122 54h1M126 54h1M134 54h1M138 54h1M14 56h7M39 56h21M70 56h1M78 56h1M82 56h1M30 58h5M126 58h23"/>
<path stroke="#302209" d="M8 0h2M12 0h1M18 0h5M24 0h5M38 0h2M44 0h1M46 0h3M50 0h1M57 0h2M69 0h2M72 0h1M74 0h1M76 0h2M81 0h9M114 0h1M129 0h1M132 0h1M139 0h1M141 0h1M149 0h1M169 0h5M176 0h4M197 0h6M209 0h1M220 0h1M4 1h6M14 1h16M33 1h7M44 1h16M64 1h6M74 1h16M94 1h6M104 1h16M123 1h1M125 1h5M134 1h16M153 1h7M164 1h16M183 1h7M194 1h16M215 1h5M224 1h16M3 2h13M17 2h2M20 2h1M22 2h8M33 2h1M35 2h7M43 2h1M45 2h10M57 2h3M65 2h9M75 2h1M77 2h1M79 2h11M94 2h25M120 2h1M125 2h6M132 2h18M153 2h1M155 2h23M179 2h1M184 2h1M188 2h3M192 2h3M196 2h1M198 2h2M201 2h9M214 2h1M216 2h1M219 2h1M221 2h7M229 2h5M235 2h5M2 3h1M4 3h1M6 3h2M9 3h1M11 3h1M13 3h2M16 3h1M19 3h1M24 3h2M33 3h1M35 3h1M37 3h1M39 3h2M44 3h1M49 3h2M52 3h2M56 3h1M59 3h2M63 3h1M65 3h1M68 3h1M70 3h1M72 3h1M74 3h1M77 3h1M79 3h1M85 3h1M90 3h1M92 3h2M95 3h2M102 3h1M104 3h2M111 3h1M116 3h1M118 3h1M120 3h1M124 3h2M127 3h1M129 3h2M139 3h1M141 3h1M143 3h1M147 3h1M149 3h2M155 3h2M161 3h1M165 3h1M170 3h1M174 3h1M177 3h1M179 3h2M184 3h1M186 3h2M189 3h1M192 3h1M196 3h1M198 3h1M200 3h2M203 3h1M208 3h1M210 3h1M214 3h1M216 3h1M218 3h1M220 3h2M225 3h2M233 3h1M236 3h2M0 4h1M6 4h2M9 4h1M11 4h1M13 4h2M16 4h2M19 4h2M22 4h2M25 4h2M28 4h2M37 4h1M39 4h2M42 4h1M44 4h1M46 4h2M49 4h2M52 4h1M54 4h1M56 4h1M58 4h2M67 4h1M69 4h2M72 4h1M74 4h2M77 4h1M79 4h1M81 4h2M84 4h2M87 4h2M96 4h1M98 4h1M100 4h1M102 4h1M104 4h2M107 4h3M111 4h1M113 4h2M116 4h4M124 4h2M127 4h1M129 4h2M132 4h3M136 4h1M138 4h2M141 4h1M143 4h1M145 4h1M147 4h1M149 4h1M156 4h6M163 4h1M165 4h1M167 4h2M170 4h1M172 4h1M174 4h2M177 4h1M179 4h1M184 4h1M186 4h2M189 4h2M192 4h1M194 4h5M200 4h2M203 4h2M206 4h1M208 4h1M218 4h1M220 4h2M223 4h1M225 4h2M228 4h1M230 4h1M232 4h2M235 4h1M237 4h2M14 5h1M74 5h1M79 5h1M82 5h1M102 5h1M129 5h1M132 5h1M134 5h1M139 5h1M141 5h1M145 5h1M149 5h1M161 5h1M167 5h1M192 5h1M221 5h1M238 5h1M16 6h2M19 6h1M37 6h1M44 6h1M46 6h1M50 6h1M75 6h1M77 6h1M80 6h1M82 6h1M107 6h1M118 6h1M129 6h1M134 6h1M143 6h1M145 6h2M170 6h1M177 6h1M189 6h1M194 6h1M200 6h1M203 6h2M223 6h1M228 6h1M232 6h2M235 6h1M237 6h2M12 9h1M14 9h4M19 9h2M22 9h3M26 9h2M29 9h1M44 9h6M52 9h3M56 9h3M72 9h1M74 9h6M81 9h4M86 9h3M102 9h6M109 9h4M114 9h1M116 9h1M132 9h2M137 9h1M139 9h5M145 9h5M163 9h2M168 9h1M170 9h4M175 9h3M179 9h1M192 9h1M194 9h6M201 9h1M204 9h2M207 9h3M222 9h2M225 9h2M228 9h5M234 9h2M237 9h3M7 10h10M18 10h1M20 10h10M37 10h21M68 10h3M72 10h6M79 10h8M88 10h2M97 10h4M102 10h8M113 10h1M115 10h3M119 10h1M129 10h4M135 10h7M143 10h4M148 10h2M159 10h6M166 10h2M170 10h7M178 10h2M187 10h1M189 10h1M191 10h10M202 10h3M206 10h4M218 10h11M230 10h3M234 10h6M11 13h2M14 13h1M20 13h1M37 13h1M41 13h1M60 13h1M70 13h5M77 13h3M101 13h1M108 13h1M130 13h3M134 13h3M138 13h5M144 13h2M181 13h1M183 13h4M216 13h3M223 13h1M4 14h2M57 14h2M87 14h3M159 14h2M201 14h3M11 15h1M17 15h1M44 15h1M62 15h2M73 15h1M98 15h3M174 15h1M197 15h1M201 15h1M216 15h2M5 16h1M35 16h1M67 16h1M97 16h10M157 16h2M165 16h6M175 16h3M181 16h3M196 16h1M232 16h2M62 17h1M64 17h4M120 17h1M154 17h7M215 17h1M217 17h8M7 18h23M37 18h13M51 18h9M67 18h17M86 18h4M97 18h23M127 18h23M157 18h23M187 18h23M217 18h8M226 18h3M230 18h10M61 19h1M211 19h1M9 21h8M42 21h1M45 21h13M68 21h6M95 21h3M108 21h1M133 21h4M144 21h1M170 21h4M193 21h1M202 21h1M205 21h1M222 21h1M227 21h1M233 21h3M14 22h2M24 22h1M26 22h1M28 22h2M39 22h1M43 22h2M47 22h1M49 22h1M83 22h2M87 22h2M94 22h5M100 22h1M143 22h1M155 22h5M165 22h1M167 22h1M187 22h1M200 22h1M227 22h1M230 22h2M233 22h3M60 23h1M151 23h1M181 23h1M210 23h1M1 24h3M13 24h1M23 24h4M28 24h2M34 24h3M39 24h1M44 24h15M61 24h1M63 24h5M72 24h2M108 24h4M116 24h4M121 24h1M123 24h1M127 24h2M136 24h1M140 24h6M151 24h6M163 24h1M165 24h3M170 24h1M175 24h3M179 24h1M181 24h2M184 24h4M224 24h5M236 24h2M239 24h1M0 25h2M5 25h7M21 25h1M23 25h6M30 25h2M33 25h1M36 25h1M40 25h5M51 25h3M55 25h10M68 25h3M80 25h2M83 25h5M90 25h1M98 25h4M103 25h11M120 25h1M123 25h2M127 25h1M131 25h4M145 25h2M148 25h1M152 25h4M161 25h3M165 25h1M175 25h5M209 25h2M212 25h3M217 25h1M228 25h4M32 40h2M36 40h1M57 40h2M69 40h1M75 40h2M78 40h1M84 40h1M131 40h1M144 40h1M151 40h1M155 40h7M164 40h2M167 40h12M226 40h1M236 40h1M120 42h1M143 42h1M97 43h1M103 43h1M185 43h1M200 43h2M206 43h2M211 43h1M213 43h1M219 43h1M225 43h1M231 43h1M233 43h1M235 43h1M157 44h1M162 44h1M176 44h1M210 44h5M216 44h1M218 44h22M22 46h1M33 46h1M47 46h2M50 46h1M53 46h1M55 46h1M98 46h4M104 46h1M106 46h2M110 46h1M112 46h3M117 46h1M124 46h1M128 46h1M132 46h1M139 46h2M143 46h1M1 47h3M6 47h4M12 47h5M18 47h9M28 47h1M121 47h3M125 47h9M135 47h2M138 47h8M147 47h1M149 47h1M166 47h5M173 47h3M177 47h3M93 48h2M61 49h2M64 49h6M71 49h3M134 49h1M137 49h1M139 49h4M144 49h5M190 49h4M195 49h2M224 49h1M1 50h8M10 50h3M14 50h7M22 50h3M27 50h2M91 50h1M96 50h4M102 50h5M109 50h1M115 50h4M120 50h1M122 50h2M125 50h6M132 50h10M160 50h2M163 50h1M210 50h11M222 50h1M224 50h1M226 50h3M66 52h5M72 52h1M74 52h2M77 52h3M96 52h14M112 52h1M115 52h4M120 52h7M128 52h5M138 52h4M143 52h6M181 52h3M190 52h6M202 52h3M67 53h1M69 53h5M76 53h1M78 53h2M92 53h1M94 53h13M108 53h3M112 53h1M114 53h3M118 53h1M156 53h3M160 53h3M9 54h9M19 54h3M23 54h4M28 54h1M32 54h2M35 54h6M42 54h1M44 54h2M47 54h7M55 54h1M57 54h2M65 54h2M69 54h1M74 54h2M77 54h1M123 54h1M127 54h2M133 54h1M136 54h1M141 54h1M144 54h1M149 54h1M163 54h2M168 54h1M179 54h1M181 54h1M195 54h1M199 54h1M224 54h1M226 54h12M239 54h1M32 55h4M37 55h2M41 55h2M44 55h3M49 55h7M57 55h3M64 55h1M67 55h1M80 55h1M128 55h1M130 55h1M181 55h1M190 55h1M74 56h1M77 56h1M79 56h1M83 56h1M85 56h1M122 56h1M127 56h1M129 56h1M135 56h1M137 56h1M168 56h1M181 56h7M189 56h8M198 56h2M120 57h17M139 57h2M154 57h1M156 57h5M162 57h3M216 57h1M218 57h2M1 58h7M9 58h4M14 58h2M18 58h5M41 58h2M44 58h1M46 58h4M52 58h5M58 58h2M61 58h2M64 58h5M70 58h4M76 58h1M78 58h2M81 58h1M83 58h2M181 58h5M187 58h1M198 58h12M102 59h1M104 59h2M107 59h1M109 59h4M114 59h2M117 59h2"/>
<path stroke="#48330e" d="M13 0h1M16 0h2M29 0h1M42 0h2M49 0h1M51 0h3M68 0h1M71 0h1M73 0h1M75 0h1M78 0h3M99 0h6M115 0h5M128 0h1M130 0h2M138 0h1M140 0h1M148 0h1M168 0h1M174 0h2M188 0h1M190 0h7M203 0h2M218 0h2M221 0h3M234 0h6M2 1h2M32 1h1M60 1h4M90 1h1M93 1h1M122 1h1M124 1h1M152 1h1M182 1h1M210 1h1M212 1h3M0 2h1M2 2h1M16 2h1M30 2h1M32 2h1M42 2h1M44 2h1M60 2h2M63 2h1M76 2h1M78 2h1M92 2h2M121 2h1M123 2h2M154 2h1M185 2h1M187 2h1M195 2h1M212 2h2M218 2h1M234 2h1M0 3h1M30 3h3M61 3h1M122 3h1M151 3h1M153 3h1M181 3h2M211 3h2M2 4h1M4 4h1M30 4h1M33 4h1M35 4h1M60 4h2M63 4h1M65 4h1M92 4h2M95 4h1M153 4h3M180 4h1M183 4h1M214 4h1M216 4h1M6 5h2M9 5h3M13 5h1M16 5h5M22 5h2M25 5h2M28 5h2M35 5h1M37 5h1M39 5h2M42 5h1M44 5h1M46 5h2M49 5h2M52 5h1M54 5h6M67 5h1M69 5h4M75 5h1M77 5h2M81 5h1M84 5h2M87 5h2M95 5h2M98 5h1M100 5h1M104 5h2M107 5h1M109 5h1M111 5h1M113 5h2M116 5h1M118 5h1M125 5h1M127 5h1M130 5h1M136 5h1M138 5h1M143 5h2M146 5h2M156 5h1M158 5h1M160 5h1M163 5h1M165 5h1M168 5h1M170 5h1M172 5h1M174 5h2M177 5h1M179 5h1M185 5h3M189 5h2M194 5h1M196 5h1M198 5h1M200 5h2M203 5h2M206 5h1M208 5h2M216 5h1M218 5h3M223 5h1M225 5h2M228 5h1M230 5h1M232 5h2M235 5h1M237 5h1M6 6h2M9 6h1M11 6h1M13 6h3M20 6h1M22 6h2M25 6h2M28 6h1M39 6h2M42 6h1M45 6h1M47 6h1M49 6h1M51 6h2M54 6h3M58 6h2M65 6h1M67 6h1M69 6h2M72 6h3M79 6h1M81 6h1M84 6h2M87 6h3M95 6h2M98 6h1M100 6h1M102 6h1M104 6h3M109 6h1M111 6h4M116 6h1M126 6h2M130 6h1M132 6h1M135 6h2M138 6h2M141 6h1M147 6h1M149 6h1M156 6h1M158 6h1M160 6h2M163 6h1M165 6h1M167 6h2M172 6h1M174 6h2M179 6h1M186 6h3M190 6h1M192 6h2M196 6h1M198 6h1M201 6h1M206 6h3M218 6h1M220 6h2M225 6h2M230 6h1M7 7h1M9 7h1M14 7h1M19 7h2M22 7h2M37 7h1M40 7h1M42 7h1M44 7h1M47 7h1M52 7h1M54 7h1M56 7h1M58 7h1M69 7h1M72 7h1M74 7h3M79 7h2M83 7h3M88 7h1M102 7h1M107 7h1M109 7h1M113 7h2M128 7h1M139 7h1M141 7h1M145 7h1M147 7h1M149 7h1M156 7h1M161 7h1M167 7h1M174 7h2M177 7h1M179 7h1M190 7h1M192 7h1M200 7h1M206 7h1M221 7h1M223 7h2M226 7h1M232 7h1M234 7h2M237 7h1M13 9h1M18 9h1M21 9h1M25 9h1M28 9h1M42 9h2M50 9h2M55 9h1M59 9h1M73 9h1M80 9h1M85 9h1M89 9h1M108 9h1M113 9h1M115 9h1M117 9h3M134 9h3M138 9h1M144 9h1M162 9h1M165 9h3M169 9h1M174 9h1M178 9h1M193 9h1M200 9h1M202 9h2M206 9h1M224 9h1M227 9h1M233 9h1M236 9h1M0 10h1M17 10h1M19 10h1M30 10h1M58 10h2M67 10h1M71 10h1M78 10h1M87 10h1M101 10h1M110 10h3M114 10h1M118 10h1M127 10h2M133 10h2M142 10h1M147 10h1M157 10h2M165 10h1M168 10h2M177 10h1M188 10h1M190 10h1M201 10h1M205 10h1M217 10h1M229 10h1M233 10h1M4 13h7M13 13h1M15 13h5M21 13h1M34 13h3M38 13h3M44 13h1M48 13h3M52 13h1M61 13h1M68 13h2M80 13h2M100 13h1M102 13h2M112 13h1M119 13h1M133 13h1M143 13h1M146 13h4M155 13h1M167 13h13M182 13h1M189 13h6M198 13h4M210 13h1M215 13h1M14 14h2M17 14h1M28 14h2M33 14h1M55 14h2M79 14h8M116 14h2M139 14h4M149 14h1M158 14h1M189 14h1M213 14h1M216 14h1M224 14h7M232 14h1M234 14h2M237 14h2M14 15h3M18 15h7M37 15h3M46 15h3M57 15h3M61 15h1M64 15h2M89 15h1M91 15h2M148 15h2M159 15h1M162 15h6M176 15h4M198 15h1M33 16h2M36 16h2M47 16h8M66 16h1M79 16h2M89 16h1M95 16h2M108 16h1M128 16h1M130 16h2M133 16h1M173 16h1M178 16h1M184 16h1M207 16h1M222 16h5M43 17h1M69 17h1M71 17h1M96 17h3M100 17h7M161 17h4M190 17h5M196 17h3M214 17h1M225 17h4M39 21h3M43 21h2M76 21h1M100 21h3M106 21h2M109 21h7M164 21h1M166 21h1M174 21h1M187 21h6M194 21h3M201 21h1M203 21h2M206 21h4M215 21h7M225 21h2M4 22h1M13 22h1M35 22h4M40 22h1M45 22h2M48 22h1M50 22h2M55 22h6M66 22h2M74 22h1M81 22h1M92 22h2M127 22h7M142 22h1M144 22h7M162 22h3M166 22h1M192 22h1M201 22h9M214 22h1M232 22h1M236 22h2M1 23h1M31 23h1M91 23h1M120 23h1M150 23h1M180 23h1M0 24h1M14 24h3M22 24h1M30 24h2M33 24h1M37 24h1M41 24h3M59 24h2M62 24h1M69 24h3M83 24h3M91 24h1M93 24h3M97 24h5M104 24h1M112 24h4M120 24h1M122 24h1M124 24h2M129 24h7M137 24h3M147 24h4M157 24h6M164 24h1M168 24h2M171 24h4M178 24h1M180 24h1M183 24h1M189 24h1M191 24h3M195 24h1M200 24h1M206 24h2M218 24h6M232 24h2M238 24h1M54 25h1M82 25h1M102 25h1M150 25h2M41 40h1M43 40h1M48 40h6M59 40h1M72 40h1M82 40h1M85 40h1M87 40h2M130 40h1M134 40h2M139 40h1M149 40h1M162 40h2M166 40h1M179 40h1M210 40h1M213 40h7M221 40h2M225 40h1M228 40h1M230 40h3M234 40h2M238 40h2M124 42h2M132 42h1M135 42h1M137 42h2M145 42h1M147 42h1M150 42h2M170 42h1M172 42h2M177 42h1M90 43h1M98 43h1M100 43h2M106 43h1M109 43h1M112 43h1M152 43h1M169 43h1M175 43h1M181 43h2M186 43h2M191 43h2M194 43h2M197 43h2M203 43h1M209 43h1M212 43h1M214 43h1M216 43h1M218 43h1M221 43h1M224 43h1M226 43h1M234 43h1M150 44h3M154 44h3M158 44h1M161 44h1M163 44h2M168 44h3M172 44h1M175 44h1M177 44h3M215 44h1M217 44h1M1 45h1M13 45h1M20 46h1M24 46h1M27 46h2M32 46h1M36 46h4M43 46h1M49 46h1M57 46h2M68 46h1M71 46h1M111 46h1M115 46h2M118 46h1M129 46h2M138 46h1M142 46h1M4 47h2M10 47h2M17 47h1M27 47h1M120 47h1M124 47h1M134 47h1M137 47h1M146 47h1M148 47h1M165 47h1M171 47h2M176 47h1M95 48h1M218 48h1M220 48h1M222 48h4M229 48h1M63 49h1M74 49h1M133 49h1M143 49h1M149 49h1M154 49h1M194 49h1M213 49h1M215 49h3M225 49h1M227 49h4M233 49h2M236 49h1M9 50h1M21 50h1M25 50h2M92 50h4M101 50h1M107 50h2M121 50h1M124 50h1M131 50h1M152 50h3M156 50h4M162 50h1M165 50h4M172 50h1M221 50h1M223 50h1M225 50h1M71 52h1M73 52h1M76 52h1M110 52h2M113 52h2M127 52h1M142 52h1M149 52h1M66 53h1M68 53h1M77 53h1M93 53h1M107 53h1M113 53h1M117 53h1M159 53h1M22 54h1M27 54h1M34 54h1M41 54h1M43 54h1M46 54h1M54 54h1M56 54h1M59 54h1M67 54h2M70 54h1M82 54h1M84 54h1M86 54h1M89 54h1M93 54h10M104 54h1M131 54h1M139 54h1M147 54h1M156 54h2M159 54h1M161 54h1M167 54h1M171 54h1M174 54h1M178 54h1M182 54h5M189 54h2M192 54h3M196 54h2M200 54h2M203 54h3M208 54h1M223 54h1M225 54h1M36 55h1M39 55h2M43 55h1M56 55h1M65 55h2M68 55h1M70 55h1M72 55h1M76 55h1M79 55h1M81 55h4M87 55h1M122 55h1M125 55h2M129 55h1M131 55h10M142 55h2M145 55h1M147 55h3M182 55h1M184 55h2M189 55h1M193 55h1M195 55h2M202 55h2M205 55h4M35 56h4M76 56h1M81 56h1M86 56h1M121 56h1M126 56h1M130 56h1M132 56h2M139 56h1M152 56h4M163 56h5M169 56h1M188 56h1M197 56h1M137 57h2M155 57h1M161 57h1M217 57h1M8 58h1M13 58h1M16 58h2M43 58h1M45 58h1M50 58h2M57 58h1M63 58h1M69 58h1M74 58h2M77 58h1M80 58h1M82 58h1M186 58h1M188 58h1M197 58h1M106 59h1M108 59h1M113 59h1M116 59h1"/>
<path stroke="#604412" d="M98 0h1M189 0h1M0 1h2M30 1h1M91 1h2M120 1h2M151 1h1M180 1h2M211 1h1M1 2h1M19 2h1M21 2h1M31 2h1M34 2h1M55 2h2M62 2h1M64 2h1M74 2h1M90 2h1M119 2h1M122 2h1M131 2h1M150 2h2M178 2h1M180 2h1M183 2h1M186 2h1M191 2h1M197 2h1M200 2h1M210 2h1M215 2h1M217 2h1M220 2h1M228 2h1M8 3h1M15 3h1M18 3h1M27 3h1M29 3h1M38 3h1M43 3h1M45 3h1M51 3h1M55 3h1M73 3h1M76 3h1M80 3h1M86 3h1M99 3h1M101 3h1M103 3h1M106 3h1M108 3h1M110 3h1M117 3h1M119 3h1M126 3h1M133 3h1M135 3h1M137 3h1M140 3h1M142 3h1M144 3h1M148 3h1M159 3h1M164 3h1M166 3h1M169 3h1M171 3h1M176 3h1M188 3h1M191 3h1M193 3h1M195 3h1M197 3h1M199 3h1M202 3h1M207 3h1M209 3h1M217 3h1M219 3h1M224 3h1M227 3h1M229 3h1M239 3h1M32 4h1M62 4h1M90 4h1M120 4h1M122 4h1M151 4h1M181 4h2M212 4h1M4 5h1M60 5h1M65 5h1M124 5h1M155 5h1M184 5h1M214 5h1M4 6h1M33 6h1M35 6h1M63 6h1M93 6h1M124 6h2M153 6h1M155 6h1M214 6h3M6 7h1M10 7h2M13 7h1M16 7h3M25 7h2M28 7h1M39 7h1M46 7h1M49 7h2M59 7h1M67 7h1M70 7h2M77 7h1M81 7h2M87 7h1M96 7h1M98 7h1M100 7h1M104 7h3M111 7h1M116 7h3M127 7h1M129 7h2M132 7h1M134 7h1M136 7h1M138 7h1M143 7h1M158 7h1M160 7h1M163 7h1M165 7h1M168 7h1M170 7h1M172 7h1M187 7h3M194 7h1M196 7h1M198 7h1M201 7h1M203 7h3M208 7h1M216 7h1M218 7h1M220 7h1M225 7h1M228 7h1M230 7h1M233 7h1M238 7h1M3 13h1M33 13h1M42 13h2M45 13h3M51 13h1M53 13h3M62 13h1M65 13h3M75 13h1M93 13h2M113 13h6M150 13h1M153 13h2M158 13h1M161 13h1M188 13h1M213 13h2M219 13h4M16 14h1M22 14h1M24 14h1M26 14h1M32 14h1M37 14h2M41 14h2M48 14h1M52 14h1M54 14h1M65 14h4M70 14h4M96 14h1M107 14h1M110 14h1M118 14h2M127 14h9M137 14h2M153 14h5M161 14h1M166 14h2M179 14h1M187 14h2M204 14h1M215 14h1M231 14h1M233 14h1M236 14h1M30 15h1M36 15h1M50 15h7M66 15h1M106 15h2M109 15h1M119 15h1M126 15h1M168 15h1M187 15h3M191 15h3M202 15h2M210 15h1M219 15h2M223 15h2M226 15h1M232 15h2M0 16h1M7 16h2M24 16h2M28 16h3M32 16h1M38 16h1M46 16h1M58 16h2M64 16h2M71 16h1M86 16h1M88 16h1M94 16h1M107 16h1M120 16h1M124 16h1M127 16h1M129 16h1M132 16h1M144 16h2M147 16h1M149 16h1M154 16h1M171 16h2M174 16h1M179 16h2M190 16h2M194 16h1M199 16h3M208 16h3M229 16h2M33 17h1M36 17h3M42 17h1M45 17h1M60 17h1M70 17h1M90 17h1M93 17h3M99 17h1M130 17h7M153 17h1M180 17h1M184 17h1M189 17h1M216 17h1M17 21h2M27 21h1M29 21h1M34 21h5M60 21h1M63 21h2M74 21h2M86 21h1M88 21h2M98 21h2M103 21h1M116 21h3M122 21h1M128 21h3M132 21h1M138 21h1M141 21h1M145 21h3M150 21h2M155 21h1M157 21h1M159 21h1M161 21h3M165 21h1M167 21h2M180 21h1M182 21h5M197 21h1M199 21h1M223 21h2M238 21h1M0 22h1M3 22h1M30 22h1M32 22h3M42 22h1M52 22h2M68 22h6M75 22h6M82 22h1M90 22h2M120 22h2M153 22h2M160 22h1M169 22h2M173 22h2M179 22h1M184 22h3M188 22h4M196 22h1M210 22h1M213 22h1M217 22h5M224 22h2M0 23h1M9 23h1M17 23h1M19 23h1M21 23h1M27 23h1M29 23h1M43 23h1M45 23h1M47 23h1M55 23h1M61 23h1M68 23h1M70 23h1M72 23h1M74 23h1M80 23h1M82 23h1M84 23h1M86 23h1M88 23h1M101 23h1M105 23h1M107 23h1M111 23h1M113 23h1M117 23h1M119 23h1M121 23h1M126 23h1M136 23h1M138 23h1M140 23h1M148 23h1M157 23h1M159 23h1M163 23h1M167 23h1M173 23h1M179 23h1M191 23h1M195 23h1M197 23h1M199 23h1M207 23h1M211 23h1M218 23h1M228 23h1M230 23h1M232 23h1M236 23h1M238 23h1M17 24h1M21 24h1M32 24h1M68 24h1M90 24h1M92 24h1M146 24h1M188 24h1M190 24h1M194 24h1M217 24h1M231 24h1M42 40h1M47 40h1M54 40h2M68 40h1M73 40h1M120 40h1M122 40h1M129 40h1M132 40h1M137 40h1M141 40h3M145 40h2M183 40h1M191 40h1M195 40h1M199 40h1M202 40h1M204 40h1M223 40h2M227 40h1M229 40h1M233 40h1M237 40h1M131 42h1M140 42h1M146 42h1M148 42h2M153 42h1M161 42h5M168 42h2M171 42h1M174 42h1M179 42h1M215 42h1M219 42h1M225 42h1M228 42h1M231 42h1M237 42h1M95 43h1M104 43h2M107 43h2M113 43h1M115 43h1M155 43h1M160 43h3M164 43h2M167 43h2M171 43h1M174 43h1M176 43h1M179 43h1M183 43h1M193 43h1M210 43h1M220 43h1M229 43h2M232 43h1M237 43h1M239 43h1M153 44h1M159 44h1M165 44h3M171 44h1M173 44h2M7 45h1M21 46h1M56 46h1M59 46h1M70 46h1M137 46h1M154 48h2M210 48h1M216 48h2M219 48h1M221 48h1M226 48h1M228 48h1M153 49h1M155 49h1M210 49h2M214 49h1M218 49h6M226 49h1M231 49h2M235 49h1M155 50h1M164 50h1M169 50h3M78 54h1M83 54h1M103 54h1M124 54h1M129 54h1M135 54h1M145 54h2M148 54h1M162 54h1M170 54h1M172 54h1M187 54h2M198 54h1M202 54h1M206 54h2M209 54h1M213 54h1M215 54h1M61 55h1M86 55h1M89 55h1M123 55h2M127 55h1M141 55h1M144 55h1M146 55h1M183 55h1M186 55h3M191 55h2M194 55h1M197 55h1M200 55h2M204 55h1M209 55h1M214 55h1M34 56h1M68 56h1M71 56h1M75 56h1M80 56h1M84 56h1M123 56h1M125 56h1M138 56h1M140 56h1M160 56h3M217 56h1"/>
<path stroke="#785417" d="M31 1h1M150 1h1M91 2h1M181 2h2M12 3h1M21 3h1M36 3h1M41 3h1M48 3h1M57 3h1M66 3h1M71 3h1M78 3h1M83 3h1M89 3h1M97 3h1M112 3h1M115 3h1M128 3h1M131 3h1M146 3h1M154 3h1M157 3h1M162 3h1M173 3h1M178 3h1M185 3h1M205 3h1M215 3h1M222 3h1M231 3h1M234 3h1M18 4h1M27 4h1M38 4h1M43 4h1M45 4h1M53 4h1M55 4h1M57 4h1M71 4h1M73 4h1M78 4h1M110 4h1M112 4h1M128 4h1M131 4h1M135 4h1M137 4h1M142 4h1M144 4h1M150 4h1M162 4h1M173 4h1M176 4h1M193 4h1M210 4h1M222 4h1M224 4h1M229 4h1M239 4h1M2 5h1M33 5h1M61 5h3M92 5h2M122 5h1M153 5h1M182 5h1M212 5h1M0 6h1M32 6h1M92 6h1M184 6h1M210 6h1M212 6h1M5 7h1M35 7h1M65 7h1M95 7h1M125 7h1M155 7h1M184 7h1M186 7h1M214 7h1M11 8h1M13 8h1M22 8h2M26 8h1M39 8h1M44 8h1M46 8h1M48 8h3M52 8h1M54 8h1M56 8h1M58 8h1M76 8h1M79 8h1M81 8h1M88 8h1M105 8h1M112 8h1M116 8h2M130 8h1M134 8h1M138 8h1M141 8h1M149 8h1M158 8h1M164 8h1M167 8h1M177 8h1M179 8h1M196 8h1M198 8h1M203 8h2M208 8h1M220 8h1M223 8h1M225 8h1M232 8h2M60 10h1M120 10h1M150 10h1M210 10h1M12 12h1M22 12h1M26 12h1M28 12h1M44 12h1M46 12h1M48 12h1M54 12h1M56 12h1M58 12h1M79 12h1M81 12h1M85 12h1M87 12h1M89 12h1M100 12h1M104 12h1M108 12h1M110 12h1M112 12h1M114 12h1M129 12h1M137 12h1M145 12h1M149 12h1M162 12h1M170 12h1M176 12h1M192 12h1M196 12h1M204 12h1M208 12h1M219 12h1M223 12h1M225 12h1M227 12h1M235 12h1M31 13h2M64 13h1M92 13h1M99 13h1M104 13h4M109 13h1M122 13h1M151 13h2M156 13h2M159 13h2M211 13h2M3 14h1M7 14h7M18 14h4M23 14h1M25 14h1M27 14h1M30 14h1M36 14h1M39 14h2M43 14h1M45 14h3M49 14h3M64 14h1M93 14h3M97 14h5M106 14h1M108 14h2M111 14h5M125 14h2M150 14h1M162 14h4M168 14h11M185 14h2M190 14h2M193 14h1M195 14h2M199 14h1M209 14h2M218 14h1M2 15h1M28 15h1M35 15h1M40 15h1M68 15h1M71 15h2M102 15h2M108 15h1M125 15h1M144 15h4M156 15h1M158 15h1M169 15h4M190 15h1M204 15h1M215 15h1M222 15h1M225 15h1M3 16h2M6 16h1M9 16h4M15 16h1M18 16h5M26 16h2M39 16h2M55 16h3M62 16h2M68 16h3M76 16h3M85 16h1M87 16h1M90 16h1M93 16h1M109 16h2M113 16h1M117 16h1M123 16h1M125 16h2M142 16h2M146 16h1M155 16h2M160 16h1M162 16h1M164 16h1M189 16h1M192 16h2M197 16h2M213 16h1M227 16h2M231 16h1M234 16h1M236 16h1M238 16h1M0 17h1M4 17h7M35 17h1M39 17h3M44 17h1M46 17h1M61 17h1M72 17h6M91 17h2M122 17h1M152 17h1M181 17h1M183 17h1M185 17h1M187 17h2M195 17h1M210 17h1M3 21h6M19 21h8M28 21h1M30 21h1M32 21h2M58 21h2M61 21h2M65 21h3M84 21h2M87 21h1M90 21h1M93 21h2M104 21h2M131 21h1M137 21h1M139 21h2M142 21h2M148 21h2M153 21h2M156 21h1M158 21h1M160 21h1M169 21h1M198 21h1M200 21h1M214 21h1M237 21h1M239 21h1M1 22h2M23 22h1M31 22h1M41 22h1M62 22h1M89 22h1M124 22h3M152 22h1M161 22h1M168 22h1M171 22h2M183 22h1M197 22h1M212 22h1M215 22h2M7 23h1M11 23h1M13 23h1M15 23h1M23 23h1M25 23h1M30 23h1M35 23h1M37 23h1M39 23h1M41 23h1M49 23h1M51 23h1M53 23h1M57 23h1M59 23h1M66 23h1M76 23h1M78 23h1M90 23h1M95 23h1M97 23h1M99 23h1M103 23h1M109 23h1M115 23h1M128 23h1M130 23h1M132 23h1M134 23h1M142 23h1M144 23h1M146 23h1M153 23h1M155 23h1M161 23h1M165 23h1M169 23h1M171 23h1M175 23h1M177 23h1M185 23h1M187 23h1M189 23h1M193 23h1M201 23h1M203 23h1M205 23h1M209 23h1M214 23h1M216 23h1M220 23h1M222 23h1M224 23h1M226 23h1M234 23h1M44 40h1M46 40h1M56 40h1M64 40h2M74 40h1M77 40h1M79 40h1M83 40h1M89 40h1M121 40h1M125 40h1M127 40h1M133 40h1M136 40h1M148 40h1M181 40h2M184 40h7M192 40h3M196 40h3M200 40h2M203 40h1M205 40h5M121 42h1M126 42h1M129 42h1M133 42h1M142 42h1M152 42h1M155 42h2M158 42h2M178 42h1M210 42h1M212 42h1M216 42h1M224 42h1M227 42h1M232 42h4M239 42h1M91 43h1M96 43h1M111 43h1M150 43h2M154 43h1M159 43h1M166 43h1M172 43h2M188 43h2M208 43h1M236 43h1M8 45h1M14 45h1M17 45h1M23 46h1M41 46h2M44 46h1M52 46h1M126 46h1M134 46h1M141 46h1M148 46h2M213 47h4M150 48h2M211 48h1M213 48h2M151 49h2M64 54h1M72 54h1M76 54h1M88 54h1M125 54h1M130 54h1M132 54h1M137 54h1M140 54h1M142 54h2M154 54h1M158 54h1M160 54h1M166 54h1M175 54h2M217 54h3M221 54h1M62 55h2M74 55h1M217 55h1M220 55h1M2 56h1M6 56h2M62 56h1M69 56h1M72 56h2M87 56h3M124 56h1M131 56h1M219 56h1"/>
<path stroke="#91651c" d="M152 2h1M3 3h1M5 3h1M34 3h1M64 3h1M94 3h1M123 3h1M183 3h1M213 3h1M8 4h1M10 4h1M12 4h1M15 4h1M21 4h1M24 4h1M36 4h1M41 4h1M48 4h1M51 4h1M68 4h1M76 4h1M80 4h1M83 4h1M86 4h1M89 4h1M99 4h1M101 4h1M103 4h1M106 4h1M115 4h1M126 4h1M140 4h1M146 4h1M148 4h1M164 4h1M166 4h1M169 4h1M171 4h1M178 4h1M188 4h1M191 4h1M199 4h1M202 4h1M205 4h1M207 4h1M209 4h1M217 4h1M219 4h1M227 4h1M231 4h1M234 4h1M236 4h1M0 5h1M30 5h1M32 5h1M48 5h1M90 5h1M120 5h2M150 5h1M152 5h1M180 5h1M210 5h1M2 6h1M30 6h1M90 6h1M120 6h1M122 6h1M150 6h2M182 6h1M4 7h1M34 7h1M124 7h1M153 7h1M6 8h2M9 8h1M14 8h1M16 8h2M19 8h2M25 8h1M27 8h2M40 8h1M42 8h1M45 8h1M47 8h1M59 8h1M67 8h1M69 8h2M72 8h1M74 8h2M77 8h2M80 8h1M82 8h6M89 8h1M95 8h1M98 8h1M100 8h1M102 8h3M107 8h3M111 8h1M113 8h3M118 8h2M127 8h1M129 8h1M132 8h1M136 8h1M139 8h1M143 8h1M145 8h1M147 8h2M160 8h4M165 8h1M168 8h1M170 8h6M186 8h2M189 8h2M192 8h1M194 8h1M200 8h2M206 8h1M218 8h1M221 8h1M226 8h1M228 8h1M230 8h1M235 8h1M237 8h2M90 10h1M180 10h1M9 11h1M11 11h1M13 11h1M15 11h1M21 11h1M23 11h1M25 11h1M27 11h1M47 11h1M49 11h1M53 11h1M55 11h1M59 11h1M70 11h1M72 11h1M74 11h1M76 11h1M78 11h1M99 11h1M103 11h1M105 11h1M109 11h1M111 11h1M117 11h1M119 11h1M130 11h1M134 11h1M138 11h1M142 11h1M146 11h1M161 11h1M163 11h1M169 11h1M173 11h1M175 11h1M187 11h1M193 11h1M195 11h1M199 11h1M201 11h1M203 11h1M205 11h1M207 11h1M218 11h1M222 11h1M224 11h1M226 11h1M228 11h1M230 11h1M236 11h1M238 11h1M8 12h1M10 12h1M14 12h1M16 12h3M20 12h1M24 12h1M36 12h1M38 12h1M40 12h1M42 12h1M47 12h1M50 12h3M65 12h1M67 12h1M69 12h3M73 12h1M75 12h1M77 12h1M80 12h1M83 12h2M98 12h1M101 12h2M106 12h1M116 12h3M127 12h1M131 12h3M135 12h1M139 12h1M141 12h1M143 12h1M147 12h1M158 12h1M160 12h1M163 12h2M166 12h1M168 12h2M172 12h3M178 12h1M186 12h1M188 12h1M190 12h1M194 12h1M198 12h1M200 12h3M205 12h3M221 12h1M229 12h3M233 12h1M237 12h1M239 12h1M0 13h3M30 13h1M63 13h1M90 13h2M120 13h1M123 13h2M180 13h1M2 14h1M6 14h1M44 14h1M59 14h1M63 14h1M123 14h1M184 14h1M192 14h1M194 14h1M197 14h2M200 14h1M207 14h2M212 14h1M217 14h1M219 14h1M3 15h1M6 15h3M29 15h1M31 15h1M34 15h1M67 15h1M69 15h2M77 15h1M79 15h1M104 15h2M120 15h1M123 15h2M132 15h1M141 15h2M153 15h3M157 15h1M180 15h1M200 15h1M205 15h2M209 15h1M211 15h1M214 15h1M228 15h1M230 15h2M2 16h1M13 16h1M16 16h2M23 16h1M31 16h1M92 16h1M111 16h2M114 16h3M118 16h2M121 16h1M148 16h1M152 16h2M159 16h1M161 16h1M163 16h1M211 16h2M215 16h3M235 16h1M237 16h1M239 16h1M3 17h1M31 17h2M123 17h6M182 17h1M186 17h1M9 20h1M13 20h1M43 20h1M47 20h1M49 20h1M53 20h1M59 20h1M68 20h1M76 20h1M78 20h1M80 20h1M84 20h1M88 20h1M105 20h1M117 20h1M119 20h1M128 20h1M130 20h1M134 20h1M140 20h1M144 20h1M148 20h1M167 20h1M173 20h1M177 20h1M179 20h1M191 20h1M193 20h1M203 20h1M209 20h1M226 20h1M228 20h1M230 20h1M234 20h1M238 20h1M1 21h2M121 21h1M152 21h1M181 21h1M211 21h1M236 21h1M61 22h1M123 22h1M182 22h1M3 23h1M5 23h1M8 23h1M10 23h1M12 23h1M14 23h1M18 23h1M33 23h1M58 23h1M64 23h1M67 23h1M73 23h1M77 23h1M81 23h1M85 23h1M87 23h1M93 23h1M102 23h1M124 23h1M131 23h1M137 23h1M145 23h1M147 23h1M162 23h1M166 23h1M168 23h1M172 23h1M174 23h1M178 23h1M183 23h1M192 23h1M194 23h1M196 23h1M198 23h1M202 23h1M206 23h1M223 23h1M227 23h1M231 23h1M237 23h1M239 23h1M63 40h1M123 40h1M218 42h1M220 42h3M229 42h1M238 42h1M92 43h2M4 45h1M40 46h1M80 46h2M147 46h1M35 53h3M4 54h5M18 54h1M114 54h1M220 54h1M216 55h1M218 55h1M221 55h1M236 55h4M1 56h1M5 56h1M66 56h1M213 56h4M221 56h1M68 57h1M103 59h1"/>
<path stroke="#a97620" d="M211 2h1M5 4h1M66 4h1M94 4h1M97 4h1M12 5h1M15 5h1M21 5h1M27 5h1M38 5h1M41 5h1M45 5h1M51 5h1M73 5h1M80 5h1M86 5h1M89 5h1M101 5h1M103 5h1M106 5h1M110 5h1M112 5h1M115 5h1M128 5h1M133 5h1M135 5h1M137 5h1M140 5h1M148 5h1M151 5h1M157 5h1M162 5h1M164 5h1M169 5h1M173 5h1M178 5h1M188 5h1M193 5h1M197 5h1M202 5h1M205 5h1M207 5h1M217 5h1M227 5h1M236 5h1M10 6h1M18 6h1M38 6h1M41 6h1M60 6h2M66 6h1M76 6h1M86 6h1M97 6h1M103 6h1M110 6h1M117 6h1M119 6h1M121 6h1M128 6h1M131 6h1M133 6h1M144 6h1M148 6h1M164 6h1M171 6h1M176 6h1M178 6h1M180 6h1M191 6h1M199 6h1M217 6h1M222 6h1M227 6h1M229 6h1M239 6h1M60 7h1M63 7h1M90 7h1M4 8h1M12 8h1M15 8h1M18 8h1M24 8h1M29 8h1M37 8h2M41 8h1M43 8h1M51 8h1M53 8h1M57 8h1M65 8h1M96 8h1M99 8h1M101 8h1M106 8h1M110 8h1M125 8h1M131 8h1M133 8h1M135 8h1M137 8h1M140 8h1M144 8h1M146 8h1M155 8h3M159 8h1M166 8h1M169 8h1M176 8h1M178 8h1M191 8h1M195 8h1M197 8h1M199 8h1M202 8h1M207 8h1M209 8h1M214 8h1M216 8h1M219 8h1M222 8h1M229 8h1M231 8h1M234 8h1M236 8h1M239 8h1M7 11h2M14 11h1M16 11h2M19 11h1M29 11h1M37 11h1M39 11h1M41 11h1M43 11h1M45 11h2M51 11h2M56 11h2M66 11h1M68 11h2M73 11h1M77 11h1M79 11h2M82 11h1M84 11h1M86 11h1M88 11h1M97 11h1M101 11h1M106 11h2M112 11h2M115 11h1M126 11h1M128 11h1M132 11h1M135 11h3M140 11h2M144 11h2M148 11h2M157 11h1M159 11h1M165 11h1M167 11h2M170 11h2M177 11h1M179 11h1M189 11h3M194 11h1M196 11h2M209 11h1M220 11h1M225 11h1M227 11h1M231 11h2M234 11h1M6 12h1M15 12h1M19 12h1M21 12h1M23 12h1M27 12h1M29 12h1M41 12h1M45 12h1M49 12h1M53 12h1M55 12h1M57 12h1M59 12h1M78 12h1M86 12h1M90 12h1M96 12h1M105 12h1M107 12h1M109 12h1M111 12h1M113 12h1M115 12h1M119 12h1M125 12h1M128 12h1M130 12h1M138 12h1M140 12h1M144 12h1M146 12h1M148 12h1M154 12h1M156 12h2M159 12h1M165 12h1M171 12h1M175 12h1M177 12h1M179 12h1M191 12h1M193 12h1M195 12h1M197 12h1M199 12h1M203 12h1M209 12h1M215 12h1M217 12h2M228 12h1M234 12h1M236 12h1M238 12h1M121 13h1M31 14h1M35 14h1M62 14h1M92 14h1M120 14h1M122 14h1M124 14h1M152 14h1M182 14h2M211 14h1M1 15h1M4 15h2M9 15h1M25 15h1M27 15h1M32 15h2M49 15h1M75 15h2M78 15h1M80 15h4M85 15h1M87 15h2M110 15h4M117 15h2M128 15h2M133 15h1M143 15h1M152 15h1M173 15h1M184 15h1M186 15h1M194 15h3M207 15h2M227 15h1M229 15h1M234 15h2M237 15h2M1 16h1M60 16h1M91 16h1M122 16h1M150 16h1M214 16h1M1 17h1M30 17h1M121 17h1M150 17h2M213 17h1M7 20h1M11 20h1M15 20h1M17 20h1M19 20h1M21 20h1M23 20h1M25 20h1M27 20h1M29 20h1M37 20h1M39 20h1M41 20h1M45 20h1M51 20h1M55 20h1M57 20h1M72 20h1M74 20h1M82 20h1M86 20h1M97 20h1M99 20h1M103 20h1M107 20h1M109 20h1M111 20h1M113 20h1M115 20h1M132 20h1M136 20h1M138 20h1M142 20h1M146 20h1M161 20h1M163 20h1M165 20h1M169 20h1M171 20h1M175 20h1M187 20h1M189 20h1M195 20h1M197 20h1M199 20h1M201 20h1M205 20h1M207 20h1M218 20h1M222 20h1M232 20h1M236 20h1M31 21h1M92 21h1M120 21h1M210 21h1M213 21h1M122 22h1M151 22h1M180 22h2M211 22h1M16 23h1M20 23h1M22 23h1M24 23h1M26 23h1M28 23h1M34 23h1M36 23h1M38 23h1M40 23h1M42 23h1M44 23h1M46 23h1M48 23h1M50 23h1M52 23h1M54 23h1M56 23h1M65 23h1M69 23h1M71 23h1M75 23h1M79 23h1M83 23h1M89 23h1M94 23h1M96 23h1M98 23h1M100 23h1M104 23h1M106 23h1M108 23h1M110 23h1M112 23h1M114 23h1M116 23h1M118 23h1M122 23h2M125 23h1M127 23h1M129 23h1M133 23h1M135 23h1M139 23h1M141 23h1M143 23h1M149 23h1M158 23h1M160 23h1M164 23h1M170 23h1M176 23h1M186 23h1M188 23h1M190 23h1M200 23h1M204 23h1M208 23h1M212 23h1M219 23h1M221 23h1M225 23h1M229 23h1M233 23h1M235 23h1M35 40h1M37 40h4M67 40h1M71 40h1M86 40h1M126 40h1M128 40h1M138 40h1M140 40h1M123 42h1M134 42h1M139 42h1M144 42h1M154 42h1M176 42h1M94 43h1M99 43h1M110 43h1M116 43h1M118 43h1M156 43h1M177 43h2M190 43h1M204 43h1M215 43h1M217 43h1M222 43h2M227 43h2M238 43h1M2 45h2M5 45h2M10 45h3M16 45h1M10 46h1M19 46h1M25 46h2M46 46h1M51 46h1M54 46h1M125 46h1M131 46h1M133 46h1M135 46h1M90 48h2M215 48h1M61 54h1M63 54h1M71 54h1M73 54h1M79 54h3M85 54h1M87 54h1M155 54h1M165 54h1M169 54h1M173 54h1M177 54h1M69 55h1M71 55h1M73 55h1M75 55h1M77 55h2M85 55h1M88 55h1M213 55h1M215 55h1M222 55h1M63 56h1M67 56h1M120 56h1M128 56h1M134 56h1M136 56h1"/>
<path stroke="#c18725" d="M62 3h1M91 3h1M121 3h1M152 3h1M34 4h1M64 4h1M123 4h1M185 4h1M213 4h1M215 4h1M24 5h1M36 5h1M43 5h1M53 5h1M66 5h1M68 5h1M76 5h1M83 5h1M99 5h1M108 5h1M117 5h1M119 5h1M131 5h1M142 5h1M159 5h1M166 5h1M171 5h1M176 5h1M191 5h1M195 5h1M199 5h1M215 5h1M222 5h1M224 5h1M229 5h1M231 5h1M234 5h1M239 5h1M12 6h1M21 6h1M24 6h1M27 6h1M29 6h1M43 6h1M48 6h1M53 6h1M57 6h1M68 6h1M71 6h1M78 6h1M83 6h1M101 6h1M108 6h1M115 6h1M137 6h1M140 6h1M142 6h1M162 6h1M166 6h1M169 6h1M173 6h1M195 6h1M197 6h1M202 6h1M205 6h1M209 6h1M219 6h1M224 6h1M231 6h1M234 6h1M236 6h1M2 7h1M30 7h1M32 7h2M51 7h1M68 7h1M78 7h1M89 7h1M93 7h1M99 7h1M120 7h1M133 7h1M137 7h1M142 7h1M144 7h1M164 7h1M171 7h1M180 7h1M182 7h1M199 7h1M210 7h1M212 7h1M227 7h1M231 7h1M239 7h1M8 8h1M10 8h1M21 8h1M35 8h2M55 8h1M63 8h1M68 8h1M71 8h1M73 8h1M97 8h1M120 8h1M128 8h1M142 8h1M153 8h1M180 8h1M184 8h2M188 8h1M193 8h1M205 8h1M217 8h1M224 8h1M227 8h1M20 11h1M22 11h1M24 11h1M26 11h1M28 11h1M35 11h1M42 11h1M44 11h1M50 11h1M58 11h1M60 11h1M71 11h1M81 11h1M83 11h1M85 11h1M87 11h1M95 11h1M100 11h1M102 11h1M104 11h1M114 11h1M116 11h1M118 11h1M131 11h1M133 11h1M143 11h1M147 11h1M155 11h1M164 11h1M166 11h1M174 11h1M178 11h1M185 11h2M188 11h1M192 11h1M198 11h1M200 11h1M202 11h1M204 11h1M206 11h1M208 11h1M210 11h1M216 11h2M219 11h1M221 11h1M223 11h1M229 11h1M235 11h1M237 11h1M4 12h1M7 12h1M9 12h1M11 12h1M13 12h1M25 12h1M34 12h2M37 12h1M39 12h1M43 12h1M66 12h1M68 12h1M72 12h1M74 12h1M76 12h1M82 12h1M88 12h1M94 12h2M97 12h1M99 12h1M103 12h1M126 12h1M134 12h1M136 12h1M142 12h1M150 12h1M155 12h1M161 12h1M167 12h1M180 12h1M184 12h1M187 12h1M189 12h1M216 12h1M220 12h1M222 12h1M224 12h1M226 12h1M232 12h1M0 14h1M34 14h1M60 14h1M121 14h1M151 14h1M180 14h1M26 15h1M74 15h1M84 15h1M86 15h1M94 15h1M97 15h1M114 15h3M121 15h2M127 15h1M130 15h2M150 15h1M185 15h1M199 15h1M213 15h1M236 15h1M239 15h1M61 16h1M151 16h1M2 17h1M211 17h1M50 20h1M60 20h1M70 20h1M73 20h1M101 20h1M112 20h1M126 20h1M139 20h1M157 20h1M159 20h1M172 20h1M204 20h1M208 20h1M216 20h1M220 20h1M224 20h1M235 20h1M0 21h1M91 21h1M212 21h1M4 23h1M6 23h1M62 23h1M154 23h1M156 23h1M184 23h1M213 23h1M215 23h1M217 23h1M80 40h2M124 40h1M152 40h2M166 42h2M175 42h1M211 42h1M226 42h1M230 42h1M236 42h1M102 43h1M153 43h1M157 43h2M163 43h1M170 43h1M9 45h1M15 45h1M18 45h1M11 46h2M69 46h1M72 46h1M145 46h1M92 48h1M152 48h1M212 48h1M227 48h1M100 50h1M74 53h2M111 53h1M60 54h1M62 54h1M191 54h1M222 54h1M238 54h1M7 57h1M97 57h1M141 57h1"/>
<path stroke="#d99829" d="M1 3h1M3 4h1M8 5h1M64 5h1M97 5h1M126 5h1M154 5h1M8 6h1M36 6h1M99 6h1M157 6h1M159 6h1M185 6h1M0 7h1M8 7h1M15 7h1M21 7h1M24 7h1M38 7h1M41 7h1M43 7h1M48 7h1M53 7h1M73 7h1M86 7h1M92 7h1M97 7h1M101 7h1M103 7h1M108 7h1M110 7h1M112 7h1M115 7h1M122 7h1M131 7h1M135 7h1M140 7h1M146 7h1M148 7h1M150 7h1M159 7h1M166 7h1M176 7h1M178 7h1M191 7h1M193 7h1M195 7h1M207 7h1M209 7h1M217 7h1M229 7h1M236 7h1M64 8h1M66 8h1M93 8h2M124 8h1M126 8h1M0 11h1M5 11h2M10 11h1M12 11h1M18 11h1M36 11h1M38 11h1M40 11h1M48 11h1M54 11h1M64 11h1M67 11h1M75 11h1M89 11h1M93 11h1M96 11h1M98 11h1M108 11h1M110 11h1M120 11h1M124 11h1M127 11h1M129 11h1M139 11h1M158 11h1M160 11h1M162 11h1M172 11h1M176 11h1M180 11h1M183 11h1M214 11h1M233 11h1M239 11h1M63 12h2M93 12h1M120 12h1M123 12h2M185 12h1M213 12h1M1 14h1M61 14h1M90 14h2M181 14h1M0 15h1M60 15h1M90 15h1M93 15h1M95 15h2M183 15h1M212 17h1M10 20h1M12 20h1M14 20h1M20 20h1M26 20h1M38 20h1M40 20h1M54 20h1M56 20h1M66 20h1M69 20h1M71 20h1M75 20h1M83 20h1M85 20h1M89 20h1M95 20h1M98 20h1M100 20h1M104 20h1M106 20h1M114 20h1M127 20h1M129 20h1M135 20h1M137 20h1M145 20h1M147 20h1M149 20h1M155 20h1M162 20h1M168 20h1M170 20h1M176 20h1M192 20h1M198 20h1M200 20h1M202 20h1M206 20h1M219 20h1M221 20h1M223 20h1M227 20h1M229 20h1M239 20h1M63 23h1M182 23h1M31 40h1M34 40h1M45 40h1M70 40h1M147 40h1M154 40h1M211 40h2M220 40h1M122 42h1M127 42h2M130 42h1M136 42h1M141 42h1M114 43h1M117 43h1M184 43h1M196 43h1M199 43h1M202 43h1M205 43h1M34 46h2M45 46h1M97 46h1M102 46h2M105 46h1M108 46h2M127 46h1M136 46h1M70 49h1M135 49h2M138 49h1M212 49h1M13 50h1M47 55h2M120 55h2M198 55h2M30 56h1M32 56h2M93 56h1M97 56h1M156 56h2"/>
<path stroke="#f1a92e" d="M1 4h1M31 4h1M152 4h1M5 5h1M34 5h1M94 5h1M5 6h1M94 6h1M12 7h1M27 7h1M29 7h1M45 7h1M55 7h1M57 7h1M61 7h1M119 7h1M151 7h1M157 7h1M162 7h1M169 7h1M173 7h1M197 7h1M202 7h1M219 7h1M222 7h1M2 8h2M5 8h1M32 8h3M90 8h1M92 8h1M123 8h1M150 8h1M154 8h1M210 8h1M212 8h1M215 8h1M3 11h1M30 11h1M153 11h1M156 11h1M215 11h1M2 12h2M5 12h1M92 12h1M152 12h1M182 12h1M214 12h1M5 20h1M8 20h1M16 20h1M18 20h1M22 20h1M24 20h1M28 20h1M35 20h1M42 20h1M44 20h1M46 20h1M48 20h1M52 20h1M58 20h1M67 20h1M77 20h1M79 20h1M81 20h1M87 20h1M108 20h1M110 20h1M116 20h1M118 20h1M120 20h1M131 20h1M133 20h1M141 20h1M143 20h1M158 20h1M160 20h1M164 20h1M166 20h1M174 20h1M178 20h1M185 20h1M188 20h1M190 20h1M194 20h1M196 20h1M217 20h1M225 20h1M231 20h1M233 20h1M237 20h1M2 23h1M32 23h1M92 23h1M62 40h1M66 40h1M213 42h2M217 42h1M223 42h1M160 44h1M144 46h1M146 46h1M153 48h1M173 50h1M152 53h1M214 54h1M216 54h1M3 56h1M8 56h1M31 56h1M64 56h1M91 56h2M158 56h2"/>
<path stroke="#f2b243" d="M91 4h1M121 4h1M211 4h1M3 5h1M123 5h1M183 5h1M34 6h1M64 6h1M154 6h1M183 6h1M36 7h1M0 8h1M30 8h1M60 8h1M62 8h1M122 8h1M182 8h1M213 8h1M31 11h1M33 11h2M65 11h1M94 11h1M125 11h1M150 11h1M154 11h1M181 11h1M184 11h1M212 11h1M30 12h1M32 12h2M61 12h2M91 12h1M121 12h1M153 12h1M212 15h1M6 20h1M36 20h1M64 20h1M102 20h1M124 20h1M180 20h1M214 20h1M152 23h1M157 42h1M160 42h1M219 55h1M65 56h1M218 56h1M220 56h1"/>
<path stroke="#f4ba58" d="M31 5h1M213 5h1M3 6h1M123 6h1M213 6h1M64 7h1M66 7h1M126 7h1M215 7h1M1 8h1M61 8h1M121 8h1M151 8h1M181 8h1M183 8h1M1 11h1M4 11h1M62 11h2M122 11h2M151 11h1M211 11h1M213 11h1M0 12h1M122 12h1M181 12h1M183 12h1M210 12h3M151 15h1M181 15h2M3 20h2M65 20h1M91 20h1M96 20h1M125 20h1M150 20h1M183 20h1M186 20h1M210 20h1M215 20h1M60 46h1M4 56h1"/>
<path stroke="#f5c36d" d="M1 5h1M91 5h1M181 5h1M211 5h1M1 6h1M31 6h1M62 6h1M91 6h1M152 6h1M3 7h1M94 7h1M154 7h1M185 7h1M152 8h1M211 8h1M2 11h1M61 11h1M91 11h2M121 11h1M152 11h1M182 11h1M60 12h1M151 12h1M33 20h2M62 20h1M90 20h1M93 20h1M151 20h1M154 20h1M156 20h1M184 20h1M212 20h1"/>
<path stroke="#f7cb82" d="M181 6h1M211 6h1M183 7h1M213 7h1M31 8h1M91 8h1M32 11h1M90 11h1M1 12h1M31 12h1M1 20h1M94 20h1M122 20h1M153 20h1M181 20h1"/>
<path stroke="#f8d496" d="M1 7h1M31 7h1M62 7h1M121 7h1M123 7h1M152 7h1M211 7h1M0 20h1M2 20h1M30 20h3M61 20h1M63 20h1M92 20h1M121 20h1M123 20h1M152 20h1M182 20h1M213 20h1"/>
<path stroke="#f9ddab" d="M91 7h1M181 7h1M211 20h1"/>
</g></g>
<path d="M1077.4 1138.3v361.2M1167.5 1138.3v361.2M1257.6 1138.3v361.2M1347.7 1138.3v361.2M1437.8 1138.3v361.2M1527.9 1138.3v361.2M1618 1138.3v361.2" stroke="#fff" stroke-width="1.8" stroke-dasharray="6.3 2.2" fill="none"/>
<path d="M987.3 1295.9h720.8" stroke="#62f4e9" stroke-width="4.2" stroke-dasharray="8 2.55" fill="none"/>
<rect x="987.3" y="1138.3" width="720.8" height="361.2" fill="none" stroke="#000" stroke-width="1.7"/>
<path d="M987.3 1141.3h-7M987.3 1201.5h-7M987.3 1261.7h-7M987.3 1321.9h-7M987.3 1382.1h-7M987.3 1442.3h-7M987.3 1499.5v3.5M1106.8 1499.5v3.5M1226.8 1499.5v3.5M1346.8 1499.5v3.5M1466.8 1499.5v3.5M1586.8 1499.5v3.5M1706.8 1499.5v3.5" stroke="#000" stroke-width="1.8"/>
<text x="1351.7" y="1126.7" font-size="32.4" text-anchor="middle">Group 4 (burst 8/9)</text>
<text x="132.6" y="726.6" font-size="33.5" text-anchor="end">0</text>
<text x="132.6" y="786.8" font-size="33.5" text-anchor="end">10</text>
<text x="132.6" y="847" font-size="33.5" text-anchor="end">20</text>
<text x="132.6" y="907.2" font-size="33.5" text-anchor="end">30</text>
<text x="132.6" y="967.4" font-size="33.5" text-anchor="end">40</text>
<text x="132.6" y="1027.6" font-size="33.5" text-anchor="end">50</text>
<text font-size="32.7" text-anchor="middle" transform="translate(69.3 888.9) rotate(-90)">Unit number</text>
<text x="120.8" y="1154.1" font-size="33.5" text-anchor="end">0</text>
<text x="120.8" y="1214.3" font-size="33.5" text-anchor="end">10</text>
<text x="120.8" y="1274.5" font-size="33.5" text-anchor="end">20</text>
<text x="120.8" y="1334.7" font-size="33.5" text-anchor="end">30</text>
<text x="120.8" y="1394.9" font-size="33.5" text-anchor="end">40</text>
<text x="120.8" y="1455.1" font-size="33.5" text-anchor="end">50</text>
<text font-size="32.7" text-anchor="middle" transform="translate(71.2 1297.2) rotate(-90)">Unit number</text>
<text x="1.5" y="735.6" font-size="61">C</text>
<text font-size="32.6" text-anchor="middle" fill="#2f4aa0" font-weight="bold" transform="translate(936 789.7) rotate(-90)">Backbone</text>
<text font-size="32.6" text-anchor="middle" fill="#e8913a" font-weight="bold" transform="translate(936 986) rotate(-90)">Non-Rigid</text>
<text font-size="32.6" text-anchor="middle" fill="#2f4aa0" font-weight="bold" transform="translate(936 1222.8) rotate(-90)">Backbone</text>
<text font-size="32.6" text-anchor="middle" fill="#e8913a" font-weight="bold" transform="translate(936 1417.2) rotate(-90)">Non-Rigid</text>
<rect x="146.5" y="1088.5" width="89.5" height="13" fill="#000"/>
<text x="247.3" y="1107" font-size="32.4">750ms</text>
<text x="3.9" y="1615" font-size="61">D</text>
<rect x="148.8" y="1575.4" width="50.8" height="10.5" fill="#a1711f" shape-rendering="crispEdges"/>
<rect x="148.8" y="1585.5" width="50.8" height="10.5" fill="#50380f" shape-rendering="crispEdges"/>
<rect x="148.8" y="1595.7" width="50.8" height="10.5" fill="#a1711f" shape-rendering="crispEdges"/>
<rect x="148.8" y="1605.8" width="50.8" height="10.5" fill="#996b1d" shape-rendering="crispEdges"/>
<rect x="148.8" y="1615.9" width="50.8" height="10.5" fill="#d99829" shape-rendering="crispEdges"/>
<rect x="148.8" y="1626" width="50.8" height="10.5" fill="#f4ba58" shape-rendering="crispEdges"/>
<rect x="148.8" y="1636.2" width="50.8" height="10.5" fill="#f3b44a" shape-rendering="crispEdges"/>
<rect x="148.8" y="1646.3" width="50.8" height="10.5" fill="#fbe8c7" shape-rendering="crispEdges"/>
<rect x="148.8" y="1656.4" width="50.8" height="10.5" fill="#f8d496" shape-rendering="crispEdges"/>
<rect x="148.8" y="1666.5" width="50.8" height="10.5" fill="#785417" shape-rendering="crispEdges"/>
<rect x="148.8" y="1676.7" width="50.8" height="10.5" fill="#684914" shape-rendering="crispEdges"/>
<rect x="148.8" y="1686.8" width="50.8" height="10.5" fill="#f7cb82" shape-rendering="crispEdges"/>
<rect x="148.8" y="1696.9" width="50.8" height="10.5" fill="#f6c674" shape-rendering="crispEdges"/>
<rect x="148.8" y="1707" width="50.8" height="10.5" fill="#815a19" shape-rendering="crispEdges"/>
<rect x="148.8" y="1717.2" width="50.8" height="10.5" fill="#b98223" shape-rendering="crispEdges"/>
<rect x="148.8" y="1727.3" width="50.8" height="10.5" fill="#e9a32c" shape-rendering="crispEdges"/>
<rect x="148.8" y="1737.4" width="50.8" height="10.5" fill="#a97620" shape-rendering="crispEdges"/>
<rect x="148.8" y="1747.5" width="50.8" height="10.5" fill="#b98223" shape-rendering="crispEdges"/>
<rect x="148.8" y="1757.7" width="50.8" height="10.5" fill="#402d0c" shape-rendering="crispEdges"/>
<rect x="148.8" y="1767.8" width="50.8" height="10.5" fill="#402d0c" shape-rendering="crispEdges"/>
<rect x="148.8" y="1777.9" width="50.8" height="10.5" fill="#ffffff" shape-rendering="crispEdges"/>
<rect x="148.8" y="1788" width="50.8" height="10.5" fill="#a1711f" shape-rendering="crispEdges"/>
<rect x="148.8" y="1798.2" width="50.8" height="10.5" fill="#704f15" shape-rendering="crispEdges"/>
<rect x="148.8" y="1808.3" width="50.8" height="10.5" fill="#f1a92e" shape-rendering="crispEdges"/>
<rect x="148.8" y="1818.4" width="50.8" height="10.5" fill="#604412" shape-rendering="crispEdges"/>
<rect x="148.8" y="1828.5" width="50.8" height="10.5" fill="#38270b" shape-rendering="crispEdges"/>
<rect x="148.8" y="1838.7" width="50.8" height="10.5" fill="#000000" shape-rendering="crispEdges"/>
<rect x="148.8" y="1848.8" width="50.8" height="10.5" fill="#000000" shape-rendering="crispEdges"/>
<rect x="148.8" y="1858.9" width="50.8" height="10.5" fill="#000000" shape-rendering="crispEdges"/>
<rect x="148.8" y="1869.1" width="50.8" height="10.5" fill="#000000" shape-rendering="crispEdges"/>
<rect x="148.8" y="1879.2" width="50.8" height="10.5" fill="#000000" shape-rendering="crispEdges"/>
<rect x="148.8" y="1889.3" width="50.8" height="10.5" fill="#000000" shape-rendering="crispEdges"/>
<rect x="148.8" y="1899.4" width="50.8" height="10.5" fill="#000000" shape-rendering="crispEdges"/>
<rect x="148.8" y="1909.6" width="50.8" height="10.5" fill="#000000" shape-rendering="crispEdges"/>
<rect x="148.8" y="1919.7" width="50.8" height="10.5" fill="#000000" shape-rendering="crispEdges"/>
<rect x="148.8" y="1929.8" width="50.8" height="10.5" fill="#000000" shape-rendering="crispEdges"/>
<rect x="148.8" y="1939.9" width="50.8" height="10.5" fill="#000000" shape-rendering="crispEdges"/>
<rect x="148.8" y="1950.1" width="50.8" height="10.5" fill="#000000" shape-rendering="crispEdges"/>
<rect x="148.8" y="1960.2" width="50.8" height="10.5" fill="#000000" shape-rendering="crispEdges"/>
<rect x="148.8" y="1970.3" width="50.8" height="10.5" fill="#000000" shape-rendering="crispEdges"/>
<rect x="148.8" y="1980.4" width="50.8" height="10.5" fill="#815a19" shape-rendering="crispEdges"/>
<rect x="148.8" y="1990.6" width="50.8" height="10.5" fill="#000000" shape-rendering="crispEdges"/>
<rect x="148.8" y="2000.7" width="50.8" height="10.5" fill="#201706" shape-rendering="crispEdges"/>
<rect x="148.8" y="2010.8" width="50.8" height="10.5" fill="#c98d26" shape-rendering="crispEdges"/>
<rect x="148.8" y="2020.9" width="50.8" height="10.5" fill="#100b03" shape-rendering="crispEdges"/>
<rect x="148.8" y="2031.1" width="50.8" height="10.5" fill="#302209" shape-rendering="crispEdges"/>
<rect x="148.8" y="2041.2" width="50.8" height="10.5" fill="#50380f" shape-rendering="crispEdges"/>
<rect x="148.8" y="2051.3" width="50.8" height="10.5" fill="#50380f" shape-rendering="crispEdges"/>
<rect x="148.8" y="2061.4" width="50.8" height="10.5" fill="#181105" shape-rendering="crispEdges"/>
<rect x="148.8" y="2071.6" width="50.8" height="10.5" fill="#48330e" shape-rendering="crispEdges"/>
<rect x="148.8" y="2081.7" width="50.8" height="10.5" fill="#815a19" shape-rendering="crispEdges"/>
<rect x="148.8" y="2091.8" width="50.8" height="10.5" fill="#000000" shape-rendering="crispEdges"/>
<rect x="148.8" y="2102" width="50.8" height="10.5" fill="#604412" shape-rendering="crispEdges"/>
<rect x="148.8" y="2112.1" width="50.8" height="10.5" fill="#302209" shape-rendering="crispEdges"/>
<rect x="148.8" y="2122.2" width="50.8" height="10.5" fill="#785417" shape-rendering="crispEdges"/>
<rect x="148.8" y="2132.3" width="50.8" height="10.5" fill="#815a19" shape-rendering="crispEdges"/>
<rect x="148.8" y="2142.5" width="50.8" height="10.5" fill="#b17c22" shape-rendering="crispEdges"/>
<rect x="148.8" y="2152.6" width="50.8" height="10.5" fill="#38270b" shape-rendering="crispEdges"/>
<rect x="148.8" y="2162.7" width="50.8" height="10.5" fill="#38270b" shape-rendering="crispEdges"/>
<rect x="148.8" y="2172.8" width="50.8" height="10.5" fill="#402d0c" shape-rendering="crispEdges"/>
<path d="M149.6 1839.4h49.2" stroke="#62f4e9" stroke-width="5.6" stroke-dasharray="21 9" fill="none"/>
<rect x="148.8" y="1575.6" width="50.8" height="607.6" fill="none" stroke="#000" stroke-width="1.9"/>
<path d="M148.8 1580.7h-6.5M148.8 1681.9h-6.5M148.8 1783.2h-6.5M148.8 1884.4h-6.5M148.8 1985.7h-6.5M148.8 2087h-6.5M149.3 2183.2v7M174.2 2183.2v7M199.1 2183.2v7" stroke="#000" stroke-width="1.8"/>
<rect x="218.8" y="1575.4" width="50.8" height="10.5" fill="#a1711f" shape-rendering="crispEdges"/>
<rect x="218.8" y="1585.5" width="50.8" height="10.5" fill="#604412" shape-rendering="crispEdges"/>
<rect x="218.8" y="1595.7" width="50.8" height="10.5" fill="#a97620" shape-rendering="crispEdges"/>
<rect x="218.8" y="1605.8" width="50.8" height="10.5" fill="#996b1d" shape-rendering="crispEdges"/>
<rect x="218.8" y="1615.9" width="50.8" height="10.5" fill="#d99829" shape-rendering="crispEdges"/>
<rect x="218.8" y="1626" width="50.8" height="10.5" fill="#91651c" shape-rendering="crispEdges"/>
<rect x="218.8" y="1636.2" width="50.8" height="10.5" fill="#f2af3c" shape-rendering="crispEdges"/>
<rect x="218.8" y="1646.3" width="50.8" height="10.5" fill="#fae2b9" shape-rendering="crispEdges"/>
<rect x="218.8" y="1656.4" width="50.8" height="10.5" fill="#f8d496" shape-rendering="crispEdges"/>
<rect x="218.8" y="1666.5" width="50.8" height="10.5" fill="#704f15" shape-rendering="crispEdges"/>
<rect x="218.8" y="1676.7" width="50.8" height="10.5" fill="#50380f" shape-rendering="crispEdges"/>
<rect x="218.8" y="1686.8" width="50.8" height="10.5" fill="#f8d79d" shape-rendering="crispEdges"/>
<rect x="218.8" y="1696.9" width="50.8" height="10.5" fill="#f7cb82" shape-rendering="crispEdges"/>
<rect x="218.8" y="1707" width="50.8" height="10.5" fill="#815a19" shape-rendering="crispEdges"/>
<rect x="218.8" y="1717.2" width="50.8" height="10.5" fill="#b98223" shape-rendering="crispEdges"/>
<rect x="218.8" y="1727.3" width="50.8" height="10.5" fill="#e9a32c" shape-rendering="crispEdges"/>
<rect x="218.8" y="1737.4" width="50.8" height="10.5" fill="#91651c" shape-rendering="crispEdges"/>
<rect x="218.8" y="1747.5" width="50.8" height="10.5" fill="#b98223" shape-rendering="crispEdges"/>
<rect x="218.8" y="1757.7" width="50.8" height="10.5" fill="#201706" shape-rendering="crispEdges"/>
<rect x="218.8" y="1767.8" width="50.8" height="10.5" fill="#402d0c" shape-rendering="crispEdges"/>
<rect x="218.8" y="1777.9" width="50.8" height="10.5" fill="#ffffff" shape-rendering="crispEdges"/>
<rect x="218.8" y="1788" width="50.8" height="10.5" fill="#a1711f" shape-rendering="crispEdges"/>
<rect x="218.8" y="1798.2" width="50.8" height="10.5" fill="#704f15" shape-rendering="crispEdges"/>
<rect x="218.8" y="1808.3" width="50.8" height="10.5" fill="#f1a92e" shape-rendering="crispEdges"/>
<rect x="218.8" y="1818.4" width="50.8" height="10.5" fill="#181105" shape-rendering="crispEdges"/>
<rect x="218.8" y="1828.5" width="50.8" height="10.5" fill="#181105" shape-rendering="crispEdges"/>
<rect x="218.8" y="1838.7" width="50.8" height="10.5" fill="#100b03" shape-rendering="crispEdges"/>
<rect x="218.8" y="1848.8" width="50.8" height="10.5" fill="#000000" shape-rendering="crispEdges"/>
<rect x="218.8" y="1858.9" width="50.8" height="10.5" fill="#50380f" shape-rendering="crispEdges"/>
<rect x="218.8" y="1869.1" width="50.8" height="10.5" fill="#402d0c" shape-rendering="crispEdges"/>
<rect x="218.8" y="1879.2" width="50.8" height="10.5" fill="#000000" shape-rendering="crispEdges"/>
<rect x="218.8" y="1889.3" width="50.8" height="10.5" fill="#604412" shape-rendering="crispEdges"/>
<rect x="218.8" y="1899.4" width="50.8" height="10.5" fill="#815a19" shape-rendering="crispEdges"/>
<rect x="218.8" y="1909.6" width="50.8" height="10.5" fill="#b17c22" shape-rendering="crispEdges"/>
<rect x="218.8" y="1919.7" width="50.8" height="10.5" fill="#704f15" shape-rendering="crispEdges"/>
<rect x="218.8" y="1929.8" width="50.8" height="10.5" fill="#785417" shape-rendering="crispEdges"/>
<rect x="218.8" y="1939.9" width="50.8" height="10.5" fill="#604412" shape-rendering="crispEdges"/>
<rect x="218.8" y="1950.1" width="50.8" height="10.5" fill="#815a19" shape-rendering="crispEdges"/>
<rect x="218.8" y="1960.2" width="50.8" height="10.5" fill="#583e11" shape-rendering="crispEdges"/>
<rect x="218.8" y="1970.3" width="50.8" height="10.5" fill="#604412" shape-rendering="crispEdges"/>
<rect x="218.8" y="1980.4" width="50.8" height="10.5" fill="#815a19" shape-rendering="crispEdges"/>
<rect x="218.8" y="1990.6" width="50.8" height="10.5" fill="#f1ac35" shape-rendering="crispEdges"/>
<rect x="218.8" y="2000.7" width="50.8" height="10.5" fill="#000000" shape-rendering="crispEdges"/>
<rect x="218.8" y="2010.8" width="50.8" height="10.5" fill="#b17c22" shape-rendering="crispEdges"/>
<rect x="218.8" y="2020.9" width="50.8" height="10.5" fill="#000000" shape-rendering="crispEdges"/>
<rect x="218.8" y="2031.1" width="50.8" height="10.5" fill="#a97620" shape-rendering="crispEdges"/>
<rect x="218.8" y="2041.2" width="50.8" height="10.5" fill="#50380f" shape-rendering="crispEdges"/>
<rect x="218.8" y="2051.3" width="50.8" height="10.5" fill="#201706" shape-rendering="crispEdges"/>
<rect x="218.8" y="2061.4" width="50.8" height="10.5" fill="#583e11" shape-rendering="crispEdges"/>
<rect x="218.8" y="2071.6" width="50.8" height="10.5" fill="#48330e" shape-rendering="crispEdges"/>
<rect x="218.8" y="2081.7" width="50.8" height="10.5" fill="#785417" shape-rendering="crispEdges"/>
<rect x="218.8" y="2091.8" width="50.8" height="10.5" fill="#b17c22" shape-rendering="crispEdges"/>
<rect x="218.8" y="2102" width="50.8" height="10.5" fill="#50380f" shape-rendering="crispEdges"/>
<rect x="218.8" y="2112.1" width="50.8" height="10.5" fill="#181105" shape-rendering="crispEdges"/>
<rect x="218.8" y="2122.2" width="50.8" height="10.5" fill="#785417" shape-rendering="crispEdges"/>
<rect x="218.8" y="2132.3" width="50.8" height="10.5" fill="#201706" shape-rendering="crispEdges"/>
<rect x="218.8" y="2142.5" width="50.8" height="10.5" fill="#100b03" shape-rendering="crispEdges"/>
<rect x="218.8" y="2152.6" width="50.8" height="10.5" fill="#48330e" shape-rendering="crispEdges"/>
<rect x="218.8" y="2162.7" width="50.8" height="10.5" fill="#140e04" shape-rendering="crispEdges"/>
<rect x="218.8" y="2172.8" width="50.8" height="10.5" fill="#48330e" shape-rendering="crispEdges"/>
<path d="M219.6 1839.4h49.2" stroke="#62f4e9" stroke-width="5.6" stroke-dasharray="21 9" fill="none"/>
<rect x="218.8" y="1575.6" width="50.8" height="607.6" fill="none" stroke="#000" stroke-width="1.9"/>
<path d="M218.8 1580.7h-6.5M218.8 1681.9h-6.5M218.8 1783.2h-6.5M218.8 1884.4h-6.5M218.8 1985.7h-6.5M218.8 2087h-6.5M219.3 2183.2v7M244.2 2183.2v7M269.1 2183.2v7" stroke="#000" stroke-width="1.8"/>
<rect x="287.8" y="1575.4" width="50.8" height="10.5" fill="#a1711f" shape-rendering="crispEdges"/>
<rect x="287.8" y="1585.5" width="50.8" height="10.5" fill="#50380f" shape-rendering="crispEdges"/>
<rect x="287.8" y="1595.7" width="50.8" height="10.5" fill="#a97620" shape-rendering="crispEdges"/>
<rect x="287.8" y="1605.8" width="50.8" height="10.5" fill="#996b1d" shape-rendering="crispEdges"/>
<rect x="287.8" y="1615.9" width="50.8" height="10.5" fill="#e9a32c" shape-rendering="crispEdges"/>
<rect x="287.8" y="1626" width="50.8" height="10.5" fill="#f4ba58" shape-rendering="crispEdges"/>
<rect x="287.8" y="1636.2" width="50.8" height="10.5" fill="#f3b751" shape-rendering="crispEdges"/>
<rect x="287.8" y="1646.3" width="50.8" height="10.5" fill="#fceed5" shape-rendering="crispEdges"/>
<rect x="287.8" y="1656.4" width="50.8" height="10.5" fill="#fadfb2" shape-rendering="crispEdges"/>
<rect x="287.8" y="1666.5" width="50.8" height="10.5" fill="#815a19" shape-rendering="crispEdges"/>
<rect x="287.8" y="1676.7" width="50.8" height="10.5" fill="#785417" shape-rendering="crispEdges"/>
<rect x="287.8" y="1686.8" width="50.8" height="10.5" fill="#fbe5c0" shape-rendering="crispEdges"/>
<rect x="287.8" y="1696.9" width="50.8" height="10.5" fill="#f8d79d" shape-rendering="crispEdges"/>
<rect x="287.8" y="1707" width="50.8" height="10.5" fill="#91651c" shape-rendering="crispEdges"/>
<rect x="287.8" y="1717.2" width="50.8" height="10.5" fill="#c18725" shape-rendering="crispEdges"/>
<rect x="287.8" y="1727.3" width="50.8" height="10.5" fill="#f1a92e" shape-rendering="crispEdges"/>
<rect x="287.8" y="1737.4" width="50.8" height="10.5" fill="#b98223" shape-rendering="crispEdges"/>
<rect x="287.8" y="1747.5" width="50.8" height="10.5" fill="#c18725" shape-rendering="crispEdges"/>
<rect x="287.8" y="1757.7" width="50.8" height="10.5" fill="#201706" shape-rendering="crispEdges"/>
<rect x="287.8" y="1767.8" width="50.8" height="10.5" fill="#684914" shape-rendering="crispEdges"/>
<rect x="287.8" y="1777.9" width="50.8" height="10.5" fill="#ffffff" shape-rendering="crispEdges"/>
<rect x="287.8" y="1788" width="50.8" height="10.5" fill="#a1711f" shape-rendering="crispEdges"/>
<rect x="287.8" y="1798.2" width="50.8" height="10.5" fill="#704f15" shape-rendering="crispEdges"/>
<rect x="287.8" y="1808.3" width="50.8" height="10.5" fill="#f1a92e" shape-rendering="crispEdges"/>
<rect x="287.8" y="1818.4" width="50.8" height="10.5" fill="#302209" shape-rendering="crispEdges"/>
<rect x="287.8" y="1828.5" width="50.8" height="10.5" fill="#402d0c" shape-rendering="crispEdges"/>
<rect x="287.8" y="1838.7" width="50.8" height="10.5" fill="#000000" shape-rendering="crispEdges"/>
<rect x="287.8" y="1848.8" width="50.8" height="10.5" fill="#000000" shape-rendering="crispEdges"/>
<rect x="287.8" y="1858.9" width="50.8" height="10.5" fill="#000000" shape-rendering="crispEdges"/>
<rect x="287.8" y="1869.1" width="50.8" height="10.5" fill="#000000" shape-rendering="crispEdges"/>
<rect x="287.8" y="1879.2" width="50.8" height="10.5" fill="#000000" shape-rendering="crispEdges"/>
<rect x="287.8" y="1889.3" width="50.8" height="10.5" fill="#000000" shape-rendering="crispEdges"/>
<rect x="287.8" y="1899.4" width="50.8" height="10.5" fill="#000000" shape-rendering="crispEdges"/>
<rect x="287.8" y="1909.6" width="50.8" height="10.5" fill="#0c0802" shape-rendering="crispEdges"/>
<rect x="287.8" y="1919.7" width="50.8" height="10.5" fill="#000000" shape-rendering="crispEdges"/>
<rect x="287.8" y="1929.8" width="50.8" height="10.5" fill="#140e04" shape-rendering="crispEdges"/>
<rect x="287.8" y="1939.9" width="50.8" height="10.5" fill="#140e04" shape-rendering="crispEdges"/>
<rect x="287.8" y="1950.1" width="50.8" height="10.5" fill="#000000" shape-rendering="crispEdges"/>
<rect x="287.8" y="1960.2" width="50.8" height="10.5" fill="#181105" shape-rendering="crispEdges"/>
<rect x="287.8" y="1970.3" width="50.8" height="10.5" fill="#302209" shape-rendering="crispEdges"/>
<rect x="287.8" y="1980.4" width="50.8" height="10.5" fill="#815a19" shape-rendering="crispEdges"/>
<rect x="287.8" y="1990.6" width="50.8" height="10.5" fill="#000000" shape-rendering="crispEdges"/>
<rect x="287.8" y="2000.7" width="50.8" height="10.5" fill="#996b1d" shape-rendering="crispEdges"/>
<rect x="287.8" y="2010.8" width="50.8" height="10.5" fill="#b17c22" shape-rendering="crispEdges"/>
<rect x="287.8" y="2020.9" width="50.8" height="10.5" fill="#281c08" shape-rendering="crispEdges"/>
<rect x="287.8" y="2031.1" width="50.8" height="10.5" fill="#50380f" shape-rendering="crispEdges"/>
<rect x="287.8" y="2041.2" width="50.8" height="10.5" fill="#583e11" shape-rendering="crispEdges"/>
<rect x="287.8" y="2051.3" width="50.8" height="10.5" fill="#604412" shape-rendering="crispEdges"/>
<rect x="287.8" y="2061.4" width="50.8" height="10.5" fill="#a97620" shape-rendering="crispEdges"/>
<rect x="287.8" y="2071.6" width="50.8" height="10.5" fill="#704f15" shape-rendering="crispEdges"/>
<rect x="287.8" y="2081.7" width="50.8" height="10.5" fill="#785417" shape-rendering="crispEdges"/>
<rect x="287.8" y="2091.8" width="50.8" height="10.5" fill="#785417" shape-rendering="crispEdges"/>
<rect x="287.8" y="2102" width="50.8" height="10.5" fill="#604412" shape-rendering="crispEdges"/>
<rect x="287.8" y="2112.1" width="50.8" height="10.5" fill="#302209" shape-rendering="crispEdges"/>
<rect x="287.8" y="2122.2" width="50.8" height="10.5" fill="#785417" shape-rendering="crispEdges"/>
<rect x="287.8" y="2132.3" width="50.8" height="10.5" fill="#785417" shape-rendering="crispEdges"/>
<rect x="287.8" y="2142.5" width="50.8" height="10.5" fill="#704f15" shape-rendering="crispEdges"/>
<rect x="287.8" y="2152.6" width="50.8" height="10.5" fill="#50380f" shape-rendering="crispEdges"/>
<rect x="287.8" y="2162.7" width="50.8" height="10.5" fill="#302209" shape-rendering="crispEdges"/>
<rect x="287.8" y="2172.8" width="50.8" height="10.5" fill="#302209" shape-rendering="crispEdges"/>
<path d="M288.6 1839.4h49.2" stroke="#62f4e9" stroke-width="5.6" stroke-dasharray="21 9" fill="none"/>
<rect x="287.8" y="1575.6" width="50.8" height="607.6" fill="none" stroke="#000" stroke-width="1.9"/>
<path d="M287.8 1580.7h-6.5M287.8 1681.9h-6.5M287.8 1783.2h-6.5M287.8 1884.4h-6.5M287.8 1985.7h-6.5M287.8 2087h-6.5M288.3 2183.2v7M313.2 2183.2v7M338.1 2183.2v7" stroke="#000" stroke-width="1.8"/>
<rect x="356.8" y="1577.4" width="50.8" height="10.5" fill="#704f15" shape-rendering="crispEdges"/>
<rect x="356.8" y="1587.5" width="50.8" height="10.5" fill="#704f15" shape-rendering="crispEdges"/>
<rect x="356.8" y="1597.7" width="50.8" height="10.5" fill="#684914" shape-rendering="crispEdges"/>
<rect x="356.8" y="1607.8" width="50.8" height="10.5" fill="#815a19" shape-rendering="crispEdges"/>
<rect x="356.8" y="1617.9" width="50.8" height="10.5" fill="#a97620" shape-rendering="crispEdges"/>
<rect x="356.8" y="1628" width="50.8" height="10.5" fill="#e9a32c" shape-rendering="crispEdges"/>
<rect x="356.8" y="1638.2" width="50.8" height="10.5" fill="#e9a32c" shape-rendering="crispEdges"/>
<rect x="356.8" y="1648.3" width="50.8" height="10.5" fill="#f4bd5f" shape-rendering="crispEdges"/>
<rect x="356.8" y="1658.4" width="50.8" height="10.5" fill="#f4bd5f" shape-rendering="crispEdges"/>
<rect x="356.8" y="1668.5" width="50.8" height="10.5" fill="#704f15" shape-rendering="crispEdges"/>
<rect x="356.8" y="1678.7" width="50.8" height="10.5" fill="#684914" shape-rendering="crispEdges"/>
<rect x="356.8" y="1688.8" width="50.8" height="10.5" fill="#f8d190" shape-rendering="crispEdges"/>
<rect x="356.8" y="1698.9" width="50.8" height="10.5" fill="#f5c36d" shape-rendering="crispEdges"/>
<rect x="356.8" y="1709" width="50.8" height="10.5" fill="#815a19" shape-rendering="crispEdges"/>
<rect x="356.8" y="1719.2" width="50.8" height="10.5" fill="#a97620" shape-rendering="crispEdges"/>
<rect x="356.8" y="1729.3" width="50.8" height="10.5" fill="#d99829" shape-rendering="crispEdges"/>
<rect x="356.8" y="1739.4" width="50.8" height="10.5" fill="#a1711f" shape-rendering="crispEdges"/>
<rect x="356.8" y="1749.5" width="50.8" height="10.5" fill="#91651c" shape-rendering="crispEdges"/>
<rect x="356.8" y="1759.7" width="50.8" height="10.5" fill="#50380f" shape-rendering="crispEdges"/>
<rect x="356.8" y="1769.8" width="50.8" height="10.5" fill="#201706" shape-rendering="crispEdges"/>
<rect x="356.8" y="1779.9" width="50.8" height="10.5" fill="#ffffff" shape-rendering="crispEdges"/>
<rect x="356.8" y="1790" width="50.8" height="10.5" fill="#91651c" shape-rendering="crispEdges"/>
<rect x="356.8" y="1800.2" width="50.8" height="10.5" fill="#815a19" shape-rendering="crispEdges"/>
<rect x="356.8" y="1810.3" width="50.8" height="10.5" fill="#f2b243" shape-rendering="crispEdges"/>
<rect x="356.8" y="1820.4" width="50.8" height="10.5" fill="#604412" shape-rendering="crispEdges"/>
<rect x="356.8" y="1830.5" width="50.8" height="10.5" fill="#402d0c" shape-rendering="crispEdges"/>
<rect x="356.8" y="1840.7" width="50.8" height="10.5" fill="#000000" shape-rendering="crispEdges"/>
<rect x="356.8" y="1850.8" width="50.8" height="10.5" fill="#000000" shape-rendering="crispEdges"/>
<rect x="356.8" y="1860.9" width="50.8" height="10.5" fill="#000000" shape-rendering="crispEdges"/>
<rect x="356.8" y="1871.1" width="50.8" height="10.5" fill="#000000" shape-rendering="crispEdges"/>
<rect x="356.8" y="1881.2" width="50.8" height="10.5" fill="#000000" shape-rendering="crispEdges"/>
<rect x="356.8" y="1891.3" width="50.8" height="10.5" fill="#000000" shape-rendering="crispEdges"/>
<rect x="356.8" y="1901.4" width="50.8" height="10.5" fill="#000000" shape-rendering="crispEdges"/>
<rect x="356.8" y="1911.6" width="50.8" height="10.5" fill="#000000" shape-rendering="crispEdges"/>
<rect x="356.8" y="1921.7" width="50.8" height="10.5" fill="#000000" shape-rendering="crispEdges"/>
<rect x="356.8" y="1931.8" width="50.8" height="10.5" fill="#000000" shape-rendering="crispEdges"/>
<rect x="356.8" y="1941.9" width="50.8" height="10.5" fill="#000000" shape-rendering="crispEdges"/>
<rect x="356.8" y="1952.1" width="50.8" height="10.5" fill="#000000" shape-rendering="crispEdges"/>
<rect x="356.8" y="1962.2" width="50.8" height="10.5" fill="#000000" shape-rendering="crispEdges"/>
<rect x="356.8" y="1972.3" width="50.8" height="10.5" fill="#000000" shape-rendering="crispEdges"/>
<rect x="356.8" y="1982.4" width="50.8" height="10.5" fill="#815a19" shape-rendering="crispEdges"/>
<rect x="356.8" y="1992.6" width="50.8" height="10.5" fill="#000000" shape-rendering="crispEdges"/>
<rect x="356.8" y="2002.7" width="50.8" height="10.5" fill="#583e11" shape-rendering="crispEdges"/>
<rect x="356.8" y="2012.8" width="50.8" height="10.5" fill="#604412" shape-rendering="crispEdges"/>
<rect x="356.8" y="2022.9" width="50.8" height="10.5" fill="#302209" shape-rendering="crispEdges"/>
<rect x="356.8" y="2033.1" width="50.8" height="10.5" fill="#181105" shape-rendering="crispEdges"/>
<rect x="356.8" y="2043.2" width="50.8" height="10.5" fill="#604412" shape-rendering="crispEdges"/>
<rect x="356.8" y="2053.3" width="50.8" height="10.5" fill="#583e11" shape-rendering="crispEdges"/>
<rect x="356.8" y="2063.4" width="50.8" height="10.5" fill="#201706" shape-rendering="crispEdges"/>
<rect x="356.8" y="2073.6" width="50.8" height="10.5" fill="#48330e" shape-rendering="crispEdges"/>
<rect x="356.8" y="2083.7" width="50.8" height="10.5" fill="#50380f" shape-rendering="crispEdges"/>
<rect x="356.8" y="2093.8" width="50.8" height="10.5" fill="#000000" shape-rendering="crispEdges"/>
<rect x="356.8" y="2104" width="50.8" height="10.5" fill="#302209" shape-rendering="crispEdges"/>
<rect x="356.8" y="2114.1" width="50.8" height="10.5" fill="#50380f" shape-rendering="crispEdges"/>
<rect x="356.8" y="2124.2" width="50.8" height="10.5" fill="#a1711f" shape-rendering="crispEdges"/>
<rect x="356.8" y="2134.3" width="50.8" height="10.5" fill="#704f15" shape-rendering="crispEdges"/>
<rect x="356.8" y="2144.5" width="50.8" height="10.5" fill="#a97620" shape-rendering="crispEdges"/>
<rect x="356.8" y="2154.6" width="50.8" height="10.5" fill="#302209" shape-rendering="crispEdges"/>
<rect x="356.8" y="2164.7" width="50.8" height="10.5" fill="#50380f" shape-rendering="crispEdges"/>
<rect x="356.8" y="2174.8" width="50.8" height="10.5" fill="#040301" shape-rendering="crispEdges"/>
<path d="M357.6 1841.4h49.2" stroke="#62f4e9" stroke-width="5.6" stroke-dasharray="21 9" fill="none"/>
<rect x="356.8" y="1577.6" width="50.8" height="607.6" fill="none" stroke="#000" stroke-width="1.9"/>
<path d="M356.8 1582.7h-6.5M356.8 1683.9h-6.5M356.8 1785.2h-6.5M356.8 1886.4h-6.5M356.8 1987.7h-6.5M356.8 2089h-6.5M357.3 2185.2v7M382.2 2185.2v7M407.1 2185.2v7" stroke="#000" stroke-width="1.8"/>
<text x="132.6" y="1593" font-size="33.2" text-anchor="end">0</text>
<text x="132.6" y="1694.2" font-size="33.2" text-anchor="end">10</text>
<text x="132.6" y="1795.5" font-size="33.2" text-anchor="end">20</text>
<text x="132.6" y="1896.7" font-size="33.2" text-anchor="end">30</text>
<text x="132.6" y="1998" font-size="33.2" text-anchor="end">40</text>
<text x="132.6" y="2099.3" font-size="33.2" text-anchor="end">50</text>
<text font-size="33.2" text-anchor="middle" transform="translate(69 1880) rotate(-90)">Unit number</text>
<text font-size="32.6" text-anchor="middle" fill="#2f4aa0" font-weight="bold" transform="translate(449 1690) rotate(-90)">Backbone</text>
<text font-size="32.6" text-anchor="middle" fill="#e8913a" font-weight="bold" transform="translate(449 2010) rotate(-90)">Non-Rigid</text>
<defs><linearGradient id="cbD" x1="0" y1="1" x2="0" y2="0"><stop offset="0" stop-color="#000"/><stop offset="0.5" stop-color="#f1a92e"/><stop offset="1" stop-color="#fff"/></linearGradient><linearGradient id="cbE" x1="0" y1="0" x2="0" y2="1"><stop offset="0" stop-color="#000"/><stop offset="0.5" stop-color="#f1a92e"/><stop offset="1" stop-color="#fff"/></linearGradient></defs>
<rect x="485.8" y="1575.4" width="31.3" height="608.4" fill="url(#cbD)" stroke="#000" stroke-width="1.8"/>
<text x="531" y="1686.2" font-size="33.2">50</text>
<text x="531" y="1788.1" font-size="33.2">40</text>
<text x="531" y="1890.2" font-size="33.2">30</text>
<text x="531" y="1992.2" font-size="33.2">20</text>
<text x="531" y="2094.1" font-size="33.2">10</text>
<path d="M517.1 1674.6h6.5M517.1 1776.5h6.5M517.1 1878.6h6.5M517.1 1980.6h6.5M517.1 2082.5h6.5" stroke="#000" stroke-width="1.8"/>
<text font-size="33.2" text-anchor="middle" transform="translate(616 1880) rotate(-90)">Firing rate (Hz)</text>
<text x="644.2" y="1611.2" font-size="61">E</text>
<rect x="769.6" y="1585.9" width="51" height="10.5" fill="#fffcf8" shape-rendering="crispEdges"/>
<rect x="769.6" y="1596" width="51" height="10.5" fill="#fcebcf" shape-rendering="crispEdges"/>
<rect x="769.6" y="1606.1" width="51" height="10.5" fill="#fdf5e7" shape-rendering="crispEdges"/>
<rect x="769.6" y="1616.3" width="51" height="10.5" fill="#fffcf8" shape-rendering="crispEdges"/>
<rect x="769.6" y="1626.4" width="51" height="10.5" fill="#fffcf8" shape-rendering="crispEdges"/>
<rect x="769.6" y="1636.5" width="51" height="10.5" fill="#fae1b7" shape-rendering="crispEdges"/>
<rect x="769.6" y="1646.6" width="51" height="10.5" fill="#fefaf3" shape-rendering="crispEdges"/>
<rect x="769.6" y="1656.7" width="51" height="10.5" fill="#fefbf5" shape-rendering="crispEdges"/>
<rect x="769.6" y="1666.9" width="51" height="10.5" fill="#fefbf5" shape-rendering="crispEdges"/>
<rect x="769.6" y="1677" width="51" height="10.5" fill="#fefbf5" shape-rendering="crispEdges"/>
<rect x="769.6" y="1687.1" width="51" height="10.5" fill="#fdf0db" shape-rendering="crispEdges"/>
<rect x="769.6" y="1697.2" width="51" height="10.5" fill="#fdf5e7" shape-rendering="crispEdges"/>
<rect x="769.6" y="1707.3" width="51" height="10.5" fill="#fefbf5" shape-rendering="crispEdges"/>
<rect x="769.6" y="1717.5" width="51" height="10.5" fill="#fefbf5" shape-rendering="crispEdges"/>
<rect x="769.6" y="1727.6" width="51" height="10.5" fill="#fefbf5" shape-rendering="crispEdges"/>
<rect x="769.6" y="1737.7" width="51" height="10.5" fill="#fefbf5" shape-rendering="crispEdges"/>
<rect x="769.6" y="1747.8" width="51" height="10.5" fill="#fdf5e7" shape-rendering="crispEdges"/>
<rect x="769.6" y="1757.9" width="51" height="10.5" fill="#fdf5e7" shape-rendering="crispEdges"/>
<rect x="769.6" y="1768.1" width="51" height="10.5" fill="#fae1b7" shape-rendering="crispEdges"/>
<rect x="769.6" y="1778.2" width="51" height="10.5" fill="#fbe6c3" shape-rendering="crispEdges"/>
<rect x="769.6" y="1788.3" width="51" height="10.5" fill="#fef7ec" shape-rendering="crispEdges"/>
<rect x="769.6" y="1798.4" width="51" height="10.5" fill="#fef7ec" shape-rendering="crispEdges"/>
<rect x="769.6" y="1808.5" width="51" height="10.5" fill="#fdf2e0" shape-rendering="crispEdges"/>
<rect x="769.6" y="1818.7" width="51" height="10.5" fill="#fdf3e2" shape-rendering="crispEdges"/>
<rect x="769.6" y="1828.8" width="51" height="10.5" fill="#f9d79e" shape-rendering="crispEdges"/>
<rect x="769.6" y="1838.9" width="51" height="10.5" fill="#fadeaf" shape-rendering="crispEdges"/>
<rect x="769.6" y="1849" width="51" height="10.5" fill="#000000" shape-rendering="crispEdges"/>
<rect x="769.6" y="1859.1" width="51" height="10.5" fill="#fdf0db" shape-rendering="crispEdges"/>
<rect x="769.6" y="1869.3" width="51" height="10.5" fill="#000000" shape-rendering="crispEdges"/>
<rect x="769.6" y="1879.4" width="51" height="10.5" fill="#000000" shape-rendering="crispEdges"/>
<rect x="769.6" y="1889.5" width="51" height="10.5" fill="#000000" shape-rendering="crispEdges"/>
<rect x="769.6" y="1899.6" width="51" height="10.5" fill="#030201" shape-rendering="crispEdges"/>
<rect x="769.6" y="1909.7" width="51" height="10.5" fill="#161004" shape-rendering="crispEdges"/>
<rect x="769.6" y="1919.9" width="51" height="10.5" fill="#5c4012" shape-rendering="crispEdges"/>
<rect x="769.6" y="1930" width="51" height="10.5" fill="#080602" shape-rendering="crispEdges"/>
<rect x="769.6" y="1940.1" width="51" height="10.5" fill="#6a4a14" shape-rendering="crispEdges"/>
<rect x="769.6" y="1950.2" width="51" height="10.5" fill="#8e641b" shape-rendering="crispEdges"/>
<rect x="769.6" y="1960.3" width="51" height="10.5" fill="#0e0a03" shape-rendering="crispEdges"/>
<rect x="769.6" y="1970.5" width="51" height="10.5" fill="#89601a" shape-rendering="crispEdges"/>
<rect x="769.6" y="1980.6" width="51" height="10.5" fill="#cb8f27" shape-rendering="crispEdges"/>
<rect x="769.6" y="1990.7" width="51" height="10.5" fill="#fdf0db" shape-rendering="crispEdges"/>
<rect x="769.6" y="2000.8" width="51" height="10.5" fill="#080602" shape-rendering="crispEdges"/>
<rect x="769.6" y="2010.9" width="51" height="10.5" fill="#f2af3e" shape-rendering="crispEdges"/>
<rect x="769.6" y="2021.1" width="51" height="10.5" fill="#fadfb2" shape-rendering="crispEdges"/>
<rect x="769.6" y="2031.2" width="51" height="10.5" fill="#f2b143" shape-rendering="crispEdges"/>
<rect x="769.6" y="2041.3" width="51" height="10.5" fill="#f3b245" shape-rendering="crispEdges"/>
<rect x="769.6" y="2051.4" width="51" height="10.5" fill="#f9dcaa" shape-rendering="crispEdges"/>
<rect x="769.6" y="2061.5" width="51" height="10.5" fill="#f9d79e" shape-rendering="crispEdges"/>
<rect x="769.6" y="2071.7" width="51" height="10.5" fill="#f4b956" shape-rendering="crispEdges"/>
<rect x="769.6" y="2081.8" width="51" height="10.5" fill="#fdf5e7" shape-rendering="crispEdges"/>
<rect x="769.6" y="2091.9" width="51" height="10.5" fill="#fdf5e7" shape-rendering="crispEdges"/>
<rect x="769.6" y="2102" width="51" height="10.5" fill="#d99829" shape-rendering="crispEdges"/>
<rect x="769.6" y="2112.1" width="51" height="10.5" fill="#fbe6c3" shape-rendering="crispEdges"/>
<rect x="769.6" y="2122.3" width="51" height="10.5" fill="#f8d59a" shape-rendering="crispEdges"/>
<rect x="769.6" y="2132.4" width="51" height="10.5" fill="#fbe4be" shape-rendering="crispEdges"/>
<rect x="769.6" y="2142.5" width="51" height="10.5" fill="#f8d395" shape-rendering="crispEdges"/>
<rect x="769.6" y="2152.6" width="51" height="10.5" fill="#f7cb81" shape-rendering="crispEdges"/>
<rect x="769.6" y="2162.7" width="51" height="10.5" fill="#fdf0db" shape-rendering="crispEdges"/>
<rect x="769.6" y="2172.9" width="51" height="10.5" fill="#f8d59a" shape-rendering="crispEdges"/>
<rect x="769.6" y="2183" width="51" height="10.5" fill="#f8d59a" shape-rendering="crispEdges"/>
<path d="M770.4 1847.7h49.4" stroke="#62f4e9" stroke-width="5.2" stroke-dasharray="21 9" fill="none"/>
<rect x="769.6" y="1586.1" width="51" height="607.2" fill="none" stroke="#000" stroke-width="1.9"/>
<path d="M769.6 1591.2h-6.5M769.6 1692.4h-6.5M769.6 1793.6h-6.5M769.6 1894.8h-6.5M769.6 1996h-6.5M769.6 2097.2h-6.5M770.1 2193.3v7M795.1 2193.3v7M820.1 2193.3v7" stroke="#000" stroke-width="1.8"/>
<text x="752" y="1602.8" font-size="33.2" text-anchor="end">0</text>
<text x="752" y="1704" font-size="33.2" text-anchor="end">10</text>
<text x="752" y="1805.2" font-size="33.2" text-anchor="end">20</text>
<text x="752" y="1906.4" font-size="33.2" text-anchor="end">30</text>
<text x="752" y="2007.6" font-size="33.2" text-anchor="end">40</text>
<text x="752" y="2108.8" font-size="33.2" text-anchor="end">50</text>
<text font-size="33.2" text-anchor="middle" transform="translate(687 1888) rotate(-90)">Unit number</text>
<text font-size="32.6" text-anchor="middle" fill="#2f4aa0" font-weight="bold" transform="translate(858 1714) rotate(-90)">Backbone</text>
<text font-size="32.6" text-anchor="middle" fill="#e8913a" font-weight="bold" transform="translate(858 2033) rotate(-90)">Non-Rigid</text>
<rect x="891" y="1586" width="30" height="607.4" fill="url(#cbE)" stroke="#000" stroke-width="1.8"/>
<text x="934" y="1643.6" font-size="33.2">1.6</text>
<text x="934" y="1714.9" font-size="33.2">1.4</text>
<text x="934" y="1786.1" font-size="33.2">1.2</text>
<text x="934" y="1857.3" font-size="33.2">1</text>
<text x="934" y="1928.5" font-size="33.2">0.8</text>
<text x="934" y="1999.7" font-size="33.2">0.6</text>
<text x="934" y="2070.9" font-size="33.2">0.4</text>
<text x="934" y="2142.1" font-size="33.2">0.2</text>
<path d="M921 1632h6.5M921 1703.3h6.5M921 1774.5h6.5M921 1845.7h6.5M921 1916.9h6.5M921 1988.1h6.5M921 2059.3h6.5M921 2130.5h6.5" stroke="#000" stroke-width="1.8"/>
<text font-size="32.6" text-anchor="middle" transform="translate(1020.5 1888.8) rotate(-90)">Coefficient of variance (CV)</text>
<text x="1032.1" y="1611.2" font-size="61">F</text>
<clipPath id="cpF"><rect x="1162.6" y="1582.2" width="541.3" height="601.4"/></clipPath><g clip-path="url(#cpF)">
<path d="M1187 1595.7L1187.2 1595.4L1187.5 1594.5L1187.8 1593.2L1188.1 1592L1188.3 1591L1188.6 1590.7L1190 1590.6L1191.4 1590.3L1192.8 1589.9L1194.1 1589.5L1195.5 1589.2L1196.9 1589.1L1198.6 1589.2L1200.2 1589.4L1201.9 1589.7L1203.5 1589.9L1205.2 1590.1L1206.8 1590.2L1208.8 1590.4L1210.7 1590.9L1212.6 1591.7L1214.6 1592.4L1216.5 1592.9L1218.4 1593.1L1221.2 1593.2L1224 1593.7L1226.7 1594.2L1229.5 1594.8L1232.2 1595.2L1235 1595.3L1239.2 1595.4L1243.3 1595.5L1247.4 1595.7L1251.6 1595.9L1255.7 1596L1259.9 1596.1L1259.9 1597.3L1255.7 1597.4L1251.6 1597.5L1247.4 1597.7L1243.3 1597.9L1239.2 1598L1235 1598.1L1232.2 1598.2L1229.5 1598.7L1226.7 1599.2L1224 1599.8L1221.2 1600.2L1218.4 1600.3L1216.5 1600.5L1214.6 1601L1212.6 1601.8L1210.7 1602.5L1208.8 1603L1206.8 1603.2L1205.2 1603.3L1203.5 1603.5L1201.9 1603.8L1200.2 1604L1198.6 1604.2L1196.9 1604.3L1195.5 1604.2L1194.1 1603.9L1192.8 1603.5L1191.4 1603.1L1190 1602.8L1188.6 1602.7L1188.3 1602.4L1188.1 1601.5L1187.8 1600.2L1187.5 1599L1187.2 1598L1187 1597.7Z" fill="#3d62a3" stroke="#000" stroke-width="3.1" stroke-linejoin="round"/><path d="M1187 1596.7L1259.9 1596.7" stroke="#000" stroke-width="3.8"/><path d="M1191.9 1596.7L1208.5 1596.7" stroke="#000" stroke-width="7"/><ellipse cx="1200.2" cy="1596.7" rx="6.8" ry="4.4" fill="#fff" stroke="#000" stroke-width="3.8"/>
<path d="M1198.6 1626.7L1198.8 1626.4L1199.1 1625.6L1199.4 1624.5L1199.7 1623.3L1199.9 1622.5L1200.2 1622.2L1206 1622.1L1211.8 1621.9L1217.6 1621.5L1223.4 1621.2L1229.2 1621L1235 1620.9L1243.3 1620.9L1251.6 1621L1259.9 1621.2L1268.1 1621.3L1276.4 1621.4L1284.7 1621.4L1293 1621.4L1301.3 1621.4L1309.6 1621.5L1317.9 1621.5L1326.1 1621.5L1334.4 1621.5L1341.3 1621.6L1348.2 1621.8L1355.1 1622.1L1362 1622.4L1369 1622.6L1375.9 1622.7L1381.4 1622.9L1386.9 1623.3L1392.4 1623.9L1397.9 1624.5L1403.5 1624.9L1409 1625.1L1413.1 1625.2L1417.3 1625.5L1421.4 1625.8L1425.6 1626.2L1429.7 1626.4L1433.8 1626.5L1440.5 1626.5L1447.1 1626.7L1453.7 1626.8L1460.4 1627L1467 1627.1L1473.6 1627.1L1473.6 1628.3L1467 1628.3L1460.4 1628.5L1453.7 1628.6L1447.1 1628.8L1440.5 1628.9L1433.8 1628.9L1429.7 1629L1425.6 1629.2L1421.4 1629.6L1417.3 1630L1413.1 1630.2L1409 1630.3L1403.5 1630.5L1397.9 1630.9L1392.4 1631.5L1386.9 1632.1L1381.4 1632.5L1375.9 1632.7L1369 1632.8L1362 1633L1355.1 1633.3L1348.2 1633.6L1341.3 1633.8L1334.4 1633.9L1326.1 1633.9L1317.9 1633.9L1309.6 1634L1301.3 1634L1293 1634L1284.7 1634L1276.4 1634L1268.1 1634.1L1259.9 1634.2L1251.6 1634.4L1243.3 1634.5L1235 1634.5L1229.2 1634.4L1223.4 1634.2L1217.6 1633.9L1211.8 1633.5L1206 1633.3L1200.2 1633.2L1199.9 1632.9L1199.7 1632.1L1199.4 1631L1199.1 1629.8L1198.8 1629L1198.6 1628.7Z" fill="#e5953b" stroke="#000" stroke-width="3.1" stroke-linejoin="round"/><path d="M1198.6 1627.7L1473.6 1627.7" stroke="#000" stroke-width="3.8"/><path d="M1225.1 1627.7L1359.3 1627.7" stroke="#000" stroke-width="7"/><ellipse cx="1276.4" cy="1627.7" rx="6.8" ry="4.4" fill="#fff" stroke="#000" stroke-width="3.8"/>
<path d="M1238.3 1655.9L1238.9 1655.6L1239.4 1654.9L1240 1653.9L1240.5 1652.9L1241.1 1652.2L1241.6 1651.9L1242.7 1651.8L1243.8 1651.4L1245 1650.8L1246.1 1650.2L1247.2 1649.8L1248.3 1649.7L1249.1 1649.9L1249.9 1650.4L1250.8 1651L1251.6 1651.7L1252.4 1652.1L1253.2 1652.3L1254.1 1652.3L1254.9 1652.2L1255.7 1652L1256.6 1651.9L1257.4 1651.7L1258.2 1651.7L1259 1652L1259.9 1652.8L1260.7 1653.8L1261.5 1654.9L1262.4 1655.6L1263.2 1655.9L1263.2 1657.9L1262.4 1658.2L1261.5 1659L1260.7 1660L1259.9 1661.1L1259 1661.8L1258.2 1662.1L1257.4 1662.1L1256.6 1662L1255.7 1661.8L1254.9 1661.7L1254.1 1661.5L1253.2 1661.5L1252.4 1661.7L1251.6 1662.2L1250.8 1662.8L1249.9 1663.5L1249.1 1663.9L1248.3 1664.1L1247.2 1664L1246.1 1663.6L1245 1663L1243.8 1662.5L1242.7 1662L1241.6 1661.9L1241.1 1661.6L1240.5 1660.9L1240 1659.9L1239.4 1658.9L1238.9 1658.2L1238.3 1657.9Z" fill="#3d62a3" stroke="#000" stroke-width="3.1" stroke-linejoin="round"/><path d="M1238.3 1656.9L1263.2 1656.9" stroke="#000" stroke-width="3.8"/><path d="M1245 1656.9L1254.9 1656.9" stroke="#000" stroke-width="7"/><ellipse cx="1248.3" cy="1656.9" rx="6.8" ry="4.4" fill="#fff" stroke="#000" stroke-width="3.8"/>
<path d="M1271.5 1686.9L1271.7 1686.7L1272 1686L1272.3 1685.1L1272.6 1684.2L1272.8 1683.5L1273.1 1683.3L1277.8 1683.2L1282.5 1682.8L1287.2 1682.4L1291.9 1681.9L1296.6 1681.5L1301.3 1681.4L1304.9 1681.3L1308.5 1681.2L1312.1 1681L1315.7 1680.7L1319.2 1680.6L1322.8 1680.5L1327.5 1680.6L1332.2 1681L1336.9 1681.4L1341.6 1681.9L1346.3 1682.2L1351 1682.3L1356.5 1682.5L1362 1683L1367.6 1683.6L1373.1 1684.2L1378.6 1684.7L1384.1 1684.9L1389.7 1685L1395.2 1685.3L1400.7 1685.8L1406.2 1686.2L1411.8 1686.5L1417.3 1686.6L1422.8 1686.6L1428.3 1686.8L1433.8 1686.9L1439.4 1687.1L1444.9 1687.2L1450.4 1687.2L1461.2 1687.2L1472 1687.2L1482.7 1687.3L1493.5 1687.4L1504.3 1687.4L1515 1687.4L1515 1688.4L1504.3 1688.4L1493.5 1688.5L1482.7 1688.5L1472 1688.6L1461.2 1688.6L1450.4 1688.6L1444.9 1688.6L1439.4 1688.8L1433.8 1688.9L1428.3 1689.1L1422.8 1689.2L1417.3 1689.2L1411.8 1689.3L1406.2 1689.6L1400.7 1690.1L1395.2 1690.5L1389.7 1690.8L1384.1 1690.9L1378.6 1691.1L1373.1 1691.6L1367.6 1692.2L1362 1692.9L1356.5 1693.3L1351 1693.5L1346.3 1693.6L1341.6 1694L1336.9 1694.4L1332.2 1694.9L1327.5 1695.2L1322.8 1695.3L1319.2 1695.2L1315.7 1695.1L1312.1 1694.9L1308.5 1694.6L1304.9 1694.5L1301.3 1694.4L1296.6 1694.3L1291.9 1693.9L1287.2 1693.5L1282.5 1693L1277.8 1692.6L1273.1 1692.5L1272.8 1692.3L1272.6 1691.6L1272.3 1690.7L1272 1689.8L1271.7 1689.1L1271.5 1688.9Z" fill="#e5953b" stroke="#000" stroke-width="3.1" stroke-linejoin="round"/><path d="M1271.5 1687.9L1515 1687.9" stroke="#000" stroke-width="3.8"/><path d="M1304.6 1687.9L1356 1687.9" stroke="#000" stroke-width="7"/><ellipse cx="1322.8" cy="1687.9" rx="6.8" ry="4.4" fill="#fff" stroke="#000" stroke-width="3.8"/>
<path d="M1200.2 1716.1L1200.5 1715.9L1200.8 1715.2L1201 1714.4L1201.3 1713.5L1201.6 1712.8L1201.9 1712.6L1204.1 1712.4L1206.3 1712L1208.5 1711.5L1210.7 1710.9L1212.9 1710.5L1215.1 1710.3L1217.3 1710.2L1219.5 1710.1L1221.8 1709.8L1224 1709.6L1226.2 1709.4L1228.4 1709.3L1231.1 1709.5L1233.9 1709.9L1236.7 1710.5L1239.4 1711L1242.2 1711.4L1245 1711.6L1248.8 1711.8L1252.7 1712.3L1256.6 1713.1L1260.4 1713.8L1264.3 1714.3L1268.1 1714.5L1272.3 1714.6L1276.4 1714.9L1280.6 1715.2L1284.7 1715.6L1288.9 1715.8L1293 1715.9L1301.7 1715.9L1310.4 1716.1L1319.1 1716.3L1327.8 1716.4L1336.5 1716.6L1345.2 1716.6L1345.2 1717.6L1336.5 1717.6L1327.8 1717.8L1319.1 1718L1310.4 1718.1L1301.7 1718.3L1293 1718.3L1288.9 1718.4L1284.7 1718.7L1280.6 1719L1276.4 1719.4L1272.3 1719.6L1268.1 1719.7L1264.3 1719.9L1260.4 1720.4L1256.6 1721.2L1252.7 1721.9L1248.8 1722.4L1245 1722.6L1242.2 1722.8L1239.4 1723.2L1236.7 1723.8L1233.9 1724.3L1231.1 1724.7L1228.4 1724.9L1226.2 1724.8L1224 1724.7L1221.8 1724.4L1219.5 1724.2L1217.3 1724L1215.1 1723.9L1212.9 1723.7L1210.7 1723.3L1208.5 1722.8L1206.3 1722.2L1204.1 1721.8L1201.9 1721.6L1201.6 1721.4L1201.3 1720.7L1201 1719.9L1200.8 1719L1200.5 1718.3L1200.2 1718.1Z" fill="#3d62a3" stroke="#000" stroke-width="3.1" stroke-linejoin="round"/><path d="M1200.2 1717.1L1345.2 1717.1" stroke="#000" stroke-width="3.8"/><path d="M1208.5 1717.1L1240 1717.1" stroke="#000" stroke-width="7"/><ellipse cx="1228.4" cy="1717.1" rx="6.8" ry="4.4" fill="#fff" stroke="#000" stroke-width="3.8"/>
<path d="M1246.6 1747.1L1246.9 1746.8L1247.2 1746.2L1247.4 1745.2L1247.7 1744.3L1248 1743.6L1248.3 1743.3L1254.3 1743.2L1260.4 1743L1266.5 1742.6L1272.6 1742.3L1278.6 1742L1284.7 1741.9L1295.4 1741.8L1306 1741.7L1316.6 1741.4L1327.2 1741.2L1337.9 1741L1348.5 1740.9L1357.2 1741L1365.9 1741.5L1374.6 1742L1383.3 1742.6L1392 1743L1400.7 1743.1L1409 1743.3L1417.3 1743.7L1425.6 1744.3L1433.8 1744.9L1442.1 1745.3L1450.4 1745.5L1458.7 1745.6L1467 1745.8L1475.3 1746.2L1483.6 1746.5L1491.8 1746.7L1500.1 1746.8L1511.2 1746.8L1522.2 1746.9L1533.3 1747.1L1544.3 1747.2L1555.4 1747.3L1566.4 1747.3L1585.3 1747.3L1604.2 1747.4L1623.2 1747.5L1642.1 1747.5L1661 1747.6L1679.9 1747.6L1679.9 1748.6L1661 1748.6L1642.1 1748.7L1623.2 1748.8L1604.2 1748.8L1585.3 1748.9L1566.4 1748.9L1555.4 1748.9L1544.3 1749L1533.3 1749.2L1522.2 1749.3L1511.2 1749.4L1500.1 1749.4L1491.8 1749.5L1483.6 1749.7L1475.3 1750.1L1467 1750.4L1458.7 1750.6L1450.4 1750.7L1442.1 1750.9L1433.8 1751.3L1425.6 1751.9L1417.3 1752.5L1409 1752.9L1400.7 1753.1L1392 1753.2L1383.3 1753.7L1374.6 1754.2L1365.9 1754.8L1357.2 1755.2L1348.5 1755.3L1337.9 1755.2L1327.2 1755.1L1316.6 1754.8L1306 1754.6L1295.4 1754.4L1284.7 1754.3L1278.6 1754.2L1272.6 1754L1266.5 1753.6L1260.4 1753.3L1254.3 1753L1248.3 1752.9L1248 1752.6L1247.7 1752L1247.4 1751L1247.2 1750.1L1246.9 1749.4L1246.6 1749.1Z" fill="#e5953b" stroke="#000" stroke-width="3.1" stroke-linejoin="round"/><path d="M1246.6 1748.1L1679.9 1748.1" stroke="#000" stroke-width="3.8"/><path d="M1304.6 1748.1L1362.6 1748.1" stroke="#000" stroke-width="7"/><ellipse cx="1348.5" cy="1748.1" rx="6.8" ry="4.4" fill="#fff" stroke="#000" stroke-width="3.8"/>
<path d="M1204.4 1776.3L1204.6 1775.9L1204.9 1774.9L1205.2 1773.4L1205.5 1772L1205.7 1770.9L1206 1770.5L1208.1 1770.4L1210.2 1770.2L1212.2 1770L1214.3 1769.7L1216.4 1769.5L1218.4 1769.4L1222.6 1769.5L1226.7 1769.7L1230.9 1770.1L1235 1770.4L1239.2 1770.6L1243.3 1770.7L1248.8 1770.9L1254.3 1771.3L1259.9 1771.9L1265.4 1772.5L1270.9 1772.9L1276.4 1773.1L1282 1773.2L1287.5 1773.7L1293 1774.2L1298.5 1774.8L1304.1 1775.2L1309.6 1775.3L1315.1 1775.4L1320.6 1775.6L1326.1 1775.8L1331.7 1776.1L1337.2 1776.2L1342.7 1776.3L1356 1776.3L1369.2 1776.4L1382.5 1776.6L1395.7 1776.7L1409 1776.8L1422.3 1776.8L1422.3 1777.8L1409 1777.8L1395.7 1777.9L1382.5 1778.1L1369.2 1778.2L1356 1778.3L1342.7 1778.3L1337.2 1778.4L1331.7 1778.6L1326.1 1778.8L1320.6 1779.1L1315.1 1779.2L1309.6 1779.3L1304.1 1779.4L1298.5 1779.9L1293 1780.4L1287.5 1781L1282 1781.4L1276.4 1781.5L1270.9 1781.7L1265.4 1782.1L1259.9 1782.7L1254.3 1783.3L1248.8 1783.7L1243.3 1783.9L1239.2 1784L1235 1784.2L1230.9 1784.6L1226.7 1784.9L1222.6 1785.1L1218.4 1785.2L1216.4 1785.1L1214.3 1784.9L1212.2 1784.7L1210.2 1784.4L1208.1 1784.2L1206 1784.1L1205.7 1783.7L1205.5 1782.7L1205.2 1781.2L1204.9 1779.8L1204.6 1778.7L1204.4 1778.3Z" fill="#3d62a3" stroke="#000" stroke-width="3.1" stroke-linejoin="round"/><path d="M1204.4 1777.3L1422.3 1777.3" stroke="#000" stroke-width="3.8"/><path d="M1208.5 1777.3L1268.1 1777.3" stroke="#000" stroke-width="7"/><ellipse cx="1218.4" cy="1777.3" rx="6.8" ry="4.4" fill="#fff" stroke="#000" stroke-width="3.8"/>
<path d="M1229.5 1807.3L1229.9 1807L1230.3 1806.2L1230.6 1805.1L1231 1804L1231.3 1803.2L1231.7 1802.9L1236.4 1802.8L1241.1 1802.6L1245.8 1802.3L1250.5 1802L1255.2 1801.8L1259.9 1801.7L1266.8 1801.7L1273.7 1801.8L1280.6 1801.8L1287.5 1801.9L1294.4 1801.9L1301.3 1801.9L1307.4 1802L1313.4 1802.2L1319.5 1802.4L1325.6 1802.7L1331.7 1802.8L1337.7 1802.9L1344.1 1802.8L1350.4 1802.7L1356.8 1802.4L1363.2 1802.2L1369.5 1802L1375.9 1801.9L1381.4 1801.9L1386.9 1801.9L1392.4 1801.8L1397.9 1801.8L1403.5 1801.7L1409 1801.7L1410.4 1801.8L1411.8 1802.1L1413.1 1802.5L1414.5 1802.9L1415.9 1803.2L1417.3 1803.3L1417.6 1803.6L1417.8 1804.3L1418.1 1805.3L1418.4 1806.3L1418.7 1807L1418.9 1807.3L1418.9 1809.3L1418.7 1809.6L1418.4 1810.3L1418.1 1811.3L1417.8 1812.3L1417.6 1813L1417.3 1813.3L1415.9 1813.4L1414.5 1813.7L1413.1 1814.1L1411.8 1814.5L1410.4 1814.8L1409 1814.9L1403.5 1814.9L1397.9 1814.9L1392.4 1814.8L1386.9 1814.8L1381.4 1814.7L1375.9 1814.7L1369.5 1814.6L1363.2 1814.5L1356.8 1814.2L1350.4 1814L1344.1 1813.8L1337.7 1813.7L1331.7 1813.8L1325.6 1814L1319.5 1814.2L1313.4 1814.5L1307.4 1814.6L1301.3 1814.7L1294.4 1814.7L1287.5 1814.8L1280.6 1814.8L1273.7 1814.9L1266.8 1814.9L1259.9 1814.9L1255.2 1814.8L1250.5 1814.6L1245.8 1814.3L1241.1 1814L1236.4 1813.8L1231.7 1813.7L1231.3 1813.4L1231 1812.6L1230.6 1811.5L1230.3 1810.4L1229.9 1809.6L1229.5 1809.3Z" fill="#e5953b" stroke="#000" stroke-width="3.1" stroke-linejoin="round"/><path d="M1229.5 1808.3L1418.9 1808.3" stroke="#000" stroke-width="3.8"/><path d="M1269.8 1808.3L1384.1 1808.3" stroke="#000" stroke-width="7"/><ellipse cx="1299.6" cy="1808.3" rx="6.8" ry="4.4" fill="#fff" stroke="#000" stroke-width="3.8"/>
<path d="M1197.7 1836.5L1198.1 1836.3L1198.6 1835.6L1199 1834.8L1199.4 1833.9L1199.8 1833.2L1200.2 1833L1203.3 1832.9L1206.3 1832.5L1209.3 1832L1212.4 1831.4L1215.4 1831L1218.4 1830.9L1221.2 1830.8L1224 1830.7L1226.7 1830.5L1229.5 1830.3L1232.2 1830.2L1235 1830.1L1239.2 1830.2L1243.3 1830.6L1247.4 1831.1L1251.6 1831.6L1255.7 1832L1259.9 1832.1L1264 1832.3L1268.1 1832.7L1272.3 1833.3L1276.4 1833.9L1280.6 1834.3L1284.7 1834.5L1288.9 1834.6L1293 1834.8L1297.1 1835.2L1301.3 1835.5L1305.4 1835.8L1309.6 1835.9L1314.1 1835.9L1318.7 1836L1323.2 1836.1L1327.8 1836.2L1332.4 1836.3L1336.9 1836.3L1336.9 1838.7L1332.4 1838.7L1327.8 1838.8L1323.2 1838.9L1318.7 1839L1314.1 1839.1L1309.6 1839.1L1305.4 1839.2L1301.3 1839.5L1297.1 1839.8L1293 1840.2L1288.9 1840.4L1284.7 1840.5L1280.6 1840.7L1276.4 1841.1L1272.3 1841.7L1268.1 1842.3L1264 1842.7L1259.9 1842.9L1255.7 1843L1251.6 1843.4L1247.4 1843.9L1243.3 1844.4L1239.2 1844.8L1235 1844.9L1232.2 1844.8L1229.5 1844.7L1226.7 1844.5L1224 1844.3L1221.2 1844.2L1218.4 1844.1L1215.4 1844L1212.4 1843.6L1209.3 1843L1206.3 1842.5L1203.3 1842.1L1200.2 1842L1199.8 1841.8L1199.4 1841.1L1199 1840.2L1198.6 1839.4L1198.1 1838.7L1197.7 1838.5Z" fill="#3d62a3" stroke="#000" stroke-width="3.1" stroke-linejoin="round"/><path d="M1197.7 1837.5L1336.9 1837.5" stroke="#000" stroke-width="3.8"/><path d="M1218.4 1837.5L1281.4 1837.5" stroke="#000" stroke-width="7"/><ellipse cx="1241.1" cy="1837.5" rx="6.8" ry="4.4" fill="#fff" stroke="#000" stroke-width="3.8"/>
<path d="M1191.4 1867.9L1198.7 1867.9L1206 1867.8L1213.2 1867.6L1220.5 1867.5L1227.7 1867.3L1235 1867.3L1239.2 1867.2L1243.3 1866.8L1247.4 1866.3L1251.6 1865.8L1255.7 1865.4L1259.9 1865.3L1265.4 1865.1L1270.9 1864.5L1276.4 1863.7L1282 1862.9L1287.5 1862.3L1293 1862.1L1298.5 1862L1304.1 1861.8L1309.6 1861.6L1315.1 1861.3L1320.6 1861.2L1326.1 1861.1L1333 1861.1L1340 1861.2L1346.9 1861.2L1353.8 1861.2L1360.7 1861.3L1367.6 1861.3L1373.1 1861.4L1378.6 1861.5L1384.1 1861.7L1389.7 1861.9L1395.2 1862L1400.7 1862.1L1403.7 1862.2L1406.8 1862.4L1409.8 1862.7L1412.9 1863L1415.9 1863.2L1418.9 1863.3L1419.1 1863.6L1419.3 1864.3L1419.4 1865.4L1419.6 1866.5L1419.8 1867.2L1419.9 1867.5L1419.9 1869.5L1419.8 1869.8L1419.6 1870.5L1419.4 1871.6L1419.3 1872.7L1419.1 1873.4L1418.9 1873.7L1415.9 1873.8L1412.9 1874L1409.8 1874.3L1406.8 1874.6L1403.7 1874.8L1400.7 1874.9L1395.2 1875L1389.7 1875.1L1384.1 1875.3L1378.6 1875.5L1373.1 1875.6L1367.6 1875.7L1360.7 1875.7L1353.8 1875.8L1346.9 1875.8L1340 1875.8L1333 1875.9L1326.1 1875.9L1320.6 1875.8L1315.1 1875.7L1309.6 1875.4L1304.1 1875.2L1298.5 1875L1293 1874.9L1287.5 1874.7L1282 1874.1L1276.4 1873.3L1270.9 1872.5L1265.4 1871.9L1259.9 1871.7L1255.7 1871.6L1251.6 1871.2L1247.4 1870.7L1243.3 1870.2L1239.2 1869.8L1235 1869.7L1227.7 1869.7L1220.5 1869.5L1213.2 1869.4L1206 1869.2L1198.7 1869.1L1191.4 1869.1Z" fill="#e5953b" stroke="#000" stroke-width="3.1" stroke-linejoin="round"/><path d="M1191.4 1868.5L1419.9 1868.5" stroke="#000" stroke-width="3.8"/><path d="M1289.7 1868.5L1374.2 1868.5" stroke="#000" stroke-width="7"/><ellipse cx="1324.5" cy="1868.5" rx="6.8" ry="4.4" fill="#fff" stroke="#000" stroke-width="3.8"/>
<path d="M1190.3 1896.7L1190.5 1896.4L1190.8 1895.6L1191.1 1894.5L1191.4 1893.4L1191.7 1892.6L1191.9 1892.3L1194.1 1892.2L1196.3 1891.9L1198.6 1891.5L1200.8 1891.1L1203 1890.8L1205.2 1890.7L1207.4 1890.7L1209.6 1890.5L1211.8 1890.4L1214 1890.2L1216.2 1890.1L1218.4 1890.1L1221.2 1890.2L1224 1890.5L1226.7 1890.9L1229.5 1891.3L1232.2 1891.6L1235 1891.7L1238.3 1891.9L1241.6 1892.4L1245 1893L1248.3 1893.7L1251.6 1894.1L1254.9 1894.3L1257.7 1894.4L1260.4 1894.7L1263.2 1895L1265.9 1895.4L1268.7 1895.6L1271.5 1895.7L1274.5 1895.7L1277.5 1895.8L1280.6 1895.9L1283.6 1896L1286.7 1896.1L1289.7 1896.1L1289.7 1899.3L1286.7 1899.3L1283.6 1899.4L1280.6 1899.5L1277.5 1899.6L1274.5 1899.7L1271.5 1899.7L1268.7 1899.8L1265.9 1900L1263.2 1900.4L1260.4 1900.8L1257.7 1901L1254.9 1901.1L1251.6 1901.3L1248.3 1901.8L1245 1902.4L1241.6 1903L1238.3 1903.5L1235 1903.7L1232.2 1903.8L1229.5 1904.1L1226.7 1904.5L1224 1904.9L1221.2 1905.2L1218.4 1905.3L1216.2 1905.3L1214 1905.2L1211.8 1905L1209.6 1904.9L1207.4 1904.7L1205.2 1904.7L1203 1904.6L1200.8 1904.3L1198.6 1903.9L1196.3 1903.5L1194.1 1903.2L1191.9 1903.1L1191.7 1902.8L1191.4 1902L1191.1 1900.9L1190.8 1899.8L1190.5 1899L1190.3 1898.7Z" fill="#3d62a3" stroke="#000" stroke-width="3.1" stroke-linejoin="round"/><path d="M1190.3 1897.7L1289.7 1897.7" stroke="#000" stroke-width="3.8"/><path d="M1201.9 1897.7L1245 1897.7" stroke="#000" stroke-width="7"/><ellipse cx="1220.1" cy="1897.7" rx="6.8" ry="4.4" fill="#fff" stroke="#000" stroke-width="3.8"/>
<path d="M1198.6 1927.7L1198.8 1927.5L1199.1 1926.8L1199.4 1925.9L1199.7 1925L1199.9 1924.3L1200.2 1924.1L1203.3 1924.1L1206.3 1924.1L1209.3 1924.1L1212.4 1924.1L1215.4 1924.1L1218.4 1924.1L1221.2 1924L1224 1923.9L1226.7 1923.6L1229.5 1923.4L1232.2 1923.2L1235 1923.1L1237.8 1923L1240.5 1922.6L1243.3 1922.1L1246.1 1921.6L1248.8 1921.2L1251.6 1921.1L1253 1921.1L1254.3 1921.2L1255.7 1921.3L1257.1 1921.4L1258.5 1921.5L1259.9 1921.5L1260.3 1921.9L1260.7 1923L1261.1 1924.6L1261.5 1926.2L1261.9 1927.3L1262.4 1927.7L1262.4 1929.7L1261.9 1930.1L1261.5 1931.2L1261.1 1932.8L1260.7 1934.4L1260.3 1935.5L1259.9 1935.9L1258.5 1935.9L1257.1 1936L1255.7 1936.1L1254.3 1936.2L1253 1936.3L1251.6 1936.3L1248.8 1936.2L1246.1 1935.8L1243.3 1935.3L1240.5 1934.8L1237.8 1934.4L1235 1934.3L1232.2 1934.2L1229.5 1934L1226.7 1933.8L1224 1933.5L1221.2 1933.4L1218.4 1933.3L1215.4 1933.3L1212.4 1933.3L1209.3 1933.3L1206.3 1933.3L1203.3 1933.3L1200.2 1933.3L1199.9 1933.1L1199.7 1932.4L1199.4 1931.5L1199.1 1930.6L1198.8 1929.9L1198.6 1929.7Z" fill="#e5953b" stroke="#000" stroke-width="3.1" stroke-linejoin="round"/><path d="M1198.6 1928.7L1262.5 1928.7" stroke="#000" stroke-width="3.8"/><path d="M1216.8 1928.7L1259.9 1928.7" stroke="#000" stroke-width="7"/><ellipse cx="1248.3" cy="1928.7" rx="6.8" ry="4.4" fill="#fff" stroke="#000" stroke-width="3.8"/>
<path d="M1185.3 1956.9L1185.6 1956.6L1185.9 1955.9L1186.1 1954.9L1186.4 1953.9L1186.7 1953.2L1187 1952.9L1188.6 1952.8L1190.3 1952.4L1191.9 1951.8L1193.6 1951.2L1195.2 1950.8L1196.9 1950.7L1198.6 1950.7L1200.2 1950.6L1201.9 1950.4L1203.5 1950.2L1205.2 1950.1L1206.8 1950.1L1209.3 1950.2L1211.8 1950.6L1214.3 1951L1216.8 1951.5L1219.3 1951.8L1221.8 1951.9L1224.8 1952.1L1227.8 1952.5L1230.9 1953.1L1233.9 1953.7L1236.9 1954.1L1240 1954.3L1243 1954.4L1246.1 1954.7L1249.1 1955L1252.1 1955.4L1255.2 1955.6L1258.2 1955.7L1260.3 1955.7L1262.3 1955.8L1264.3 1955.9L1266.4 1956L1268.4 1956.1L1270.5 1956.1L1270.5 1959.7L1268.4 1959.7L1266.4 1959.8L1264.3 1959.9L1262.3 1960L1260.3 1960.1L1258.2 1960.1L1255.2 1960.2L1252.1 1960.5L1249.1 1960.8L1246.1 1961.2L1243 1961.4L1240 1961.5L1236.9 1961.7L1233.9 1962.1L1230.9 1962.7L1227.8 1963.3L1224.8 1963.7L1221.8 1963.9L1219.3 1964L1216.8 1964.4L1214.3 1964.8L1211.8 1965.2L1209.3 1965.6L1206.8 1965.7L1205.2 1965.7L1203.5 1965.6L1201.9 1965.4L1200.2 1965.2L1198.6 1965.1L1196.9 1965.1L1195.2 1965L1193.6 1964.6L1191.9 1964L1190.3 1963.5L1188.6 1963L1187 1962.9L1186.7 1962.6L1186.4 1961.9L1186.1 1960.9L1185.9 1959.9L1185.6 1959.2L1185.3 1958.9Z" fill="#3d62a3" stroke="#000" stroke-width="3.1" stroke-linejoin="round"/><path d="M1185.3 1957.9L1270.5 1957.9" stroke="#000" stroke-width="3.8"/><path d="M1195.2 1957.9L1231.7 1957.9" stroke="#000" stroke-width="7"/><ellipse cx="1214.3" cy="1957.9" rx="6.8" ry="4.4" fill="#fff" stroke="#000" stroke-width="3.8"/>
<path d="M1190.3 1987.9L1190.5 1987.7L1190.8 1987.2L1191.1 1986.4L1191.4 1985.7L1191.7 1985.1L1191.9 1984.9L1196.3 1984.7L1200.8 1984.3L1205.2 1983.7L1209.6 1983.1L1214 1982.7L1218.4 1982.5L1222.6 1982.5L1226.7 1982.4L1230.9 1982.2L1235 1982.1L1239.2 1981.9L1243.3 1981.9L1248.8 1982L1254.3 1982.2L1259.9 1982.6L1265.4 1983L1270.9 1983.2L1276.4 1983.3L1282 1983.5L1287.5 1983.9L1293 1984.5L1298.5 1985.1L1304.1 1985.5L1309.6 1985.7L1313.7 1985.8L1317.9 1985.9L1322 1986.1L1326.1 1986.3L1330.3 1986.4L1334.4 1986.5L1342.7 1986.5L1351 1986.5L1359.3 1986.4L1367.6 1986.4L1375.9 1986.3L1384.1 1986.3L1390.2 1986.3L1396.3 1986.3L1402.4 1986.3L1408.4 1986.3L1414.5 1986.3L1420.6 1986.3L1420.8 1986.4L1420.9 1986.7L1421.1 1987.1L1421.3 1987.5L1421.4 1987.8L1421.6 1987.9L1421.6 1989.9L1421.4 1990L1421.3 1990.3L1421.1 1990.7L1420.9 1991.1L1420.8 1991.4L1420.6 1991.5L1414.5 1991.5L1408.4 1991.5L1402.4 1991.5L1396.3 1991.5L1390.2 1991.5L1384.1 1991.5L1375.9 1991.5L1367.6 1991.5L1359.3 1991.4L1351 1991.4L1342.7 1991.3L1334.4 1991.3L1330.3 1991.4L1326.1 1991.5L1322 1991.7L1317.9 1991.9L1313.7 1992L1309.6 1992.1L1304.1 1992.3L1298.5 1992.7L1293 1993.3L1287.5 1993.9L1282 1994.3L1276.4 1994.5L1270.9 1994.6L1265.4 1994.9L1259.9 1995.2L1254.3 1995.6L1248.8 1995.8L1243.3 1995.9L1239.2 1995.9L1235 1995.8L1230.9 1995.6L1226.7 1995.5L1222.6 1995.3L1218.4 1995.3L1214 1995.1L1209.6 1994.7L1205.2 1994.1L1200.8 1993.5L1196.3 1993.1L1191.9 1992.9L1191.7 1992.7L1191.4 1992.2L1191.1 1991.4L1190.8 1990.7L1190.5 1990.1L1190.3 1989.9Z" fill="#e5953b" stroke="#000" stroke-width="3.1" stroke-linejoin="round"/><path d="M1190.3 1988.9L1421.6 1988.9" stroke="#000" stroke-width="3.8"/><path d="M1228.4 1988.9L1314.5 1988.9" stroke="#000" stroke-width="7"/><ellipse cx="1270.8" cy="1988.9" rx="6.8" ry="4.4" fill="#fff" stroke="#000" stroke-width="3.8"/>
<path d="M1190.3 2017.1L1190.5 2016.9L1190.8 2016.5L1191.1 2015.8L1191.4 2015.2L1191.7 2014.7L1191.9 2014.5L1195 2014.4L1198 2014L1201 2013.4L1204.1 2012.9L1207.1 2012.4L1210.2 2012.3L1215.1 2012.2L1220.1 2011.8L1225.1 2011.3L1230 2010.8L1235 2010.4L1240 2010.3L1243.3 2010.4L1246.6 2010.7L1249.9 2011.1L1253.2 2011.5L1256.6 2011.8L1259.9 2011.9L1263.5 2012.1L1267 2012.6L1270.6 2013.2L1274.2 2013.9L1277.8 2014.3L1281.4 2014.5L1284.7 2014.6L1288 2014.9L1291.3 2015.2L1294.7 2015.6L1298 2015.8L1301.3 2015.9L1302.8 2015.9L1304.4 2016L1305.9 2016.1L1307.5 2016.2L1309 2016.3L1310.6 2016.3L1310.6 2019.9L1309 2019.9L1307.5 2020L1305.9 2020.1L1304.4 2020.2L1302.8 2020.3L1301.3 2020.3L1298 2020.4L1294.7 2020.7L1291.3 2021L1288 2021.4L1284.7 2021.6L1281.4 2021.7L1277.8 2021.9L1274.2 2022.4L1270.6 2023L1267 2023.7L1263.5 2024.1L1259.9 2024.3L1256.6 2024.4L1253.2 2024.7L1249.9 2025.1L1246.6 2025.5L1243.3 2025.8L1240 2025.9L1235 2025.8L1230 2025.4L1225.1 2024.9L1220.1 2024.4L1215.1 2024L1210.2 2023.9L1207.1 2023.8L1204.1 2023.4L1201 2022.8L1198 2022.3L1195 2021.8L1191.9 2021.7L1191.7 2021.5L1191.4 2021.1L1191.1 2020.4L1190.8 2019.8L1190.5 2019.3L1190.3 2019.1Z" fill="#3d62a3" stroke="#000" stroke-width="3.1" stroke-linejoin="round"/><path d="M1190.3 2018.1L1310.6 2018.1" stroke="#000" stroke-width="3.8"/><path d="M1218.4 2018.1L1268.1 2018.1" stroke="#000" stroke-width="7"/><ellipse cx="1242.3" cy="2018.1" rx="6.8" ry="4.4" fill="#fff" stroke="#000" stroke-width="3.8"/>
<path d="M1219.6 2048.5L1223.5 2048.5L1227.5 2048.3L1231.4 2048.2L1235.4 2048L1239.3 2047.9L1243.3 2047.9L1247.4 2047.8L1251.6 2047.3L1255.7 2046.8L1259.9 2046.2L1264 2045.8L1268.1 2045.7L1273.7 2045.5L1279.2 2044.9L1284.7 2044.1L1290.2 2043.3L1295.8 2042.7L1301.3 2042.5L1305.4 2042.4L1309.6 2042.2L1313.7 2041.9L1317.9 2041.6L1322 2041.4L1326.1 2041.3L1330.3 2041.4L1334.4 2041.7L1338.6 2042.1L1342.7 2042.5L1346.9 2042.8L1351 2042.9L1356.5 2043.1L1362 2043.6L1367.6 2044.3L1373.1 2045L1378.6 2045.5L1384.1 2045.7L1389.7 2045.8L1395.2 2046.1L1400.7 2046.6L1406.2 2047L1411.8 2047.4L1417.3 2047.5L1422.8 2047.6L1428.3 2047.7L1433.8 2047.9L1439.4 2048.1L1444.9 2048.2L1450.4 2048.3L1458.1 2048.3L1465.8 2048.4L1473.5 2048.4L1481.1 2048.5L1488.8 2048.6L1496.5 2048.6L1496.5 2049.6L1488.8 2049.6L1481.1 2049.7L1473.5 2049.8L1465.8 2049.8L1458.1 2049.9L1450.4 2049.9L1444.9 2050L1439.4 2050.1L1433.8 2050.3L1428.3 2050.5L1422.8 2050.6L1417.3 2050.7L1411.8 2050.8L1406.2 2051.2L1400.7 2051.6L1395.2 2052L1389.7 2052.4L1384.1 2052.5L1378.6 2052.7L1373.1 2053.2L1367.6 2053.9L1362 2054.6L1356.5 2055.1L1351 2055.3L1346.9 2055.4L1342.7 2055.7L1338.6 2056.1L1334.4 2056.5L1330.3 2056.8L1326.1 2056.9L1322 2056.8L1317.9 2056.6L1313.7 2056.3L1309.6 2056L1305.4 2055.8L1301.3 2055.7L1295.8 2055.5L1290.2 2054.9L1284.7 2054.1L1279.2 2053.3L1273.7 2052.7L1268.1 2052.5L1264 2052.4L1259.9 2051.9L1255.7 2051.4L1251.6 2050.8L1247.4 2050.4L1243.3 2050.3L1239.3 2050.3L1235.4 2050.2L1231.4 2050L1227.5 2049.8L1223.5 2049.7L1219.6 2049.7Z" fill="#e5953b" stroke="#000" stroke-width="3.1" stroke-linejoin="round"/><path d="M1219.6 2049.1L1496.5 2049.1" stroke="#000" stroke-width="3.8"/><path d="M1298 2049.1L1364.3 2049.1" stroke="#000" stroke-width="7"/><ellipse cx="1325.8" cy="2049.1" rx="6.8" ry="4.4" fill="#fff" stroke="#000" stroke-width="3.8"/>
<path d="M1193.6 2077.3L1193.9 2077.1L1194.1 2076.5L1194.4 2075.7L1194.7 2074.9L1195 2074.3L1195.2 2074.1L1197.7 2074L1200.2 2073.6L1202.7 2073L1205.2 2072.5L1207.7 2072L1210.2 2071.9L1212.9 2071.8L1215.7 2071.7L1218.4 2071.4L1221.2 2071.2L1224 2071L1226.7 2070.9L1231.4 2071L1236.1 2071.2L1240.8 2071.5L1245.5 2071.8L1250.2 2072L1254.9 2072.1L1259.9 2072.2L1264.8 2072.6L1269.8 2073.1L1274.8 2073.6L1279.7 2074L1284.7 2074.1L1290.2 2074.2L1295.8 2074.6L1301.3 2075L1306.8 2075.5L1312.3 2075.8L1317.9 2075.9L1322.1 2076L1326.4 2076.1L1330.7 2076.3L1335 2076.5L1339.3 2076.6L1343.5 2076.7L1343.5 2079.9L1339.3 2080L1335 2080.1L1330.7 2080.3L1326.4 2080.5L1322.1 2080.6L1317.9 2080.7L1312.3 2080.8L1306.8 2081.2L1301.3 2081.6L1295.8 2082.1L1290.2 2082.4L1284.7 2082.5L1279.7 2082.6L1274.8 2083L1269.8 2083.5L1264.8 2084L1259.9 2084.4L1254.9 2084.5L1250.2 2084.6L1245.5 2084.8L1240.8 2085.1L1236.1 2085.4L1231.4 2085.6L1226.7 2085.7L1224 2085.6L1221.2 2085.5L1218.4 2085.2L1215.7 2085L1212.9 2084.8L1210.2 2084.7L1207.7 2084.6L1205.2 2084.2L1202.7 2083.6L1200.2 2083.1L1197.7 2082.6L1195.2 2082.5L1195 2082.3L1194.7 2081.7L1194.4 2080.9L1194.1 2080.1L1193.9 2079.5L1193.6 2079.3Z" fill="#3d62a3" stroke="#000" stroke-width="3.1" stroke-linejoin="round"/><path d="M1193.6 2078.3L1343.5 2078.3" stroke="#000" stroke-width="3.8"/><path d="M1218.4 2078.3L1288 2078.3" stroke="#000" stroke-width="7"/><ellipse cx="1255.9" cy="2078.3" rx="6.8" ry="4.4" fill="#fff" stroke="#000" stroke-width="3.8"/>
<path d="M1237.8 2108.7L1241.5 2108.7L1245.2 2108.6L1248.8 2108.4L1252.5 2108.2L1256.2 2108.1L1259.9 2108.1L1264 2108L1268.1 2107.6L1272.3 2107.1L1276.4 2106.6L1280.6 2106.2L1284.7 2106.1L1288.9 2105.9L1293 2105.4L1297.1 2104.6L1301.3 2103.9L1305.4 2103.3L1309.6 2103.1L1313.7 2103L1317.9 2102.7L1322 2102.3L1326.1 2101.9L1330.3 2101.6L1334.4 2101.5L1338.6 2101.6L1342.7 2102L1346.9 2102.5L1351 2103L1355.1 2103.4L1359.3 2103.5L1363.4 2103.7L1367.6 2104.2L1371.7 2104.9L1375.9 2105.6L1380 2106.1L1384.1 2106.3L1389.7 2106.4L1395.2 2106.7L1400.7 2107.1L1406.2 2107.5L1411.8 2107.8L1417.3 2107.9L1423.1 2107.9L1428.9 2108.1L1434.8 2108.2L1440.6 2108.4L1446.4 2108.5L1452.2 2108.5L1452.2 2110.1L1446.4 2110.1L1440.6 2110.2L1434.8 2110.4L1428.9 2110.6L1423.1 2110.7L1417.3 2110.7L1411.8 2110.8L1406.2 2111.1L1400.7 2111.5L1395.2 2111.9L1389.7 2112.2L1384.1 2112.3L1380 2112.5L1375.9 2113L1371.7 2113.7L1367.6 2114.4L1363.4 2114.9L1359.3 2115.1L1355.1 2115.2L1351 2115.6L1346.9 2116.1L1342.7 2116.6L1338.6 2117L1334.4 2117.1L1330.3 2117L1326.1 2116.7L1322 2116.3L1317.9 2115.9L1313.7 2115.6L1309.6 2115.5L1305.4 2115.3L1301.3 2114.8L1297.1 2114L1293 2113.2L1288.9 2112.7L1284.7 2112.5L1280.6 2112.4L1276.4 2112L1272.3 2111.5L1268.1 2111L1264 2110.6L1259.9 2110.5L1256.2 2110.5L1252.5 2110.4L1248.8 2110.2L1245.2 2110.1L1241.5 2109.9L1237.8 2109.9Z" fill="#e5953b" stroke="#000" stroke-width="3.1" stroke-linejoin="round"/><path d="M1237.8 2109.3L1452.2 2109.3" stroke="#000" stroke-width="3.8"/><path d="M1311.2 2109.3L1359.3 2109.3" stroke="#000" stroke-width="7"/><ellipse cx="1333.3" cy="2109.3" rx="6.8" ry="4.4" fill="#fff" stroke="#000" stroke-width="3.8"/>
<path d="M1213.5 2137.5L1213.7 2137.4L1214 2137.2L1214.3 2136.8L1214.6 2136.4L1214.8 2136.2L1215.1 2136.1L1218.4 2136L1221.8 2135.8L1225.1 2135.6L1228.4 2135.3L1231.7 2135.2L1235 2135.1L1238.3 2134.9L1241.6 2134.3L1245 2133.6L1248.3 2132.8L1251.6 2132.3L1254.9 2132.1L1257.1 2132L1259.3 2131.8L1261.5 2131.4L1263.7 2131.1L1265.9 2130.8L1268.1 2130.7L1270.9 2130.8L1273.7 2131.1L1276.4 2131.5L1279.2 2131.9L1282 2132.2L1284.7 2132.3L1287.5 2132.5L1290.2 2133L1293 2133.7L1295.8 2134.4L1298.5 2134.9L1301.3 2135.1L1303 2135.2L1304.8 2135.3L1306.5 2135.6L1308.2 2135.8L1310 2136L1311.7 2136.1L1311.7 2140.9L1310 2141L1308.2 2141.2L1306.5 2141.4L1304.8 2141.7L1303 2141.8L1301.3 2141.9L1298.5 2142.1L1295.8 2142.6L1293 2143.3L1290.2 2144L1287.5 2144.5L1284.7 2144.7L1282 2144.8L1279.2 2145.1L1276.4 2145.5L1273.7 2145.9L1270.9 2146.2L1268.1 2146.3L1265.9 2146.2L1263.7 2145.9L1261.5 2145.6L1259.3 2145.2L1257.1 2145L1254.9 2144.9L1251.6 2144.7L1248.3 2144.2L1245 2143.4L1241.6 2142.7L1238.3 2142.1L1235 2141.9L1231.7 2141.8L1228.4 2141.7L1225.1 2141.4L1221.8 2141.2L1218.4 2141L1215.1 2140.9L1214.8 2140.8L1214.6 2140.6L1214.3 2140.2L1214 2139.8L1213.7 2139.6L1213.5 2139.5Z" fill="#3d62a3" stroke="#000" stroke-width="3.1" stroke-linejoin="round"/><path d="M1213.5 2138.5L1311.7 2138.5" stroke="#000" stroke-width="3.8"/><path d="M1251.6 2138.5L1288 2138.5" stroke="#000" stroke-width="7"/><ellipse cx="1268.1" cy="2138.5" rx="6.8" ry="4.4" fill="#fff" stroke="#000" stroke-width="3.8"/>
<path d="M1220.8 2168.5L1220.9 2168.4L1221.1 2168.2L1221.3 2167.9L1221.4 2167.6L1221.6 2167.4L1221.8 2167.3L1226.7 2167.1L1231.7 2166.7L1236.7 2166.1L1241.6 2165.5L1246.6 2165.1L1251.6 2164.9L1257.1 2164.8L1262.6 2164.3L1268.1 2163.8L1273.7 2163.2L1279.2 2162.8L1284.7 2162.7L1291.6 2162.6L1298.5 2162.4L1305.4 2162.2L1312.3 2161.9L1319.2 2161.8L1326.1 2161.7L1331.7 2161.8L1337.2 2162.2L1342.7 2162.7L1348.2 2163.2L1353.8 2163.6L1359.3 2163.7L1364.8 2163.9L1370.3 2164.4L1375.9 2165.2L1381.4 2165.9L1386.9 2166.5L1392.4 2166.7L1396.6 2166.8L1400.7 2167L1404.9 2167.3L1409 2167.6L1413.1 2167.8L1417.3 2167.9L1419.1 2167.9L1420.9 2167.9L1422.7 2168L1424.6 2168.1L1426.4 2168.1L1428.2 2168.1L1428.2 2170.9L1426.4 2170.9L1424.6 2170.9L1422.7 2171L1420.9 2171.1L1419.1 2171.1L1417.3 2171.1L1413.1 2171.2L1409 2171.4L1404.9 2171.7L1400.7 2172L1396.6 2172.2L1392.4 2172.3L1386.9 2172.5L1381.4 2173.1L1375.9 2173.8L1370.3 2174.6L1364.8 2175.1L1359.3 2175.3L1353.8 2175.4L1348.2 2175.8L1342.7 2176.3L1337.2 2176.8L1331.7 2177.2L1326.1 2177.3L1319.2 2177.2L1312.3 2177.1L1305.4 2176.8L1298.5 2176.6L1291.6 2176.4L1284.7 2176.3L1279.2 2176.2L1273.7 2175.8L1268.1 2175.2L1262.6 2174.7L1257.1 2174.2L1251.6 2174.1L1246.6 2173.9L1241.6 2173.5L1236.7 2172.9L1231.7 2172.3L1226.7 2171.9L1221.8 2171.7L1221.6 2171.6L1221.4 2171.4L1221.3 2171.1L1221.1 2170.8L1220.9 2170.6L1220.8 2170.5Z" fill="#e5953b" stroke="#000" stroke-width="3.1" stroke-linejoin="round"/><path d="M1220.8 2169.5L1428.2 2169.5" stroke="#000" stroke-width="3.8"/><path d="M1274.8 2169.5L1346 2169.5" stroke="#000" stroke-width="7"/><ellipse cx="1314.5" cy="2169.5" rx="6.8" ry="4.4" fill="#fff" stroke="#000" stroke-width="3.8"/>
</g>
<rect x="1162.6" y="1582.2" width="541.3" height="601.4" fill="none" stroke="#000" stroke-width="1.9"/>
<text x="1147" y="1623.5" font-size="33.3" text-anchor="end">HO1</text>
<text x="1147" y="1683.7" font-size="33.3" text-anchor="end">HO2</text>
<text x="1147" y="1743.9" font-size="33.3" text-anchor="end">HO3</text>
<text x="1147" y="1804.1" font-size="33.3" text-anchor="end">HO4</text>
<text x="1147" y="1864.3" font-size="33.3" text-anchor="end">M1S1</text>
<text x="1147" y="1924.5" font-size="33.3" text-anchor="end">M1S2</text>
<text x="1147" y="1984.7" font-size="33.3" text-anchor="end">M2S1</text>
<text x="1147" y="2044.9" font-size="33.3" text-anchor="end">M2S2</text>
<text x="1147" y="2105.1" font-size="33.3" text-anchor="end">M3S1</text>
<text x="1147" y="2165.3" font-size="33.3" text-anchor="end">M3S2</text>
<text x="1185.3" y="2221.6" font-size="33.2" text-anchor="middle">0</text>
<text x="1351" y="2221.6" font-size="33.2" text-anchor="middle">1</text>
<text x="1516.7" y="2221.6" font-size="33.2" text-anchor="middle">2</text>
<text x="1682.4" y="2221.6" font-size="33.2" text-anchor="middle">3</text>
<path d="M1162.6 1612.3h-6.5M1162.6 1672.5h-6.5M1162.6 1732.7h-6.5M1162.6 1792.9h-6.5M1162.6 1853.1h-6.5M1162.6 1913.3h-6.5M1162.6 1973.5h-6.5M1162.6 2033.7h-6.5M1162.6 2093.9h-6.5M1162.6 2154.1h-6.5M1185.3 2183.6v6.5M1351 2183.6v6.5M1516.7 2183.6v6.5M1682.4 2183.6v6.5" stroke="#000" stroke-width="1.8"/>
<text x="1433.2" y="2250.5" font-size="32.7" text-anchor="middle">Coefficient of variance (CV)</text>
<text x="1681.5" y="2120.3" font-size="32.5" text-anchor="end" fill="#2f4aa0" font-weight="bold">Backbone</text>
<text x="1681.5" y="2158.4" font-size="32.5" text-anchor="end" fill="#e8913a" font-weight="bold">Non-Rigid</text>
</svg>
</body></html>
